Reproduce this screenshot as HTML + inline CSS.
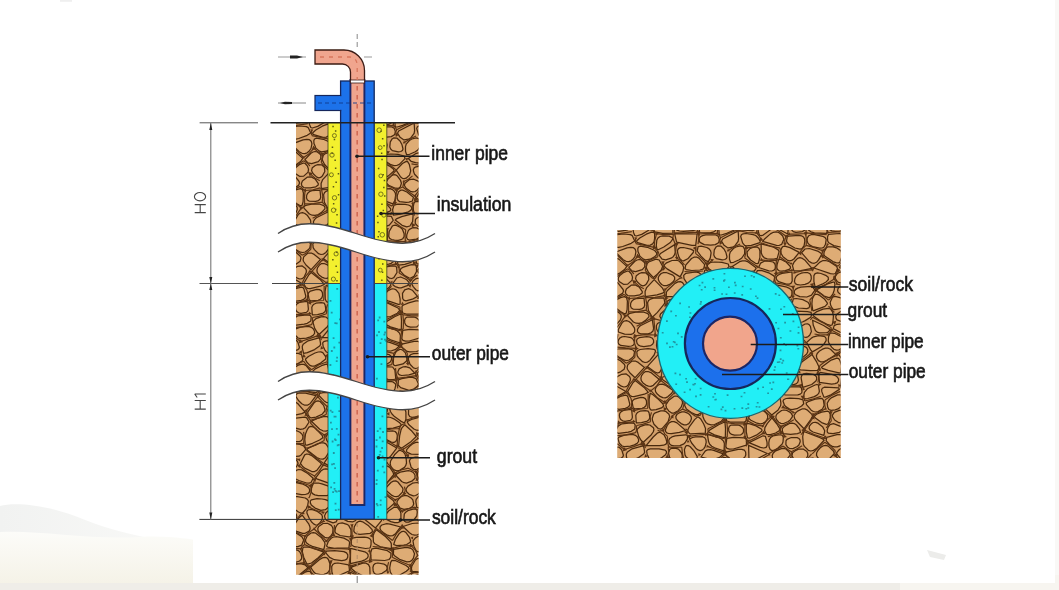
<!DOCTYPE html>
<html><head><meta charset="utf-8">
<style>
html,body{margin:0;padding:0;background:#ffffff;}
body{width:1059px;height:590px;overflow:hidden;position:relative;}
svg{position:absolute;left:0;top:0;display:block;}
text{font-family:"Liberation Sans",sans-serif;}
</style></head>
<body>
<svg width="1059" height="590" viewBox="0 0 1059 590">
<defs>
  <filter id="soft" x="-2%" y="-2%" width="104%" height="104%"><feGaussianBlur stdDeviation="0.45"/></filter>
  <g id="soilTex">
    <rect x="0" y="0" width="232" height="460" fill="#d4a06a"/>
    <path d="M102.9,-24.1 98.9,-23.9 95.9,-22.8 94.0,-21.0 93.0,-18.2 93.0,-14.6 93.7,-11.7 95.0,-9.3 97.1,-7.6 99.9,-6.5 104.1,-6.0 106.8,-7.5 107.7,-9.2 108.7,-18.6 107.8,-21.4 105.8,-23.2ZM166.6,-23.4 158.8,-23.9 155.4,-22.9 152.9,-21.0 151.4,-18.1 150.9,-14.3 151.1,-11.1 152.0,-8.6 153.6,-6.7 156.0,-5.4 158.5,-5.2 161.1,-6.0 163.9,-7.9 166.8,-10.9 170.1,-16.2 170.3,-20.7 169.0,-22.3ZM-4.8,8.4 -2.6,0.2 -3.8,-4.1 -7.6,-7.2 -10.0,-7.6 -12.6,-6.9 -15.4,-5.3 -18.4,-2.6 -19.6,0.0 -19.1,2.6 -16.8,5.1 -12.7,7.5 -7.1,9.7 -5.5,9.5ZM16.4,1.4 15.9,-2.5 13.4,-6.0 9.4,-8.2 7.2,-8.2 5.0,-7.5 1.0,-4.2 -0.4,-2.3 -1.7,2.3 -0.8,4.0 1.3,5.0 4.7,5.3 12.8,4.2 15.2,3.0ZM36.9,-2.6 32.8,-6.7 28.4,-7.1 22.9,-4.9 20.8,-3.3 18.8,0.5 19.5,6.4 20.8,9.5 22.3,10.0 27.7,8.4 34.6,4.3 36.5,2.4 37.4,0.6 37.4,-1.0ZM58.9,7.1 58.9,0.4 58.2,-1.8 56.8,-3.7 51.7,-6.9 46.4,-7.9 44.1,-7.3 40.2,-4.5 39.1,-2.9 38.5,-1.2 38.7,2.3 40.9,5.9 48.7,7.4ZM63.3,-3.7 61.6,2.5 62.8,4.1 65.5,5.0 69.5,5.4 79.1,4.6 81.8,3.6 83.2,2.3 83.3,0.6 80.6,-3.2 74.4,-7.3 71.3,-8.4 68.6,-8.5 66.4,-7.6ZM98.3,-4.7 92.6,-6.5 88.5,-5.8 85.9,-2.9 85.2,-1.2 85.0,2.6 85.7,6.5 95.9,6.8 99.0,6.2 101.1,5.0 102.3,3.1 102.5,0.8 101.9,-1.3ZM122.9,1.7 122.0,-0.6 118.2,-3.3 112.6,-5.8 108.6,-6.1 107.3,-5.3 105.5,-2.2 104.8,3.0 105.2,8.3 105.8,8.9 107.2,9.0 112.7,7.4 119.8,4.3ZM124.8,3.9 138.7,4.6 141.1,3.5 142.4,1.6 142.6,-1.0 142.1,-3.3 138.6,-7.1 132.9,-9.0 130.5,-8.7 128.4,-7.4 126.6,-5.2 124.6,-1.3ZM158.9,0.6 158.2,-1.5 152.9,-4.8 149.1,-5.7 146.4,-5.1 144.7,-2.4 144.3,-0.2 144.2,4.9 145.1,8.3 145.9,9.4 147.3,9.7 149.2,9.1 156.7,3.6ZM173.6,-10.0 172.9,-11.1 171.8,-11.2 170.2,-10.3 163.7,-3.4 161.7,0.3 165.7,3.8 173.3,7.8 173.9,6.8 174.5,-2.3ZM191.5,2.4 191.5,-0.1 190.7,-2.2 189.0,-3.9 186.5,-5.3 183.0,-6.2 180.3,-6.1 178.4,-4.8 177.3,-2.3 176.9,1.2 177.6,3.9 179.3,5.6 182.0,6.4 188.5,5.6 190.5,4.3ZM212.6,7.3 213.1,5.8 212.5,-1.0 211.2,-3.2 208.8,-4.5 205.5,-5.0 194.2,-4.3 193.6,2.2 194.7,4.3 197.0,5.8 200.4,6.8ZM234.3,2.5 237.2,-0.9 236.4,-1.8 223.2,-5.6 215.1,-6.9 214.5,1.6 215.7,3.6 217.9,4.9 221.3,5.3 225.8,5.0 232.3,3.6ZM9.8,8.0 1.4,8.7 -3.0,10.3 -4.6,14.0 -0.7,20.3 1.6,21.3 4.7,21.3 8.7,20.5 17.2,17.3 20.7,15.0 18.2,9.6 16.4,8.6ZM23.7,16.6 33.0,19.3 36.3,19.1 38.6,17.9 40.1,15.7 40.6,12.4 40.6,7.9 40.1,6.6 37.6,6.1 32.3,8.2 25.8,12.0 22.8,14.7 22.7,15.7ZM58.7,13.1 58.4,11.7 55.2,10.1 48.8,9.8 46.0,10.5 44.0,12.0 42.8,14.2 42.3,19.6 42.8,22.7 43.4,23.5 44.7,23.5 49.8,21.0 56.3,16.5ZM62.6,16.1 77.9,19.4 81.7,19.3 83.1,8.0 60.6,7.7ZM101.8,8.9 91.8,8.9 88.6,9.6 86.4,10.8 85.3,12.5 85.2,14.6 86.0,16.4 90.3,18.6 96.7,19.2 101.3,18.6 104.1,17.0 104.9,16.0 105.3,13.4 104.2,10.3ZM110.1,19.3 114.0,21.9 118.5,21.2 121.0,19.7 124.1,15.4 124.6,12.6 124.3,7.2 124.2,5.6 124.2,4.9 108.7,13.0 107.5,15.2ZM144.5,12.2 141.7,9.5 139.2,8.6 132.0,7.5 129.1,7.8 127.4,8.8 126.7,10.5 128.6,16.9 130.6,19.3 132.3,19.8 137.3,19.4 145.9,16.7 146.2,15.2ZM156.4,7.9 150.9,12.7 148.7,15.4 162.5,19.4 165.0,19.5 167.6,18.4 169.9,13.3 168.7,10.0 167.0,8.3 164.7,6.5 162.2,5.8 159.4,6.3ZM173.2,11.1 172.5,15.1 173.3,16.7 174.9,18.5 180.9,22.0 186.1,23.2 188.0,22.6 190.1,19.6 190.8,15.4 190.6,12.9 189.5,11.0 187.5,9.8 184.8,9.3 174.6,10.1ZM193.3,11.8 193.1,14.7 193.9,17.1 195.8,19.1 198.6,20.6 205.7,22.1 208.1,22.0 209.8,21.3 211.4,18.5 212.2,13.3 211.1,11.6 208.8,10.3 200.6,8.6 197.1,8.7 194.7,9.8ZM225.4,7.5 214.5,8.4 213.5,11.0 213.7,15.0 214.8,16.8 219.8,19.6 226.7,21.0 230.2,21.1 231.0,19.4 231.5,12.0 230.5,9.7 228.5,8.2ZM247.8,19.4 249.9,16.2 250.0,14.4 249.2,13.1 242.8,6.1 240.4,4.4 238.5,3.6 237.1,3.8 234.8,8.9 233.9,14.6 234.5,17.0 235.9,18.8 238.3,19.9 244.1,20.5ZM-0.5,25.7 -3.6,19.8 -5.8,18.8 -8.8,18.9 -12.6,20.2 -20.7,24.5 -23.9,27.4 -23.7,28.3 -20.4,30.3 -13.1,32.5 -6.9,32.5 -4.8,31.3ZM13.1,21.8 1.5,26.2 9.2,33.8 12.1,35.3 14.8,35.7 17.2,34.8 19.5,32.7 21.0,30.5 21.9,25.8 21.2,23.2 19.5,21.7 16.8,21.3ZM33.3,21.3 26.4,20.1 24.5,21.0 23.8,22.8 24.0,25.6 25.9,30.1 29.4,33.1 31.5,33.8 36.2,33.2 40.6,30.8 42.9,28.3 42.4,26.6 40.7,24.5ZM45.2,29.3 48.1,33.2 51.7,33.8 57.0,32.2 59.2,30.7 60.6,28.7 61.2,26.3 60.7,18.6 46.5,27.5ZM73.8,32.8 79.2,26.5 79.7,24.6 76.6,23.1 69.4,21.5 66.3,21.6 64.4,22.6 63.5,24.4 63.7,27.0 65.1,31.4 66.3,33.1 67.8,34.5 69.6,34.9ZM87.0,30.1 91.6,34.6 94.4,35.6 96.3,31.9 97.1,26.9 96.5,24.7 95.1,22.9 92.8,21.5 87.1,20.2 84.1,20.7 83.2,25.0ZM100.3,23.8 99.8,28.9 100.7,31.0 102.4,32.6 108.3,33.8 110.8,33.5 112.4,32.5 113.0,31.0 112.0,26.8 110.0,23.0 107.1,20.2 104.0,19.9 102.3,20.7ZM121.9,21.0 119.4,22.5 116.2,26.2 115.5,28.6 115.5,33.3 116.6,36.7 119.6,36.3 125.3,33.8 127.8,32.0 130.6,27.9 130.7,23.5 129.2,20.7 126.1,19.8ZM133.1,25.9 133.4,30.0 136.6,34.0 141.5,37.3 143.2,37.6 144.4,37.1 145.9,31.4 145.9,25.0 145.1,22.5 143.5,21.2 141.2,20.9 138.1,21.7 135.7,22.8ZM158.8,20.8 147.1,17.9 147.3,27.1 148.4,29.8 150.3,31.8 153.2,32.9 156.9,33.2 159.8,33.2 163.2,32.4 165.1,25.6 164.2,23.9ZM185.2,26.4 176.0,21.6 170.7,20.2 169.0,20.5 168.0,21.5 166.9,24.0 167.0,27.2 169.0,30.7 173.2,34.1 175.5,34.8 177.7,34.4 179.9,33.0ZM207.5,28.7 207.3,27.6 204.4,25.4 195.3,22.5 191.0,23.0 187.5,26.7 194.8,35.2 197.6,36.9 200.2,37.3 202.5,36.3 204.6,33.9ZM225.7,36.4 227.6,31.4 227.7,26.8 226.8,24.7 222.5,21.8 219.1,20.9 214.1,20.8 212.5,21.6 210.2,25.7 209.8,28.4 210.7,30.0 218.9,35.6 221.8,36.7 224.1,37.0ZM230.7,23.3 230.0,28.9 230.7,31.0 232.4,32.6 235.1,33.8 241.5,35.1 243.5,35.2 245.2,34.1 245.6,27.3 244.6,25.4 242.9,24.0 240.4,23.1 231.5,22.2ZM-7.9,39.5 -7.6,38.2 -10.3,35.7 -17.3,33.3 -20.3,33.3 -22.3,34.6 -23.3,37.1 -23.3,40.9 -22.4,43.4 -20.5,44.7 -17.7,44.7 -13.9,43.3 -11.0,42.0ZM5.2,47.4 10.8,43.2 12.8,40.4 4.8,33.1 -0.1,31.0 -1.8,31.6 -4.0,34.8 -5.3,37.9 -5.5,39.4 -4.6,43.0 -1.9,47.5 0.0,48.6 2.4,48.6ZM21.6,45.7 28.3,43.6 30.7,40.9 30.9,37.6 30.2,36.2 27.1,33.8 25.1,33.5 23.1,34.0 20.9,35.3 14.9,41.6 18.0,44.9ZM43.6,48.1 47.4,43.6 48.6,40.2 45.2,34.0 41.9,33.2 34.7,36.0 33.3,37.4 32.3,40.8 32.6,42.6 34.6,46.5 39.5,51.6ZM66.1,50.9 68.9,45.6 69.7,41.4 68.5,38.5 65.3,35.3 63.2,34.3 58.0,34.5 52.6,36.8 50.3,38.9 50.2,39.9 51.2,41.2 53.1,42.9ZM77.9,44.5 85.9,44.0 89.7,42.9 90.6,38.9 90.1,37.8 84.9,32.1 82.5,31.0 80.0,31.2 77.5,32.5 71.7,39.2 71.1,42.5 72.2,43.6ZM108.0,36.4 100.8,36.0 96.5,36.5 93.8,38.4 93.1,40.3 95.2,43.0 100.9,46.7 103.9,47.6 106.7,47.5 109.3,46.4 115.0,40.6 114.2,38.0ZM118.3,40.5 121.1,43.3 125.6,44.7 136.3,45.8 140.4,44.8 142.1,42.3 141.7,41.5 134.2,35.9 131.3,34.9 128.5,34.8 125.6,35.7ZM146.6,37.1 144.7,41.5 154.8,44.8 157.9,45.0 160.0,44.2 161.2,42.5 161.4,39.7 160.7,37.5 159.1,36.0 153.1,35.0 150.3,35.2ZM172.4,36.3 166.6,33.3 164.6,33.6 163.1,38.6 162.8,41.5 163.5,43.6 165.2,44.8 167.8,45.1 171.4,44.7 175.7,43.1 176.5,41.9 176.3,40.5ZM186.9,44.6 197.9,42.4 191.1,34.3 188.4,32.4 185.9,31.7 183.6,32.4 181.5,34.5 179.9,36.4 178.5,39.6 179.9,44.8ZM221.3,47.5 223.5,42.9 222.8,40.6 214.8,35.3 211.6,34.5 208.6,34.7 205.9,36.1 199.9,42.0 216.4,47.7 219.4,48.0ZM243.0,46.4 243.3,41.2 242.4,39.6 238.3,37.4 235.0,36.7 230.0,36.7 228.3,37.5 225.5,41.3 228.9,43.4 241.4,46.9ZM-13.5,46.6 -23.8,51.2 -15.4,57.4 -12.3,58.5 -9.6,58.6 -7.1,57.5 -3.7,53.1 -3.4,51.1 -4.0,49.1 -5.4,47.2 -7.5,46.1 -10.2,45.9ZM5.1,55.4 9.5,58.3 13.7,58.1 18.1,54.1 18.5,51.1 17.5,48.2 15.2,45.5 13.5,45.0 8.9,46.9 6.1,49.2 4.5,51.4 4.2,53.4ZM34.5,49.6 31.7,46.8 27.8,46.6 25.3,47.5 22.3,49.7 21.6,52.7 23.2,55.8 26.8,59.1 28.8,59.8 30.6,59.4 32.3,58.1 34.8,53.5ZM55.8,58.4 59.1,55.8 60.7,53.4 60.6,51.2 58.8,49.2 52.2,46.5 49.5,46.6 47.2,47.5 45.3,49.5 44.3,51.5 44.4,53.7 45.5,56.1 47.6,58.5 50.0,59.7 52.7,59.7ZM86.9,52.6 87.3,49.9 86.5,47.9 84.7,46.6 81.7,46.0 71.9,47.3 69.7,49.4 70.0,52.6 72.7,56.9 74.6,58.3 76.8,59.0 79.3,58.9 84.3,56.6ZM89.8,49.9 90.6,56.8 92.6,59.3 94.1,59.6 98.1,58.1 104.2,52.7 103.4,51.1 99.5,48.1 92.2,44.0 91.1,44.0 90.6,44.7ZM120.7,52.9 119.3,46.3 117.6,43.7 116.3,43.4 112.4,45.5 106.2,52.2 110.7,59.0 112.4,60.3 114.3,60.7 116.1,60.2 119.5,57.1ZM137.8,60.0 139.6,53.5 139.6,51.7 138.6,50.3 133.3,48.7 129.1,48.4 126.0,48.8 124.1,49.9 123.3,51.7 123.7,54.1 124.6,56.2 128.0,59.8 135.2,62.9ZM154.7,46.8 147.3,44.4 143.4,44.6 142.3,47.0 142.5,53.0 143.6,54.8 148.8,57.3 155.9,58.2 159.4,57.7 160.7,51.5 159.8,49.9ZM162.3,51.2 162.3,52.9 163.3,54.5 165.3,55.9 172.3,58.1 175.2,58.2 177.2,57.1 178.2,55.0 178.0,46.0 168.1,47.4 165.2,48.4 163.2,49.7ZM186.6,59.0 191.0,58.3 194.3,57.1 196.4,55.3 197.3,52.9 197.1,49.9 196.0,47.8 193.9,46.7 191.0,46.5 187.2,47.2 184.3,48.5 182.2,50.3 180.9,52.7 180.5,55.5 181.3,57.6 183.4,58.7ZM199.9,49.6 199.9,55.5 201.0,60.3 202.4,60.5 208.1,58.2 212.4,55.7 214.4,53.5 214.2,51.3 211.7,49.3 207.0,47.5 203.5,46.9 201.1,47.6ZM239.0,58.8 240.6,56.1 240.9,52.8 239.9,51.2 238.0,49.7 231.2,47.0 227.9,46.4 225.4,46.5 223.5,47.3 221.5,50.1 221.2,52.4 223.2,55.4 224.5,56.3 232.8,58.6ZM-3.6,56.9 -8.1,61.5 -9.8,64.5 -9.0,66.4 -4.7,70.8 -2.6,71.8 2.2,71.3 8.5,67.4 9.5,65.0 9.1,63.5 3.9,56.9 1.4,55.7 -1.1,55.7ZM25.4,61.3 21.3,58.9 17.2,59.2 12.4,63.0 11.4,65.8 11.9,68.0 13.8,69.5 15.4,69.9 20.2,69.8 25.8,68.8 28.2,66.9 28.3,65.6ZM49.8,66.3 50.1,65.2 48.5,62.1 40.2,53.6 32.7,61.6 31.1,65.4 31.2,69.5 31.7,70.4 33.0,70.4 43.0,68.9 48.6,67.2ZM58.6,70.7 66.2,69.7 68.7,69.0 71.1,67.1 72.6,63.4 71.4,60.7 68.5,56.6 66.4,55.6 63.9,55.9 61.0,57.4 53.3,64.7 52.4,66.3 52.2,70.6ZM90.7,71.7 93.6,67.9 94.4,65.4 90.2,61.3 88.5,60.7 83.7,60.7 78.3,61.8 75.9,62.9 76.6,64.7 83.5,71.0 86.2,72.4 88.6,72.6ZM110.3,68.9 111.4,65.3 110.4,62.0 107.4,58.0 105.6,56.9 103.6,56.7 101.6,57.6 97.8,61.2 96.4,64.0 96.5,65.1 98.6,67.3 105.4,70.2 108.6,70.3ZM128.7,63.4 123.8,61.2 119.5,61.6 115.0,65.2 114.4,67.5 116.1,70.2 120.4,73.3 122.8,73.9 125.1,73.5 127.3,72.0 129.4,69.4 130.3,67.2 130.1,65.2ZM158.0,65.5 158.1,63.4 157.2,61.8 152.3,59.5 148.5,59.0 142.8,59.4 141.1,60.3 139.7,63.3 141.4,66.9 143.3,68.9 148.0,70.9 150.6,70.7 155.8,68.7ZM160.1,69.3 173.2,71.3 176.8,71.3 177.9,68.6 177.9,65.2 176.9,63.6 174.8,62.1 171.8,60.8 161.0,58.6 160.0,61.2ZM197.5,69.2 200.9,64.1 198.6,60.9 196.9,60.4 186.8,61.2 183.7,62.1 181.5,63.4 180.4,65.0 180.3,66.9 181.1,68.5 185.8,70.6 192.8,71.0ZM213.5,57.9 202.8,63.6 203.6,65.0 210.2,70.1 214.8,71.7 216.5,71.2 218.8,68.2 220.2,64.2 220.9,58.3 220.4,56.2 219.1,56.1ZM228.6,70.0 235.1,72.5 237.9,72.6 237.9,65.1 237.0,63.3 232.8,60.9 227.0,60.4 225.1,61.2 224.0,62.6 223.6,64.7 224.3,66.6ZM-3.3,75.4 -7.2,71.1 -9.2,70.6 -14.3,72.2 -17.3,74.3 -18.9,76.6 -19.1,78.9 -18.0,81.5 -15.5,84.1 -13.0,85.6 -10.7,86.0 -8.3,85.2 -4.4,81.5 -2.8,78.2ZM12.5,71.6 10.4,70.6 6.5,71.6 1.9,74.2 -0.3,76.9 0.1,79.8 1.5,81.5 6.4,85.5 10.4,87.7 11.6,87.7 12.2,87.0 13.1,83.6 13.4,75.0ZM30.0,72.1 21.9,72.7 19.4,73.7 17.7,75.2 16.7,77.3 16.5,79.9 17.4,81.9 19.1,83.1 25.7,83.4 28.4,82.6 30.0,81.3 30.7,79.3ZM43.4,86.4 50.1,78.2 50.8,76.3 49.9,71.8 39.5,72.2 36.5,73.1 34.6,74.6 33.6,76.7 34.4,84.3 38.3,91.2ZM65.1,84.1 67.0,83.0 69.3,79.8 69.3,75.4 68.1,73.8 66.1,72.8 63.0,72.5 56.1,73.6 53.0,75.4 53.4,77.9 58.6,83.0 60.9,84.1ZM70.8,75.1 71.1,77.2 73.0,80.9 76.9,84.0 79.0,84.7 82.9,83.9 86.1,81.0 87.4,79.0 84.7,75.6 79.2,71.0 74.6,68.8 73.0,69.0 72.0,70.2ZM102.9,85.9 104.8,82.6 105.6,77.4 105.3,75.0 104.2,73.1 102.5,71.6 100.2,70.6 95.9,70.8 93.9,72.1 90.8,75.7 89.9,78.5 97.5,83.9ZM122.4,83.0 123.4,79.3 116.9,74.0 112.7,72.1 111.0,72.1 108.6,73.8 107.3,77.6 107.2,80.3 108.0,82.3 109.8,83.7 116.1,84.4 119.0,84.2ZM136.5,65.3 129.9,73.5 126.4,79.9 128.9,81.7 135.3,83.7 142.1,84.2 143.7,82.3 144.1,80.8 143.5,74.4 141.3,70.1 138.3,66.5ZM150.2,81.3 153.0,81.7 155.2,81.3 156.6,80.1 157.4,78.1 157.6,75.3 157.0,73.4 155.6,72.4 150.5,73.1 146.8,75.3 146.1,76.7 146.8,79.6ZM160.5,83.7 164.1,83.7 173.2,81.5 175.1,80.3 176.0,78.8 176.1,77.1 175.2,75.6 170.6,73.2 166.8,72.3 163.9,72.4 161.9,73.5 160.7,75.6ZM184.4,82.0 192.7,82.7 194.8,81.9 195.7,80.4 195.2,78.1 193.9,76.2 188.8,73.6 182.3,72.5 179.3,72.8 177.9,78.5 178.8,79.9ZM199.1,84.8 211.0,80.4 213.4,77.8 213.1,76.5 210.7,73.3 205.8,69.4 203.5,68.4 201.6,68.3 200.1,69.2 198.3,73.1 197.9,77.9 198.7,84.0ZM216.2,76.3 216.6,79.0 217.9,81.7 218.9,83.1 220.7,83.7 226.6,82.5 236.9,77.5 226.9,71.8 221.1,70.4 219.2,70.9 218.0,72.2ZM255.6,70.2 243.3,72.0 240.0,73.8 238.7,77.7 239.0,79.3 240.7,81.4 244.2,82.1 250.3,81.9 252.9,81.0 254.6,79.5 255.6,77.3ZM5.6,87.1 2.9,85.4 0.3,84.6 -2.3,84.7 -4.8,85.7 -10.7,91.0 -4.7,98.2 -0.4,101.9 6.3,94.0 7.3,91.4 7.1,89.1ZM14.0,90.1 19.4,96.0 22.2,97.2 25.1,97.4 28.3,96.5 31.6,94.4 34.9,90.8 34.9,89.1 33.8,87.6 29.3,86.0 21.6,86.2 15.9,87.3 13.8,88.8ZM60.5,92.9 60.3,88.4 57.8,84.9 55.6,83.6 53.4,83.2 51.2,83.8 46.5,88.0 45.8,90.3 46.8,92.1 49.4,93.7 53.7,94.8 57.0,95.1 59.3,94.4ZM70.5,96.4 76.6,92.3 79.2,89.8 77.4,87.4 73.6,84.5 69.6,83.6 67.7,84.1 64.7,87.0 63.2,91.3 63.2,96.1 64.3,99.1ZM81.3,88.8 81.2,91.0 82.4,93.5 83.4,94.8 85.2,95.7 87.7,96.0 95.0,95.1 99.9,93.2 100.8,92.0 100.5,90.7 98.0,87.6 92.8,84.1 90.2,83.1 87.9,82.9 85.8,83.5 82.8,86.3ZM110.6,96.2 118.4,93.8 120.6,92.4 121.7,90.9 121.6,89.3 120.5,88.0 118.4,87.0 115.2,86.4 107.8,86.2 104.0,87.1 102.6,91.7 103.4,97.1ZM135.3,85.5 128.8,83.7 125.2,83.7 123.9,85.4 123.3,88.5 123.4,92.2 124.1,94.5 124.7,95.1 128.5,95.9 141.9,95.9 141.2,90.3 140.1,88.5ZM144.0,85.5 143.9,91.4 145.0,92.7 149.5,93.5 152.9,93.0 155.5,92.2 158.4,89.8 158.7,85.5 150.3,84.0 145.9,84.1ZM176.2,88.4 176.1,86.7 175.2,85.5 173.5,84.9 170.9,85.0 164.7,86.5 161.5,89.1 160.8,92.4 161.4,95.1 162.2,96.3 163.6,96.7 168.2,95.4 173.8,91.9ZM178.5,87.1 180.2,92.3 182.5,95.7 184.1,96.6 188.4,96.0 191.2,94.6 196.7,91.3 197.5,89.3 197.1,86.3 193.4,85.7 181.6,85.1 179.4,85.8ZM205.8,94.5 214.0,98.7 216.5,99.3 218.0,99.0 218.9,96.3 219.4,90.2 218.6,86.2 216.5,83.0 214.6,82.3 209.0,83.1 202.3,85.9 199.3,88.3 199.2,89.3 200.2,90.6ZM236.9,81.8 227.4,84.9 222.6,88.4 221.8,90.3 222.0,92.2 223.0,93.8 227.1,95.4 230.3,95.6 235.0,94.9 237.5,93.0 239.3,88.3 239.5,84.7 238.9,82.5ZM-16.2,97.1 -24.3,102.9 -18.1,108.3 -15.5,109.2 -12.8,109.2 -10.1,108.0 -7.3,105.8 -5.7,103.6 -5.3,101.4 -6.2,99.3 -8.2,97.1 -10.6,96.0 -13.3,96.0ZM10.6,108.1 17.2,108.3 19.2,107.5 20.4,106.1 20.8,104.0 20.4,101.9 17.5,97.6 14.9,95.5 12.5,94.6 10.3,95.0 8.2,96.6 4.2,103.7 4.4,106.0ZM39.6,102.3 38.3,93.7 26.3,99.8 24.5,101.6 23.5,103.5 23.5,105.5 24.5,106.9 26.6,107.8 34.0,107.9 37.1,106.8 39.0,105.0ZM42.4,99.7 42.6,103.0 43.9,105.6 46.3,107.3 49.8,108.1 60.3,107.4 61.8,106.6 62.8,103.3 61.7,100.6 60.2,99.7 49.2,96.5 45.7,96.4 43.5,97.5ZM81.7,108.2 82.8,105.6 83.4,99.3 82.2,95.9 81.2,94.7 79.5,94.4 77.2,95.1 65.4,102.8 78.2,107.5ZM103.2,102.3 101.4,98.4 95.2,97.8 91.7,98.3 87.0,100.4 85.9,102.1 85.6,104.2 86.1,105.8 87.4,107.1 89.5,108.1 95.1,108.6 99.3,107.1ZM122.6,103.6 123.1,97.2 122.7,96.4 121.4,96.1 111.7,98.6 106.4,100.8 105.2,102.1 112.1,107.3 116.7,108.9 119.9,108.0ZM141.6,101.3 141.4,100.2 138.2,98.9 131.6,98.7 128.7,99.2 126.6,100.2 125.4,101.7 125.2,105.3 127.4,107.9 129.5,108.8 133.8,108.5 138.5,105.6 140.2,103.9ZM161.5,104.0 161.1,99.2 159.9,97.3 156.3,96.6 144.1,97.7 144.2,100.8 144.9,102.3 148.2,106.3 153.2,110.3 155.4,110.8 157.3,110.4 160.2,107.5ZM176.3,107.1 180.3,105.2 182.1,102.8 182.0,100.0 178.9,95.7 177.0,95.0 174.7,95.0 172.0,95.8 166.5,98.9 164.0,102.2 164.3,105.4 167.1,107.2 171.8,107.9ZM186.3,107.6 190.0,111.0 191.9,111.3 193.8,110.8 195.7,109.3 197.4,105.5 196.4,100.3 195.1,98.6 193.4,97.8 191.2,98.0 185.0,101.4 183.9,103.2ZM199.3,99.3 201.4,104.5 203.2,106.1 205.6,106.9 212.7,106.6 214.1,106.1 216.2,103.6 209.6,99.5 198.6,94.2ZM237.5,112.1 235.6,103.6 234.1,101.1 232.0,99.3 229.2,98.3 225.8,98.1 223.2,98.3 220.2,99.6 219.2,102.6ZM249.8,99.1 243.2,95.0 241.0,94.3 239.5,94.6 238.3,97.7 238.2,99.9 238.9,105.7 240.2,107.6 242.4,108.3 245.5,107.6 249.4,105.7 251.4,103.7 251.5,101.4ZM-0.7,104.6 -11.7,111.3 -13.9,114.5 -13.7,115.9 -11.3,118.8 -9.0,120.3 -3.5,122.8 -0.5,123.0 0.5,120.8 2.0,113.4 1.8,107.4ZM6.7,119.4 14.3,120.4 17.5,120.0 19.5,119.0 20.4,117.2 19.9,114.8 18.8,113.0 16.8,111.6 10.7,110.5 7.9,110.9 5.9,112.0 4.6,113.7 4.0,116.1 4.7,118.0ZM22.5,114.9 23.1,117.4 24.5,119.1 26.8,120.2 29.9,120.7 36.7,119.6 38.6,118.3 39.6,116.4 39.5,114.0 38.4,112.3 36.2,111.2 32.8,110.7 25.2,111.7 23.2,113.0ZM44.9,125.5 58.2,118.6 61.1,115.0 61.0,113.4 59.8,112.2 57.6,111.4 54.3,111.1 46.6,111.9 44.3,113.2 42.9,115.0 42.5,119.4 43.1,122.6ZM79.5,114.9 79.8,113.2 79.1,111.5 74.6,108.4 70.8,107.0 65.5,106.2 64.0,106.7 63.2,108.0 62.4,111.0 62.7,114.9 64.3,118.5 67.3,121.7 69.1,122.4 71.1,122.4 73.3,121.5 77.4,118.2ZM94.3,124.6 95.7,120.2 95.8,115.4 95.0,113.3 93.5,111.6 91.3,110.5 84.3,109.1 82.7,109.5 81.9,114.9 84.0,119.0 91.4,124.4ZM110.5,109.5 105.9,107.2 103.9,107.3 102.3,108.1 99.2,113.5 98.7,118.3 99.6,120.2 101.5,121.5 104.4,122.2 108.2,122.3 111.1,121.7 113.0,120.4 114.1,118.5 114.1,115.8 112.4,111.3ZM119.4,122.1 126.5,121.1 131.6,118.5 132.5,116.8 132.4,114.9 130.6,111.8 126.6,109.9 122.7,109.7 119.4,111.4 118.2,112.9 116.8,116.9 116.6,119.5 117.5,121.2ZM149.6,111.6 144.9,107.8 142.6,107.4 140.3,108.1 138.0,109.8 135.2,113.3 134.8,115.2 135.3,118.8 136.7,121.8 137.8,123.0 139.4,123.3 141.7,122.7 147.9,118.9 149.9,116.5 150.5,114.1ZM157.3,117.1 173.5,125.1 172.6,115.7 171.7,112.8 170.3,110.7 168.6,109.5 166.4,109.1 162.3,109.7 155.6,115.0ZM181.3,120.7 190.1,116.6 185.4,110.3 183.6,108.8 179.8,107.9 177.9,108.6 176.6,109.9 175.7,111.9 175.6,117.9 176.6,120.0 178.5,121.0ZM212.1,114.6 212.1,112.7 211.4,111.3 209.9,110.3 204.7,109.6 199.6,110.8 197.4,112.1 194.0,115.2 193.0,116.1 192.6,116.5 196.7,123.9 198.4,125.9 207.2,120.7 209.6,118.6ZM228.5,111.4 220.5,107.3 216.2,106.8 214.6,110.8 214.3,114.8 214.8,116.9 217.6,121.1 219.9,123.3 222.4,124.2 225.0,123.9 227.9,122.3 230.8,119.4 232.0,116.7 231.2,114.0ZM249.8,108.3 238.7,114.0 242.5,120.8 244.5,122.3 246.8,122.9 249.3,122.4 252.1,120.9 254.2,118.9 255.6,116.5 256.1,110.3 255.0,108.3 252.9,107.6ZM-24.2,127.1 -14.9,134.3 -11.7,135.7 -9.0,135.8 -6.8,134.7 -2.7,128.2 -5.0,125.8 -10.2,123.2 -13.1,122.4 -18.3,123.1ZM4.8,131.1 10.4,134.2 12.9,134.5 15.2,134.0 18.8,131.2 19.9,129.6 20.5,125.8 19.4,124.3 17.2,123.3 13.9,122.6 3.2,123.0 1.4,123.9 -0.4,127.4ZM22.8,125.9 23.2,129.7 24.4,131.6 28.6,135.7 31.0,136.5 33.5,136.1 35.9,134.4 40.1,129.0 41.5,125.3 41.2,124.1 39.8,123.3 34.0,122.7 26.2,123.5 24.0,124.5ZM67.6,134.8 68.1,132.1 67.3,127.2 64.2,122.3 62.2,121.6 56.2,122.9 52.2,124.8 48.0,128.2 47.8,129.6 48.8,130.7 53.3,132.8 64.2,134.9ZM87.8,124.8 82.2,122.0 79.5,121.8 76.7,122.4 72.1,125.4 70.7,127.0 70.0,130.5 71.1,131.8 73.3,132.8 76.6,133.3 81.0,133.4 87.3,132.6 89.1,131.6 91.8,127.8ZM109.1,133.4 113.0,129.1 114.6,126.3 108.5,124.9 101.3,124.4 97.2,125.1 94.5,127.6 101.5,133.6 104.2,134.7 106.7,134.6ZM138.8,128.5 137.2,125.0 136.1,123.7 134.1,122.9 127.9,123.1 120.3,124.9 117.0,126.5 117.4,128.2 119.6,130.9 121.4,132.6 123.7,133.5 129.6,133.0ZM141.3,128.0 142.7,132.3 143.8,133.2 148.1,133.9 151.3,133.8 153.6,132.8 155.2,131.0 156.1,128.4 155.5,117.8 149.9,120.6ZM159.4,135.0 160.1,136.0 161.3,136.1 163.2,135.4 173.0,127.7 164.0,123.1 161.4,122.7 159.6,123.5 158.7,125.5 158.6,128.8ZM175.1,128.2 179.4,133.7 181.6,134.6 184.1,134.3 187.1,132.9 192.7,128.0 193.8,125.8 193.7,123.6 192.6,121.6 190.7,120.5 188.1,120.5 184.8,121.5 175.8,126.0 174.9,126.7ZM221.8,128.6 216.5,123.3 214.2,122.2 211.5,122.2 208.5,123.2 205.2,125.3 203.2,127.5 202.4,129.7 202.8,132.1 204.4,134.6 206.6,135.8 209.3,135.9 212.5,134.7ZM232.2,120.6 224.6,128.3 227.8,133.1 229.6,134.0 235.3,133.4 241.9,130.5 244.5,128.0 242.7,123.9 239.5,119.6 237.3,118.6 234.9,118.9ZM-7.9,140.2 -1.0,146.6 3.8,146.8 6.6,145.8 10.1,143.3 11.0,140.0 10.3,138.3 6.5,134.8 3.4,133.1 0.7,132.4 -1.7,132.7 -3.8,134.0ZM21.1,151.7 30.5,141.4 24.2,136.4 21.8,135.2 17.7,135.2 13.7,138.9 13.1,141.9 13.6,143.5 16.0,147.0ZM47.0,144.2 47.9,140.5 48.1,134.6 47.5,132.4 44.4,128.3 35.3,138.4 34.0,139.9 33.3,140.6 41.1,146.2 43.6,147.0 45.6,146.4ZM66.3,139.9 66.2,138.9 63.1,137.3 56.4,136.0 53.4,136.4 51.2,137.8 49.9,140.2 49.4,143.5 50.1,145.5 52.1,146.3 55.3,145.8 63.2,142.5ZM75.2,145.2 83.0,148.7 86.9,149.5 87.6,147.8 87.3,140.6 86.1,138.2 83.9,136.5 80.8,135.4 73.6,134.8 70.0,135.6 68.7,140.5 69.8,141.8ZM89.4,139.4 89.6,142.7 90.6,145.0 92.5,146.3 95.2,146.7 98.7,146.1 101.3,145.3 104.1,143.0 103.6,139.8 102.2,137.9 97.2,133.6 92.9,131.6 91.5,131.8 90.5,132.8ZM114.8,146.4 121.0,144.4 122.6,143.0 123.3,141.4 121.7,135.9 119.0,132.3 117.3,131.6 115.4,131.9 113.3,133.2 111.0,135.5 108.0,139.7 107.4,141.6 107.8,145.9 108.7,147.1ZM127.0,146.0 136.3,145.0 140.6,142.5 141.4,140.9 141.3,139.0 140.2,133.1 138.9,132.6 133.9,133.6 130.1,135.2 125.7,138.4 125.0,140.1ZM144.2,143.4 146.9,148.4 148.6,149.2 153.4,148.4 156.4,146.7 160.0,143.7 160.5,142.2 159.6,139.7 158.5,138.1 156.6,137.1 149.2,137.0 146.9,137.5 144.3,139.9ZM181.4,141.0 176.1,133.3 174.0,132.2 171.7,132.2 169.2,133.3 163.1,139.2 162.6,140.9 163.4,143.6 166.8,147.0 168.7,147.5 171.0,147.2 176.9,144.7 179.3,143.3ZM203.5,144.3 204.9,142.5 204.9,140.7 202.3,135.3 198.1,128.6 188.5,135.5 183.0,140.6 184.1,142.9 186.4,143.8 196.3,144.7ZM207.5,141.3 208.4,142.3 214.2,144.4 225.0,146.9 226.5,146.7 226.9,145.8 227.6,139.8 225.9,134.4 224.7,132.7 222.9,132.1 217.2,134.1ZM230.1,140.8 230.2,142.3 231.3,143.7 233.2,144.9 242.9,147.5 246.5,147.3 247.7,145.3 248.5,141.7 248.4,135.4 246.7,132.8 242.6,132.8 232.8,137.5ZM-4.1,147.8 -6.1,145.5 -8.3,144.5 -10.8,144.8 -13.4,146.2 -16.3,149.0 -17.6,151.4 -17.4,153.6 -15.5,155.5 -12.1,157.1 -7.0,158.2 -5.4,157.7 -1.8,152.4ZM14.0,159.3 16.3,154.3 16.3,152.2 15.5,150.4 12.2,147.9 7.8,148.3 3.2,150.7 0.8,152.9 0.5,153.9 2.3,156.5 7.3,160.2 9.9,161.0 12.1,160.7ZM29.0,156.9 31.8,159.1 34.4,160.2 36.9,160.3 39.3,159.3 44.2,154.4 44.7,153.1 36.9,146.6 34.1,145.5 31.6,145.6 29.5,147.0 27.6,149.6 26.9,152.2 27.3,154.6ZM48.8,153.8 57.8,159.9 59.9,160.2 61.6,159.5 65.1,154.0 66.3,148.7 65.5,147.1 63.3,146.5 59.8,147.1 47.7,151.5ZM82.3,151.0 74.9,146.9 71.5,146.2 69.2,146.6 68.0,148.4 67.8,151.4 68.5,153.9 70.1,155.9 72.5,157.5 75.9,158.5 81.0,158.3 82.8,157.0 84.0,155.0 83.9,153.0ZM93.1,156.0 99.4,160.1 101.8,160.5 103.8,159.7 107.0,154.5 106.6,149.3 105.6,148.1 102.2,147.9 92.7,149.3 89.3,150.5 88.7,151.1 89.2,152.3ZM114.3,157.4 118.8,159.9 120.7,160.1 124.0,158.2 126.5,153.5 126.4,148.8 125.3,146.9 121.8,146.7 118.9,147.3 112.7,149.4 111.0,150.6 110.2,151.8 110.4,153.1ZM128.0,151.7 127.9,153.6 130.2,157.0 135.6,160.0 138.4,160.7 140.8,160.5 142.9,159.5 147.4,154.0 143.8,148.2 141.8,146.9 139.4,146.3 136.5,146.5 130.5,148.7ZM167.9,156.1 167.6,151.7 166.8,150.0 164.1,147.5 162.2,147.2 156.9,149.0 148.7,154.6 151.8,157.3 154.8,159.4 162.0,164.2 164.0,165.6 165.0,166.3 167.3,160.2ZM184.4,154.1 182.9,144.9 181.9,144.8 180.2,145.4 172.7,149.9 170.6,153.7 170.8,155.7 171.8,157.2 176.2,158.7 179.6,158.7 182.1,157.9 183.7,156.4ZM188.8,161.4 197.7,158.5 201.9,155.1 202.7,153.2 202.6,151.2 201.5,149.6 199.4,148.4 192.5,147.3 189.6,147.8 187.8,149.3 187.1,151.7ZM218.0,148.3 206.2,146.4 205.3,147.5 204.9,150.5 205.5,156.4 217.7,158.1 221.0,157.7 223.2,156.8 224.4,155.2 224.6,153.1 223.5,151.2 221.4,149.6ZM245.2,154.8 245.1,153.1 242.2,150.3 235.7,148.3 229.2,147.8 227.6,151.0 226.4,160.8 238.2,158.9 241.8,157.7 244.1,156.3ZM-6.2,164.6 -5.7,170.4 -4.0,172.6 -2.3,172.7 3.0,170.7 11.9,165.5 3.6,160.7 -1.2,158.9 -2.9,159.1 -4.1,159.9ZM13.6,165.6 16.0,169.5 17.6,170.4 20.1,170.6 30.3,168.2 34.3,166.4 30.1,161.4 21.2,154.5 18.9,156.7ZM53.7,170.8 57.7,167.2 59.2,164.6 51.2,159.1 48.4,158.2 45.9,158.3 43.7,159.4 41.9,161.5 41.2,163.7 41.7,165.9 43.3,168.1 46.1,170.4 48.8,171.6 51.3,171.8ZM64.7,159.7 61.3,163.2 61.4,164.9 67.4,170.3 69.7,171.3 74.5,171.0 77.0,169.7 78.9,168.4 80.9,165.6 80.9,164.1 80.1,162.7 75.8,160.3 69.3,158.8ZM82.7,164.2 82.8,167.6 83.8,169.4 87.6,173.2 89.9,174.1 92.2,174.1 94.6,173.1 99.0,169.5 100.9,166.9 100.1,164.6 92.6,157.4 89.8,155.8 87.5,155.4 85.9,156.3ZM102.9,165.3 103.0,166.9 105.2,168.6 109.0,169.8 111.1,169.8 117.2,167.7 119.0,165.8 119.1,164.7 117.3,162.3 115.4,161.0 110.6,159.0 106.8,160.0ZM134.5,162.4 129.3,160.5 127.2,160.4 125.5,160.9 123.0,163.0 121.7,165.8 123.0,168.4 126.1,172.0 128.1,172.8 130.2,172.5 135.0,168.3 136.2,166.0 136.0,164.1ZM144.0,168.3 145.9,171.1 148.2,172.6 150.8,172.9 153.8,172.0 157.2,169.9 158.8,167.7 158.6,165.6 156.7,163.5 153.0,161.3 147.2,159.8 145.1,160.4 143.5,161.9 142.8,163.8ZM168.6,163.5 167.3,168.0 171.6,169.0 183.8,168.9 186.3,168.1 187.7,166.9 188.0,165.3 187.4,161.9 185.3,160.8 175.7,160.8 172.5,161.4ZM190.0,172.3 191.7,172.8 193.8,172.5 200.3,170.6 203.0,169.1 204.7,167.4 205.4,165.3 204.3,158.9 202.8,158.5 201.1,159.0 193.3,162.8 190.4,166.4 189.7,170.1ZM224.7,161.8 210.4,161.2 208.4,162.2 207.6,163.7 207.9,165.9 209.9,171.1 211.3,171.2 216.3,169.2 225.3,163.4ZM227.6,163.4 229.5,168.7 233.3,170.2 240.5,169.9 243.5,169.2 245.6,168.0 246.8,166.4 247.0,160.0 239.5,160.3 228.7,162.6ZM-23.7,175.3 -23.9,177.1 -21.6,180.4 -16.0,183.1 -13.2,183.7 -8.9,183.0 -6.1,180.4 -4.7,176.9 -5.1,174.7 -6.6,172.7 -10.6,171.8 -20.6,172.8 -22.7,173.9ZM-2.6,177.0 -2.2,179.3 -0.5,181.4 0.9,182.5 5.1,183.3 11.3,182.4 13.7,181.4 15.2,180.0 15.8,178.2 13.9,170.9 13.0,169.6 11.5,169.1 6.3,170.5 2.8,172.4 -1.7,175.7ZM32.6,177.4 32.4,174.6 31.3,172.6 29.4,171.6 26.7,171.4 20.5,173.1 18.8,174.4 18.1,176.1 19.2,181.9 20.7,182.8 28.1,182.3 30.4,181.3 31.9,179.7ZM35.1,173.3 35.3,181.3 36.4,183.6 37.7,184.1 42.1,183.6 47.5,181.9 49.7,180.1 48.8,177.7 44.7,173.5 39.0,168.8 36.2,167.2ZM51.9,179.3 52.6,182.0 54.7,184.9 58.1,187.2 59.9,187.1 64.1,184.7 67.1,181.2 68.5,177.3 68.4,175.5 67.6,173.7 64.1,170.6 62.0,170.0 59.8,170.4 55.2,173.9 52.4,177.8ZM71.6,175.5 70.6,179.2 72.4,182.9 77.3,186.5 81.7,188.6 84.3,188.6 86.7,187.0 90.5,181.0 90.5,178.9 88.6,176.4 84.7,173.0 82.4,171.9 77.6,171.8 75.0,172.8ZM92.5,179.1 93.7,180.7 98.9,183.2 108.4,186.4 110.1,186.1 110.1,180.9 108.9,175.4 106.1,171.9 104.2,171.0 102.2,170.8 98.0,172.8 94.1,176.7ZM127.5,178.4 122.3,172.2 118.6,170.6 114.7,171.9 112.5,175.4 112.7,180.5 113.8,182.2 115.9,182.9 122.4,181.2ZM147.4,179.7 146.9,177.4 144.7,173.2 142.9,170.4 140.9,169.1 138.7,169.2 136.3,170.6 129.8,178.3 132.4,183.2 134.1,184.3 136.3,184.5 142.5,182.9 146.6,180.8ZM159.2,171.5 150.7,177.1 149.4,179.2 152.1,183.6 157.7,189.0 163.9,184.2 166.6,179.7 166.9,177.2 165.5,168.5ZM169.0,175.0 170.4,179.0 171.7,180.6 175.6,183.1 177.9,183.7 182.9,182.7 187.6,180.0 189.7,177.8 189.0,173.8 184.8,172.7 175.9,172.1 172.2,172.5 169.9,173.5ZM192.1,177.0 192.5,178.7 197.2,184.2 199.4,185.5 201.7,186.0 204.1,185.6 208.5,183.0 210.2,179.3 209.3,173.9 207.8,172.3 201.2,173.2 194.9,175.3ZM214.9,183.5 217.1,184.4 221.2,183.8 224.0,182.9 227.6,180.0 228.5,177.9 228.8,173.3 227.0,169.0 223.5,168.9 217.7,171.6 215.4,173.4 213.2,177.3 213.7,181.1ZM231.1,175.4 230.9,180.2 231.5,182.3 234.2,185.7 236.0,186.5 238.1,186.6 243.1,184.5 246.5,181.0 247.2,178.9 247.1,173.2 246.3,171.5 245.0,171.1 236.8,171.2 234.1,172.0 232.2,173.4ZM-0.6,184.8 -3.2,183.1 -6.1,183.7 -9.7,187.4 -10.2,189.9 -9.6,191.5 -6.2,195.5 -1.3,199.5 0.3,200.1 1.4,199.8 1.9,198.6 2.1,192.9 1.2,188.2ZM18.4,191.1 17.7,184.1 16.6,183.4 9.5,184.5 7.3,185.6 5.9,187.2 5.4,189.2 5.8,191.8 6.8,193.6 8.6,194.8 11.0,195.3 16.3,194.4 17.8,193.1ZM27.5,196.7 33.3,195.1 34.9,193.8 35.7,192.1 35.6,190.0 35.1,186.9 34.1,185.1 31.2,184.6 26.0,185.2 23.9,186.2 22.5,187.6 21.8,189.5 22.3,196.8ZM40.0,198.3 44.2,202.5 46.8,203.1 48.3,202.4 54.1,195.6 55.6,190.4 55.0,188.3 51.6,185.3 49.3,184.8 46.7,184.9 41.3,186.8 39.6,188.3 38.3,192.2 38.4,194.3ZM63.9,195.1 67.1,197.6 70.0,198.8 72.5,198.8 74.8,197.6 76.6,195.1 77.4,192.7 77.1,190.6 75.6,188.6 73.0,186.8 70.4,185.9 67.8,185.9 65.3,186.8 62.8,188.6 61.8,190.6 62.1,192.7ZM109.8,192.5 108.0,190.0 97.8,185.1 91.6,184.0 89.7,184.8 88.7,186.3 88.9,190.6 90.0,193.3 91.9,196.4 94.3,198.2 97.2,198.9 100.6,198.5 107.3,195.2ZM132.6,191.9 132.1,186.3 130.2,183.5 128.4,182.8 125.9,182.8 118.7,184.9 113.6,187.0 112.4,187.7 112.0,188.8 112.1,192.8 112.8,195.0 116.3,196.0 130.8,196.0 131.9,194.8ZM143.0,184.7 136.1,188.8 134.7,191.5 135.3,192.9 136.9,194.3 143.0,197.2 146.1,197.8 148.8,197.4 151.0,196.1 152.9,193.8 153.7,191.6 153.6,189.5 152.6,187.5 150.5,185.5 148.2,184.4 145.7,184.1ZM178.3,190.9 178.4,189.3 176.7,186.6 172.4,184.3 170.0,184.0 167.6,184.5 163.2,187.7 162.0,189.8 161.9,191.9 162.8,194.0 164.7,196.2 166.9,197.4 169.1,197.7 174.2,195.5 176.2,193.9ZM198.5,190.3 197.9,188.4 193.0,183.8 190.8,182.9 188.5,182.8 183.6,185.1 181.8,186.7 180.0,189.6 180.7,192.6 182.0,194.5 190.0,202.8 196.9,193.3ZM216.2,191.9 216.2,188.1 214.9,185.8 213.7,185.2 207.6,186.1 202.6,188.3 200.0,190.4 202.1,192.6 207.6,196.6 212.3,198.4 213.7,198.0 214.6,196.9ZM225.4,184.4 220.3,186.3 218.4,189.1 218.6,190.9 220.7,194.0 224.9,196.7 227.0,197.0 229.0,196.5 230.8,195.0 233.3,190.4 233.4,188.5 232.9,186.8 230.0,184.5ZM241.6,193.6 245.9,197.8 247.9,198.5 249.7,198.3 253.6,194.5 254.2,191.2 253.8,189.8 253.0,188.5 249.9,186.5 246.0,186.3 243.9,186.9 241.7,188.1 240.5,189.6 240.5,191.4ZM-15.1,197.2 -17.2,199.3 -18.5,201.2 -18.8,203.0 -18.2,204.6 -16.6,206.1 -11.9,207.7 -8.7,207.8 -2.2,206.8 0.4,205.3 -0.7,203.3 -7.4,197.5 -10.1,196.4 -12.7,196.3ZM1.9,204.5 2.8,206.7 4.7,207.4 14.2,206.2 17.3,205.3 20.8,202.9 21.2,199.1 20.3,197.5 17.0,196.9 8.0,197.8 4.3,199.9ZM24.7,210.4 27.3,214.6 29.3,216.3 37.3,208.7 39.2,206.0 39.9,203.7 39.4,201.7 35.8,199.0 33.6,198.6 31.0,198.9 25.9,200.7 23.4,203.1 23.1,204.6ZM71.7,204.5 63.0,196.9 60.1,195.6 57.5,195.6 55.1,197.0 53.1,199.7 51.4,204.1 51.7,205.7 52.8,206.9 54.6,207.5 57.4,207.7 65.4,206.4ZM89.7,198.0 86.7,192.9 84.4,191.0 83.4,191.1 80.6,193.6 75.1,201.2 73.7,204.2 74.1,205.5 75.5,207.5 76.8,207.9 91.3,207.2 91.5,202.6ZM104.6,198.7 95.9,203.9 94.4,205.7 100.4,208.9 108.0,211.1 111.3,211.6 111.5,202.4 111.0,196.9 110.7,196.4 109.5,196.5ZM114.6,202.2 114.8,204.9 115.8,207.0 117.7,208.4 120.5,209.2 126.8,208.8 128.6,207.6 129.5,205.8 129.5,203.3 128.5,201.4 126.6,199.9 123.8,199.0 117.2,199.0 115.4,200.2ZM133.4,211.3 134.0,212.0 135.3,212.2 143.4,208.6 147.3,205.6 148.0,204.4 147.7,203.3 142.0,199.9 135.9,197.8 132.9,197.4 132.3,199.1 132.3,205.9ZM162.9,198.0 157.9,191.9 153.2,197.6 150.9,201.6 150.6,204.6 152.1,207.8 153.0,208.6 156.4,208.7 161.6,207.0 165.2,204.8 165.9,202.9ZM176.6,208.3 183.4,207.6 186.5,206.5 185.6,203.2 182.4,199.0 180.3,197.6 178.0,197.1 175.5,197.5 170.6,200.1 168.3,202.7 168.5,206.2 169.7,207.7ZM209.9,209.4 210.7,204.8 208.8,201.1 204.0,197.2 201.6,196.3 199.3,196.5 197.3,197.8 195.4,200.2 195.1,202.4 196.3,204.3 199.0,206.0ZM228.4,204.2 227.9,201.5 226.5,200.3 219.5,197.7 216.0,198.6 214.0,201.4 213.2,204.4 213.3,206.0 214.3,207.1 219.0,207.6 225.5,206.3ZM239.4,209.0 245.0,203.1 243.5,200.2 239.4,195.5 237.3,194.0 235.5,193.8 233.9,194.7 232.5,196.9 230.5,202.4 231.6,206.9 234.2,209.5 235.8,210.1ZM-13.1,213.8 -12.9,217.8 -11.8,219.2 -10.0,220.3 -5.6,221.1 -3.7,220.8 -0.7,218.7 1.2,214.4 0.5,210.1 -0.8,209.6 -8.1,210.0 -10.5,210.8 -12.2,212.1ZM3.9,212.5 5.3,217.1 8.1,220.0 10.3,220.7 16.4,220.2 20.4,218.9 23.1,217.4 24.5,215.5 24.6,213.4 23.4,210.9 21.4,209.3 18.6,208.4 10.4,209.1 4.9,211.2ZM50.2,209.1 46.2,206.2 43.7,206.8 39.2,211.0 32.1,219.6 45.7,219.7 49.6,219.2 52.0,218.1 52.9,216.4 51.8,212.2ZM54.8,214.2 55.0,216.5 55.9,218.2 57.6,219.4 60.0,219.9 65.9,219.6 69.9,217.9 71.2,216.5 73.4,212.9 73.5,210.2 72.9,209.0 71.6,208.8 61.2,209.9 57.9,210.9 55.7,212.4ZM92.2,216.3 91.9,213.7 90.8,211.8 88.6,210.7 81.6,210.9 78.6,211.5 75.6,212.9 77.6,217.0 81.8,222.2 84.0,223.9 86.1,224.6 88.1,224.1 89.8,222.6 91.1,220.7ZM93.4,208.4 94.6,215.8 95.7,218.2 97.7,220.2 100.6,221.8 107.2,224.0 109.1,224.6 110.0,224.9 110.4,217.6 109.5,215.1 107.4,213.0 104.1,211.3ZM112.8,212.4 111.8,220.7 113.0,222.4 115.5,223.2 119.3,223.0 132.4,219.1 132.5,214.6 131.7,212.7 130.3,211.9 119.8,211.4ZM149.1,209.8 135.0,216.6 146.4,221.4 149.8,222.0 152.1,221.4 153.1,219.4 153.0,216.1 151.4,210.3ZM160.5,224.2 163.7,222.3 168.0,218.2 169.0,216.1 169.3,212.0 169.1,210.6 167.9,209.0 164.6,208.8 158.9,209.9 156.7,211.4 155.3,213.8 154.8,217.0 155.1,221.0 156.2,223.5 158.0,224.6ZM186.2,215.7 186.0,213.8 184.9,212.5 183.1,211.6 177.3,211.5 173.0,213.3 172.0,214.8 171.9,218.6 173.7,221.3 175.3,222.3 178.9,222.6 183.3,220.5 184.9,219.0ZM189.7,205.5 188.7,210.6 189.3,218.2 190.4,220.4 194.3,224.3 196.8,225.0 199.5,224.4 202.4,222.6 210.1,214.3 208.6,212.9 206.0,211.7ZM215.4,218.5 217.7,220.1 220.3,220.9 223.2,220.9 229.8,218.4 234.5,215.2 230.6,210.0 226.1,208.5 222.9,208.7 212.8,211.3 212.1,214.6ZM246.5,221.1 252.6,219.8 254.3,218.7 255.2,217.3 255.3,215.7 253.5,212.4 249.2,208.8 246.8,208.0 244.6,208.0 242.4,209.0 236.7,215.2 237.3,217.1 239.4,219.7 243.6,221.1ZM-19.0,231.7 -12.3,235.9 -8.5,236.8 -6.5,233.1 -5.8,228.5 -6.2,226.4 -7.3,224.8 -11.5,223.0 -13.9,222.9 -18.7,224.2 -21.0,225.7 -21.8,227.4 -21.2,229.4ZM0.9,221.5 -0.9,222.6 -3.1,225.6 -3.3,229.9 -2.3,231.6 -0.6,232.6 1.8,233.0 7.4,232.0 8.9,230.8 9.4,229.2 7.7,223.8 5.4,221.5 4.1,221.0ZM28.9,219.8 18.1,222.8 13.2,226.2 12.3,228.2 12.4,230.5 13.6,235.3 17.3,234.6 24.6,231.6 29.6,228.1 30.6,226.4 30.4,224.7 29.8,221.2ZM32.7,224.9 33.1,228.2 34.8,231.8 36.1,233.7 37.9,234.7 40.3,234.7 47.0,232.2 51.5,228.8 52.4,227.1 52.4,225.5 51.2,224.2 45.0,222.8 36.3,222.9 33.8,223.7ZM55.7,223.4 54.6,227.2 55.5,231.2 58.1,235.0 61.7,236.3 66.0,234.7 67.5,233.1 68.2,231.3 68.2,229.0 67.4,226.5 64.4,223.1 62.1,222.3 57.2,222.4ZM80.2,225.2 76.0,220.5 74.2,219.6 72.7,219.6 71.5,220.6 70.4,223.8 71.0,228.9 72.1,231.0 75.8,233.7 80.5,234.4 82.6,234.0 83.3,230.6ZM91.4,224.9 87.0,231.0 93.2,232.5 100.9,233.0 105.7,231.4 109.3,227.9 99.7,224.3 96.4,223.7 93.6,223.9ZM113.5,230.9 117.2,233.4 119.8,233.9 126.5,233.5 129.2,232.5 131.0,230.9 131.8,228.7 131.6,226.0 130.3,224.2 127.8,223.3 124.1,223.4 113.0,225.9 111.8,226.4 111.3,228.1ZM153.3,227.5 134.6,219.4 134.9,231.5 136.0,235.5 139.7,234.7ZM158.6,232.1 160.2,235.0 162.2,236.7 164.7,237.1 167.6,236.3 173.5,232.5 176.0,229.4 176.1,228.2 174.9,225.7 171.9,223.0 169.9,222.4 167.4,222.6 161.1,225.2 159.1,227.2 158.2,229.5ZM192.9,225.6 189.1,223.0 184.5,223.2 181.9,224.3 178.6,226.8 178.0,229.7 179.8,233.2 183.9,237.3 186.1,238.2 188.3,237.7 190.5,235.9 193.7,230.0 193.8,227.7ZM219.6,225.3 214.3,220.1 211.8,219.4 209.3,219.8 206.7,221.4 204.1,224.2 202.7,226.8 202.5,229.2 203.6,231.4 205.9,233.4 208.3,234.5 210.8,234.6 213.4,233.8 216.1,232.0 220.2,227.6ZM239.5,228.4 239.6,224.2 239.0,222.5 236.7,219.7 234.9,219.2 232.6,219.5 226.8,222.6 224.6,224.3 222.6,226.9 223.5,228.9 227.2,233.1 230.9,234.3 233.1,234.0 237.3,231.9ZM12.9,241.5 11.5,236.6 8.3,235.4 5.4,235.3 -4.0,236.4 -5.7,237.3 -8.1,241.1 -3.3,247.0 -1.2,248.0 1.4,248.2 8.0,245.7 12.3,242.8ZM35.8,238.9 32.8,234.7 30.8,233.9 28.2,234.0 25.0,235.0 18.4,238.5 15.6,241.0 15.6,241.9 16.9,244.3 19.9,247.4 22.0,248.2 24.5,248.1 30.6,245.1 35.7,240.9ZM58.9,240.6 55.1,235.7 52.9,234.8 47.3,235.3 39.3,239.4 38.3,240.7 38.3,243.0 39.1,244.5 41.7,245.3 55.9,245.7 58.2,244.9 59.3,243.8ZM69.6,247.5 78.8,244.8 81.3,243.4 82.5,241.8 82.3,240.2 79.7,237.7 74.3,236.2 68.9,236.3 64.5,238.2 62.9,239.5 61.3,242.6 61.6,248.5ZM85.2,235.1 84.7,241.7 85.4,245.1 86.6,247.4 89.9,248.1 95.9,246.8 100.2,244.0 101.3,242.1 101.7,239.8 100.9,238.0 99.0,236.6 91.9,235.1ZM103.6,239.3 103.2,245.9 104.4,247.5 105.7,247.7 113.0,245.9 116.5,243.0 117.1,241.0 115.4,234.9 112.7,232.1 111.2,231.5 109.7,231.4 106.5,233.3 105.3,234.9ZM120.0,246.2 123.5,249.9 125.6,250.5 127.7,250.0 130.0,248.4 135.3,241.7 136.0,240.2 135.4,238.7 133.6,236.6 129.8,235.4 123.5,235.7 121.0,236.5 119.3,237.9 118.4,239.7 118.5,242.0ZM137.5,240.4 138.1,241.8 141.4,244.8 144.1,246.8 147.0,247.8 150.1,247.8 153.3,246.8 161.7,241.6 157.5,234.7 155.3,233.2 152.3,233.0 148.6,233.9ZM186.1,241.4 180.4,236.6 177.6,235.6 174.6,235.6 171.4,236.6 163.1,241.8 168.4,248.3 170.8,249.7 173.7,249.8 177.1,248.9 186.8,242.8ZM194.3,234.0 188.9,242.6 191.9,246.3 193.9,247.3 199.8,248.1 206.6,247.4 208.4,246.3 209.0,244.7 207.5,240.4 201.3,233.1 198.8,232.0 196.5,232.3ZM217.5,246.7 224.3,244.6 226.2,243.2 227.2,241.7 226.0,236.6 223.7,233.3 222.0,232.6 217.4,233.9 214.6,235.9 211.3,240.2 211.1,244.7 212.3,246.2 214.5,246.9ZM235.7,248.6 245.5,246.6 247.3,245.4 248.1,244.0 247.1,240.8 242.8,235.4 240.9,234.3 238.7,234.2 236.4,234.8 231.9,237.9 230.5,239.3 229.5,242.1 229.9,244.8 231.5,247.5ZM-14.5,246.9 -20.7,250.5 -23.3,253.2 -23.3,254.2 -20.8,256.5 -14.7,259.0 -11.7,259.5 -9.1,259.1 -6.9,257.9 -3.0,253.0 -2.5,251.9 -2.9,251.1 -6.7,246.7 -8.9,245.9 -11.5,245.9ZM20.1,252.5 15.9,247.4 13.7,246.4 11.1,246.4 8.2,247.2 -0.3,252.5 5.4,259.1 7.9,260.5 10.4,261.0 13.1,260.4 15.9,258.7 20.3,254.8ZM31.5,247.7 25.3,250.9 22.7,253.4 23.2,255.7 25.3,259.3 27.0,261.6 28.9,262.9 31.1,263.1 33.4,262.3 36.0,260.4 39.0,256.4 39.3,254.2 37.5,246.4 36.3,246.2ZM42.2,251.9 42.2,254.2 44.0,258.4 48.4,262.2 50.9,263.1 53.2,263.1 55.6,262.0 57.8,260.1 60.4,256.3 60.8,254.6 59.8,250.5 59.2,249.1 58.0,248.8 48.5,248.5 45.4,249.1 43.3,250.2ZM63.7,256.2 70.4,260.7 73.3,261.3 76.1,260.8 78.7,259.3 85.2,251.7 84.5,248.5 83.9,247.7 82.2,247.5 79.4,247.7 70.7,249.5 64.4,252.0 63.1,253.3 63.0,254.7ZM87.4,251.4 89.8,256.4 93.1,259.8 98.0,261.4 103.4,261.5 105.8,261.0 104.9,252.2 102.6,249.0 96.0,248.8 89.9,250.0ZM107.8,253.9 108.2,255.7 109.5,256.9 111.7,257.5 118.9,256.8 124.9,255.2 119.8,249.9 115.6,248.6 113.3,248.8 109.1,250.9ZM136.4,260.9 143.3,258.1 146.3,255.2 146.4,253.7 144.7,250.3 140.5,246.2 138.0,245.3 135.6,245.7 133.2,247.4 127.1,255.4 129.3,260.7 130.9,261.4 133.3,261.5ZM169.7,255.4 164.8,247.6 162.6,246.3 160.0,246.1 157.2,247.2 149.7,253.1 148.5,255.8 149.2,258.5 151.2,261.6 153.2,262.3 155.9,262.2 163.5,259.2ZM172.5,254.3 173.4,255.4 179.0,257.6 183.6,259.0 187.1,259.4 189.6,258.7 191.0,256.8 191.2,249.4 189.8,246.8 185.7,247.0 178.6,250.4ZM198.5,261.1 209.9,258.6 210.0,253.2 208.9,251.7 203.7,250.1 199.7,249.8 196.6,250.5 194.4,251.9 193.0,254.3 192.5,257.4 193.3,259.6 195.3,260.9ZM211.5,252.6 211.7,254.5 212.6,256.1 214.5,257.6 220.6,260.2 225.8,261.1 227.4,260.8 229.2,258.9 230.7,253.7 229.6,248.6 228.5,247.2 226.7,246.5 221.0,247.0 217.1,248.1 214.2,249.5 212.3,251.0ZM248.1,260.6 251.6,255.7 252.0,253.8 251.5,252.2 250.1,251.0 245.7,249.8 239.0,250.2 234.4,252.1 233.4,253.6 233.4,255.5 235.5,259.1 240.5,262.3 243.2,262.8 245.7,262.2ZM-7.0,262.1 -8.4,267.6 -6.3,271.0 -1.0,274.1 3.3,275.1 4.7,274.7 5.4,273.6 7.6,267.2 6.3,263.2 2.0,258.9 -0.3,257.7 -2.3,257.5 -4.1,258.3ZM10.5,265.8 9.5,269.2 10.4,270.7 15.7,273.1 25.6,274.7 26.9,274.3 27.2,273.6 27.6,270.1 27.0,266.9 23.2,261.2 21.3,260.1 19.1,259.9 16.7,260.7 14.0,262.4ZM40.0,261.1 34.1,263.7 30.6,266.8 30.1,268.2 30.4,269.5 31.7,270.5 37.4,271.9 47.6,271.7 49.1,271.0 51.3,267.4 45.4,262.1 42.7,261.1ZM72.6,265.7 66.7,261.2 64.1,260.5 61.5,260.8 59.0,262.0 53.1,268.0 59.2,273.4 61.6,274.4 64.1,274.5 66.8,273.7 71.5,270.6 73.5,268.0ZM90.0,262.3 87.6,258.6 85.9,257.7 84.0,257.9 81.8,259.1 79.4,261.4 76.6,265.2 76.3,266.7 77.6,271.2 85.3,271.0 89.3,269.2 90.6,266.0ZM101.9,275.6 104.9,271.0 105.7,267.3 105.3,265.7 102.7,263.8 100.5,263.4 95.6,263.9 94.1,264.7 93.0,267.6 95.1,273.5 96.7,275.8 98.4,276.9 100.1,276.8ZM110.7,269.6 119.0,272.3 123.8,271.2 127.3,268.2 128.5,266.1 126.0,260.6 122.0,259.2 118.8,259.3 111.7,260.7 108.4,261.9 108.1,267.0ZM152.9,269.0 151.7,265.2 149.0,262.3 146.9,261.5 140.7,261.8 133.6,263.9 130.7,265.5 134.9,271.5 137.0,272.7 139.8,273.2 147.0,272.1 151.9,270.1ZM171.6,265.8 171.2,262.8 169.8,261.0 167.5,260.5 164.4,261.2 155.1,266.5 154.0,267.9 154.4,272.1 154.8,272.9 156.1,273.2 165.9,271.7 169.0,270.2 170.9,268.3ZM173.7,263.4 175.5,272.4 176.1,273.5 177.4,273.8 181.9,272.0 189.2,267.0 190.3,265.7 179.7,261.3 176.5,260.9 174.5,261.6ZM202.4,277.5 206.8,271.8 208.1,267.6 208.4,265.1 207.7,263.5 205.9,262.7 203.0,262.8 196.1,264.6 192.9,266.2 192.6,266.9 196.0,271.6ZM212.1,259.3 210.5,266.5 211.2,268.7 213.0,270.7 216.0,272.2 220.0,273.5 222.9,273.7 224.8,272.8 225.6,271.0 225.4,268.1 224.5,265.6 222.8,263.5 220.3,261.9ZM233.1,272.4 240.1,270.6 243.3,269.0 243.5,268.2 241.3,266.0 235.7,262.9 233.1,261.9 229.4,261.7 228.4,262.6 227.1,265.6 227.0,270.1 228.0,271.7 230.1,272.4ZM-2.3,275.9 -8.2,272.9 -11.1,272.7 -13.9,273.5 -16.6,275.2 -18.0,277.3 -18.0,279.9 -16.6,283.0 -9.4,291.9 -1.8,283.8 -0.6,280.8 -0.7,278.2ZM8.7,282.8 11.8,285.7 14.7,287.2 17.4,287.2 19.9,285.8 26.1,277.7 15.5,275.1 9.2,274.9 7.2,275.6 5.9,276.8 5.8,278.4ZM40.4,285.0 42.7,284.2 45.4,281.7 46.0,277.9 45.0,276.4 40.1,274.6 33.1,274.6 29.6,275.5 28.9,277.5 34.2,282.9 36.2,284.3ZM51.2,271.8 49.2,277.8 48.8,282.0 50.8,285.4 54.5,287.5 56.1,287.6 57.5,287.0 59.6,284.6 60.4,280.1 57.2,274.9 53.5,271.8ZM64.6,278.5 63.7,281.7 66.2,284.3 72.1,286.1 77.9,286.7 77.6,276.5 76.0,273.2 73.1,273.5 68.1,275.6ZM80.3,279.1 80.5,281.4 81.8,283.0 84.1,283.9 87.5,284.0 98.5,282.1 93.1,275.6 88.7,273.5 86.3,273.5 81.9,275.6ZM105.9,275.3 100.9,282.3 103.7,283.5 116.8,286.1 118.2,279.2 118.0,277.0 116.9,275.2 115.1,273.9 110.2,273.0ZM132.9,273.2 131.5,271.5 129.9,270.7 128.2,270.8 124.3,273.2 122.8,275.0 121.2,279.2 121.1,281.5 121.9,283.4 123.8,284.9 130.5,286.7 133.3,286.4 135.1,285.2 135.8,283.2 135.5,280.1ZM141.7,285.7 149.1,283.7 154.2,280.7 155.1,279.3 153.8,274.0 150.4,273.8 143.4,275.2 140.5,276.6 138.7,278.4 138.0,280.7 138.2,283.4 139.5,285.1ZM175.7,279.5 175.2,277.4 173.3,274.6 171.5,273.7 169.1,273.4 165.9,273.8 159.1,276.0 156.4,278.3 158.4,282.8 162.1,286.8 164.3,287.8 166.6,287.6 169.0,286.3ZM195.3,275.1 193.2,273.2 191.0,272.3 188.6,272.3 186.1,273.2 179.0,278.4 184.8,283.7 187.2,284.6 189.6,284.5 192.1,283.4 195.9,279.0 196.2,277.0ZM205.7,281.0 206.7,282.5 210.8,284.2 220.4,283.9 224.3,282.6 225.0,278.7 224.0,277.5 219.1,275.3 215.2,274.4 209.3,274.2 207.4,275.1 206.1,276.5 205.4,278.0ZM227.1,276.6 227.6,279.3 230.2,281.8 236.0,284.4 238.9,285.0 241.4,284.8 243.4,283.7 245.1,281.9 246.3,278.5 244.9,275.7 240.5,274.5ZM4.4,297.2 11.7,295.6 15.1,294.2 7.7,285.5 4.9,283.8 2.3,283.8 -0.0,285.3 -2.2,288.5 -3.6,291.2 -4.1,295.2 -3.2,296.5 -1.5,297.2ZM26.0,299.1 32.0,296.3 34.8,293.0 34.9,291.2 33.6,287.4 30.1,283.5 28.1,282.9 25.9,283.4 23.7,285.3 17.7,294.2 18.1,296.9 19.6,299.2 21.1,299.8ZM55.3,293.2 50.2,288.1 46.0,286.8 41.4,288.0 39.6,289.1 37.9,291.5 38.0,292.9 39.4,296.0 42.6,299.6 44.6,300.5 46.8,300.3 49.2,299.2ZM76.8,293.8 77.0,292.1 76.2,290.6 74.5,289.3 68.2,287.3 65.1,287.0 60.7,288.3 57.6,292.7 65.8,299.6 68.6,301.0 70.9,301.3 72.8,300.6 74.3,298.9ZM97.1,293.4 97.8,289.3 96.9,287.8 94.8,287.0 91.7,286.8 79.9,288.0 79.0,293.2 81.2,296.5 83.4,297.7 86.4,298.6 91.4,298.8 95.0,296.7ZM100.1,288.6 99.8,291.0 100.4,293.5 102.0,296.0 104.5,298.6 110.7,303.1 113.9,304.7 114.9,304.1 115.9,301.2 115.9,294.0 115.0,291.5 113.0,289.4 110.2,287.8 103.3,286.4 101.3,287.0ZM118.7,287.7 118.5,296.4 119.7,298.5 122.0,299.3 125.6,298.9 130.3,297.4 136.2,294.4 137.4,292.9 137.3,289.5ZM161.0,288.7 159.1,286.8 156.6,285.6 153.5,285.4 149.9,285.9 140.5,289.9 139.5,291.2 139.5,292.4 142.5,294.8 145.4,296.0 152.8,297.5 155.8,297.2 158.4,296.1 161.7,292.5 161.9,290.6ZM168.9,295.2 170.9,297.1 173.2,298.2 175.9,298.4 178.9,297.7 186.2,293.3 186.9,291.9 186.7,290.7 184.8,287.9 180.9,284.7 178.5,284.1 176.0,284.5 170.3,288.5 168.6,290.8 168.1,293.1ZM199.2,297.6 204.4,294.2 206.9,290.8 207.2,289.0 206.5,285.5 201.8,279.9 191.8,287.7 189.5,291.0 189.6,293.7 192.7,298.0 194.5,298.7ZM223.0,295.9 223.4,290.6 222.4,288.4 220.4,287.0 217.7,286.4 214.0,286.7 209.3,288.3 208.3,289.7 208.9,294.6 211.2,297.2 212.8,298.0 219.8,298.4 221.7,297.5ZM233.5,298.3 240.3,293.2 241.2,290.6 240.4,289.3 235.9,286.4 229.4,283.7 226.3,283.0 226.0,293.2 227.3,299.5 229.3,300.1ZM-5.9,297.1 -9.4,293.5 -21.2,300.7 -23.6,303.5 -23.4,304.5 -20.5,306.8 -14.3,309.8 -9.2,311.2 -7.5,311.1 -5.6,309.1 -4.7,305.5 -4.8,300.8ZM15.3,309.8 19.1,304.0 16.7,299.9 14.9,299.2 4.3,300.2 -1.4,302.4 -2.5,303.8 -2.6,305.3 -1.7,306.8 3.2,309.6 10.5,311.3 13.2,310.9ZM44.3,305.3 39.3,299.7 37.1,298.6 34.3,298.4 27.4,300.4 21.4,303.3 29.7,311.2 32.9,312.8 35.9,313.2 38.6,312.4 44.2,307.1ZM55.5,310.5 69.3,306.7 61.4,299.4 58.4,298.1 55.6,297.9 52.9,299.0 48.4,303.1 46.7,305.6 48.2,308.0 50.6,310.0ZM86.0,301.1 80.1,299.8 75.8,301.0 72.2,305.2 72.1,309.6 84.0,311.6 87.5,311.4 89.8,310.5 90.9,308.8 90.8,306.3 90.0,304.2ZM110.2,308.2 111.1,307.4 111.0,306.3 109.7,304.8 103.8,300.8 100.7,299.5 98.2,299.0 96.2,299.4 94.6,300.6 93.0,303.8 93.4,308.2 94.6,309.8 96.7,310.6 103.2,310.2ZM136.6,305.9 137.1,301.0 135.9,299.5 133.5,298.8 129.9,299.1 121.6,301.5 117.6,303.4 117.3,304.2 119.0,306.8 123.9,311.0 126.6,312.2 129.1,312.5 131.5,311.7 133.8,310.0ZM139.5,301.1 139.3,303.6 139.9,305.9 141.3,307.9 146.4,310.8 148.7,311.6 151.6,311.5 153.2,307.9 153.7,304.0 153.0,302.2 151.3,300.6 145.1,298.5 142.4,298.5 140.5,299.4ZM172.3,306.3 170.9,301.4 167.9,296.9 166.1,295.6 164.1,295.4 162.0,296.3 159.8,298.3 157.1,302.4 156.6,304.4 156.8,306.4 157.8,308.0 159.5,309.3 165.4,310.7 171.1,310.3ZM190.1,311.5 192.3,308.6 193.1,305.7 192.0,301.3 190.1,298.4 188.4,297.7 183.3,298.5 177.3,301.5 175.8,302.9 175.1,304.3 175.4,305.7 176.3,307.1 180.4,310.0 186.2,312.1ZM203.4,298.3 198.5,301.1 196.3,304.0 196.1,305.6 198.3,308.6 200.5,310.1 208.6,313.6 211.2,304.7 211.2,299.9 209.4,297.5 207.8,297.2ZM217.5,311.7 229.0,309.8 227.9,304.9 226.0,300.6 223.4,300.1 218.4,300.3 216.1,301.2 214.3,302.9 212.2,308.2 212.6,310.3 214.4,311.5ZM247.3,309.6 250.5,304.9 247.6,300.8 245.4,298.6 243.1,297.4 240.5,297.2 237.8,298.0 232.8,301.4 231.5,303.1 231.1,306.5 234.0,309.1 243.2,310.8ZM6.7,312.8 -3.7,311.1 -5.4,311.6 -6.4,312.7 -7.5,314.6 -7.4,316.4 -4.8,321.2 -3.1,322.3 2.5,323.7 9.5,323.6 11.5,322.5 12.7,320.7 12.9,318.2 11.9,316.1 9.9,314.3ZM32.8,319.7 32.3,317.6 25.6,310.5 23.0,308.8 20.8,308.4 18.9,309.2 17.4,311.3 15.5,315.9 14.8,321.5 15.3,326.6 15.8,327.1 17.1,327.1 22.5,325.3 29.6,322.0ZM51.5,319.4 50.0,313.0 47.4,310.4 45.7,310.1 41.7,312.0 37.5,316.1 35.8,319.1 36.9,322.7 39.4,325.8 43.1,326.9 48.0,325.0 49.8,323.4ZM69.8,316.3 70.3,311.0 67.0,311.0 59.5,312.4 56.3,313.6 54.3,315.2 53.4,317.2 53.6,319.5 54.3,321.5 56.8,324.4 60.5,325.4 62.4,324.9 66.5,321.6ZM73.1,315.2 73.9,318.2 75.2,320.1 79.6,324.7 81.9,326.1 84.1,326.4 86.1,325.7 89.3,322.3 90.8,319.2 90.8,317.7 89.7,316.5 84.1,314.6 76.3,313.9 74.1,314.3ZM93.4,313.5 93.1,317.9 95.4,321.0 101.3,324.1 103.9,324.4 105.8,323.5 106.9,321.2 107.3,317.7 106.7,315.2 105.1,313.5 102.5,312.8ZM108.6,328.3 111.1,330.1 112.6,329.6 121.2,323.4 126.3,318.5 122.0,313.3 114.8,306.8 111.9,309.9 111.1,311.7 109.7,317.5ZM145.6,313.5 139.3,311.4 136.5,311.6 134.0,312.6 131.7,314.4 128.5,318.0 134.1,324.9 136.5,326.1 139.2,326.3 142.2,325.7 148.1,322.4 150.6,319.3 149.7,316.4ZM168.1,319.9 168.3,317.5 167.6,315.5 166.0,314.1 163.6,313.2 155.6,312.9 153.4,314.0 152.5,316.0 152.3,318.9 153.4,321.7 155.9,324.2 157.5,325.0 159.5,325.3 164.1,324.5 166.0,323.4ZM179.1,325.3 184.5,323.3 186.1,321.9 187.1,318.6 184.8,315.4 182.3,313.9 176.3,311.6 173.3,311.4 171.6,317.1 171.5,323.7 173.1,325.6ZM196.3,326.9 202.6,325.1 206.9,322.3 207.9,320.7 208.1,318.9 207.4,317.2 203.5,313.8 200.3,312.1 195.0,311.2 193.0,312.0 190.1,315.2 188.8,318.6 189.0,322.0 192.1,326.2ZM210.7,314.6 210.1,319.9 211.1,321.4 216.2,323.4 220.3,324.0 223.5,323.6 225.8,322.4 227.2,320.3 227.6,317.3 226.9,315.1 225.0,313.8 221.8,313.3ZM235.1,325.4 244.1,324.9 246.0,324.0 246.2,320.2 245.9,318.1 244.7,316.4 242.7,314.9 236.3,312.7 233.5,312.9 231.5,314.2 230.3,316.6 229.9,320.2 230.6,322.8 232.3,324.6ZM-12.9,323.5 -16.2,325.9 -18.1,328.3 -18.5,330.6 -17.4,332.9 -15.0,335.1 -10.7,337.4 -9.0,337.4 -7.5,336.6 -5.4,333.7 -4.7,328.8 -5.1,324.6 -6.6,321.7 -8.1,321.4ZM15.6,330.9 13.6,327.8 9.9,326.3 3.5,325.4 0.8,325.8 -1.1,327.1 -2.1,329.2 -1.6,334.6 -0.3,336.4 1.7,337.8 4.4,338.6 9.1,338.2 11.1,336.9 15.2,332.2ZM27.4,325.9 17.9,330.4 16.8,331.7 26.8,339.5 30.3,341.0 33.1,341.1 35.4,339.8 38.5,334.9 39.7,331.5 35.9,325.9 33.7,324.9 30.9,324.9ZM48.0,335.7 54.4,339.1 56.6,339.3 58.2,338.5 59.2,336.7 60.4,333.5 60.5,330.9 57.6,327.7 53.7,326.4 48.8,327.1 42.7,330.1 42.4,331.5ZM78.0,335.7 82.1,332.5 82.6,331.3 81.9,330.3 75.4,324.5 72.7,323.2 70.4,323.0 68.3,323.9 64.2,329.3 63.6,331.7 64.3,332.8 70.9,336.0 73.6,336.5ZM90.2,325.1 84.9,331.8 86.8,334.7 91.8,339.6 94.6,340.8 97.4,340.5 100.1,338.8 106.7,330.0 98.1,325.0 95.0,324.1 92.4,324.1ZM121.3,336.1 132.4,336.5 134.5,335.7 135.6,334.4 135.0,330.9 134.0,329.0 130.5,325.2 128.3,324.3 125.8,324.4 123.0,325.6 120.0,327.9 116.7,331.7 116.5,333.2 117.2,334.4ZM154.0,326.7 152.8,325.6 151.0,325.1 148.9,325.3 143.2,327.9 139.2,331.3 138.3,333.1 138.0,337.8 149.9,338.8 153.4,338.3 155.6,337.2 156.6,335.2 156.3,332.5ZM173.9,333.6 173.4,330.0 171.7,327.6 170.5,326.8 167.1,326.3 162.4,327.3 160.5,328.5 159.3,330.4 158.7,332.8 159.0,341.3 168.4,338.5 171.2,337.0 173.0,335.4ZM177.3,338.2 180.5,341.7 182.4,342.2 184.4,341.5 186.4,339.5 191.7,330.8 189.1,327.2 185.7,326.6 183.3,327.1 178.4,329.5 176.9,331.0 176.0,334.5ZM206.3,340.0 208.3,337.5 208.7,335.7 208.3,330.5 207.2,328.7 205.3,327.8 202.7,327.9 194.6,330.9 200.9,337.9 203.0,339.5 204.8,340.2ZM211.4,329.1 212.7,334.7 214.2,336.5 216.3,337.7 222.9,338.5 224.2,338.0 225.9,336.1 226.8,333.0 227.1,328.0 216.8,325.9 213.9,326.0 212.1,327.0ZM234.8,337.5 238.8,338.8 241.9,339.0 243.9,338.2 244.9,336.1 245.0,333.0 244.1,330.7 242.2,329.2 239.4,328.6 235.5,328.8 230.6,330.2 229.4,331.5 229.2,333.0 230.0,334.6ZM-10.1,342.5 -10.5,345.8 -8.4,349.3 -3.4,352.5 -0.8,353.2 1.6,353.0 3.7,351.9 6.8,348.1 8.1,345.2 7.2,342.9 5.7,341.8 -2.2,339.2 -4.4,339.1 -8.0,340.2ZM31.5,346.2 30.5,344.7 22.3,338.0 19.2,336.4 16.7,336.0 14.7,336.9 10.5,345.3 12.7,348.5 15.2,350.4 21.8,353.5 24.5,353.5 26.8,352.4ZM34.1,345.1 43.7,350.4 49.4,351.9 51.5,351.4 53.0,350.1 55.1,347.7 56.0,345.5 55.2,344.2 50.6,340.7 46.7,338.5 43.4,337.4 40.6,337.6 38.3,338.8ZM58.1,344.5 58.5,346.3 61.2,348.6 63.4,349.9 67.6,350.8 69.6,350.4 73.0,348.2 73.9,346.6 74.4,342.5 73.7,340.7 72.3,339.2 70.2,338.2 64.9,337.6 61.3,339.2ZM87.1,349.5 89.7,347.4 91.1,345.2 91.1,343.0 89.9,340.7 87.3,338.4 85.0,337.0 82.9,336.4 81.0,336.6 79.4,337.7 77.4,340.9 77.2,345.4 78.5,349.2 81.0,351.4 82.8,351.5ZM115.0,336.1 113.1,333.6 109.9,332.2 108.5,332.9 104.5,336.8 100.6,343.0 100.2,345.8 100.9,348.4 102.7,350.8 104.7,352.2 107.0,352.8 109.6,352.4 114.5,349.4 115.8,347.4 116.5,345.0 116.1,339.9ZM134.9,345.1 135.5,340.5 135.5,339.6 135.5,339.2 125.3,339.2 122.2,339.8 120.3,341.0 119.4,342.9 121.1,349.2 123.5,351.5 125.1,351.7 127.1,351.3 131.8,348.6ZM149.8,340.9 141.3,340.2 138.7,340.7 137.4,341.8 137.5,345.1 139.8,348.5 144.2,351.3 150.1,351.4 153.5,350.5 157.8,348.2 158.6,346.9 157.5,342.3ZM160.1,345.8 163.3,353.2 165.1,354.0 167.6,353.7 170.9,352.4 177.4,347.8 178.5,345.6 178.2,343.6 176.5,341.7 174.4,340.5 171.8,340.2 168.7,340.7 162.5,343.3ZM186.7,349.5 190.6,352.7 195.8,352.7 201.0,350.4 202.5,349.0 203.1,345.8 201.2,342.0 196.9,337.5 194.4,336.6 192.1,337.0 189.7,338.8 186.1,344.8 185.9,347.3ZM218.9,340.1 216.1,339.6 211.4,340.0 208.1,342.3 206.2,345.0 205.5,347.6 205.9,349.0 210.9,354.1 213.2,355.0 215.4,354.9 217.6,353.8 221.4,349.7 222.5,347.7 223.1,343.8 222.5,342.2ZM243.5,348.3 244.4,345.5 243.5,344.1 241.6,342.6 231.2,339.0 227.3,339.2 225.6,342.5 225.2,345.4 226.9,348.3 231.1,351.1 233.4,351.8 235.8,352.0 240.5,350.6ZM-4.5,355.3 -7.6,353.8 -13.0,352.9 -17.6,354.8 -18.5,356.6 -18.0,358.8 -16.2,361.5 -8.4,368.7 -5.9,369.8 -4.0,368.3 -3.0,366.6 -0.2,358.8ZM17.8,355.5 11.7,351.9 9.0,351.5 6.7,352.2 4.6,353.8 1.9,357.7 3.4,359.8 8.9,362.5 16.6,365.0 19.2,365.1 21.0,364.5 23.2,360.2ZM45.5,364.6 47.4,360.1 47.6,357.2 45.0,354.3 38.9,351.4 35.8,350.9 33.1,351.4 30.8,353.0 25.7,359.8 26.8,360.9 37.3,364.6 43.7,365.3ZM66.8,361.9 65.2,356.3 62.3,352.6 60.3,351.4 56.6,351.0 54.7,351.7 50.8,355.6 50.6,358.2 51.8,359.6 57.2,362.6 64.5,364.6 66.3,363.8ZM69.1,358.8 69.7,362.1 70.8,364.1 72.6,364.9 75.0,364.3 80.4,360.7 82.7,357.8 82.7,356.5 81.4,354.3 78.3,352.4 72.8,352.1 71.0,352.8 69.8,354.1ZM92.2,348.9 86.5,353.1 84.1,356.5 84.2,357.9 86.0,361.1 90.1,365.0 92.5,366.0 94.9,365.7 97.3,364.4 103.8,356.5 102.8,353.8 99.8,349.4 97.6,348.1 95.1,347.9ZM125.0,360.3 125.0,357.0 123.3,354.5 120.3,353.0 118.3,352.7 110.2,354.1 105.9,356.4 106.7,358.2 111.7,363.5 114.0,364.7 116.5,365.1 121.8,363.2ZM130.2,363.2 131.9,365.0 133.7,365.9 135.5,366.1 139.6,363.8 142.3,360.5 143.2,357.1 142.8,355.4 140.4,352.0 138.4,350.3 134.3,349.4 132.2,350.1 128.6,353.3 127.6,354.8 127.4,358.0ZM153.7,352.2 148.1,353.8 145.3,356.6 145.0,358.6 146.6,361.8 151.2,364.1 153.7,364.4 158.1,363.0 160.1,361.3 161.7,357.7 160.2,354.1 158.5,352.9ZM168.9,362.0 170.5,364.0 172.7,365.0 175.5,365.1 179.0,364.2 186.1,360.9 189.1,358.5 189.1,357.6 185.0,351.3 182.8,350.5 180.0,350.8 176.6,352.3 170.0,357.5 168.7,359.8ZM191.8,357.9 194.1,364.5 195.8,365.4 201.7,365.4 212.8,362.0 213.1,358.6 211.3,356.2 207.3,353.0 204.8,352.1 202.1,352.0 196.1,354.3 192.4,356.9ZM232.3,369.1 233.3,360.6 232.9,357.8 231.8,355.5 230.0,353.7 225.2,351.9 222.9,352.3 220.8,353.5 215.7,359.4ZM250.6,356.0 246.0,352.9 241.6,352.8 237.7,355.6 235.7,360.2 235.4,363.2 236.3,364.9 238.6,365.4 242.1,364.7 254.2,359.4ZM-0.7,365.6 -2.6,371.3 -1.5,373.7 0.3,374.6 11.6,376.7 15.3,376.5 17.9,375.7 19.3,374.2 19.7,371.9 18.8,369.8 16.5,367.9 13.0,366.2 4.3,364.1 1.4,364.4ZM28.3,377.7 36.7,377.6 39.3,376.9 41.0,375.8 43.1,370.5 39.9,368.7 31.9,365.9 28.2,365.0 23.6,365.2 21.6,369.3 21.3,373.8 22.5,375.6 24.8,376.9ZM51.8,375.1 59.1,377.8 62.0,377.7 64.2,376.5 68.5,370.0 56.3,364.7 49.5,363.7 47.6,364.5 46.0,367.8 45.6,371.0ZM70.8,370.5 71.8,371.9 75.9,374.8 82.1,377.8 84.8,377.8 87.3,376.9 93.2,371.4 87.2,365.0 84.6,363.7 81.7,363.6 78.7,364.6ZM101.2,364.3 96.9,368.7 95.3,371.7 102.0,377.4 104.4,378.5 106.6,378.7 108.5,378.2 112.4,374.1 113.0,371.4 112.6,369.8 107.9,364.0 105.8,362.9 103.5,363.1ZM119.2,376.3 123.4,377.9 125.6,377.5 127.9,376.3 132.0,372.6 133.6,369.8 129.1,365.3 127.1,364.5 122.5,365.2 118.0,368.1 116.0,371.0 116.6,373.8ZM141.2,366.2 136.3,370.5 140.8,376.1 142.6,377.2 146.8,377.3 149.2,376.2 152.4,373.6 153.3,370.1 151.8,367.2 147.7,365.3 145.5,365.0ZM155.0,370.8 154.7,372.9 155.9,376.6 159.6,379.8 161.7,380.5 163.9,380.3 166.1,379.2 168.3,377.2 171.2,373.8 171.9,371.0 170.5,367.6 167.1,363.2 165.1,362.0 163.0,361.8 160.9,362.7 158.7,364.7 157.0,366.7ZM174.3,371.3 175.8,375.4 178.4,377.6 180.3,377.9 185.2,376.7 190.5,373.6 192.0,372.1 192.7,369.4 191.2,363.9 189.7,363.3 187.4,363.5 177.1,368.0ZM209.5,373.7 210.7,368.6 210.0,366.7 208.2,365.8 201.4,366.8 196.4,368.8 195.4,369.9 195.9,372.4 198.1,375.7 201.6,378.7 203.3,379.1 206.9,377.4ZM224.1,368.3 214.9,363.4 213.7,367.9 213.8,372.6 216.3,375.8 220.6,377.2 222.6,376.8 226.4,374.1 227.0,372.3 226.2,370.3ZM237.9,372.9 239.1,374.6 243.1,376.2 248.9,375.4 251.3,374.2 252.9,372.4 253.7,370.2 253.8,367.5 252.7,365.8 250.5,365.3 247.1,365.9 239.6,369.4 238.0,371.2ZM-7.7,389.8 -4.6,387.7 -2.7,383.4 -2.3,380.5 -2.8,374.5 -5.5,372.4 -7.7,372.5 -11.8,375.0 -23.8,385.7 -15.4,389.2 -9.8,390.1ZM15.2,380.0 7.4,378.6 3.9,378.7 1.5,379.6 0.1,381.2 -0.3,383.6 1.3,388.1 3.3,390.3 8.5,394.0 11.5,395.3 13.1,394.5 16.2,390.8 17.7,387.2 18.4,383.1 17.4,381.4ZM25.1,390.1 30.8,392.3 35.4,391.7 38.7,389.1 39.5,387.5 39.5,384.1 38.0,382.7 35.5,381.7 31.9,381.0 27.1,380.7 21.3,381.8 20.3,383.2 20.4,385.1 21.3,386.9ZM45.6,389.7 48.5,390.8 53.1,389.1 58.3,385.6 59.9,384.3 60.8,382.4 57.9,380.0 51.1,376.8 47.9,375.8 45.5,375.6 43.9,376.2 42.6,379.2 42.6,382.9 43.7,387.0ZM63.4,385.2 68.3,390.8 70.7,392.0 73.2,392.2 75.9,391.5 78.7,389.7 82.4,386.3 83.3,382.9 82.6,381.1 78.5,377.5 75.1,375.7 72.1,374.9 69.5,375.0 67.3,376.2 64.1,380.2 62.8,383.0ZM90.4,377.2 86.9,380.0 85.3,382.8 85.2,384.2 86.7,387.4 90.6,391.1 92.9,392.0 95.4,392.0 98.0,390.9 103.8,385.8 104.3,384.5 103.2,382.5 97.2,377.8 94.8,376.8 92.5,376.6ZM107.0,383.7 107.1,385.7 110.1,390.1 114.0,391.4 119.6,390.3 121.8,389.1 123.1,387.6 123.7,385.8 122.8,381.9 121.5,380.3 117.4,377.8 115.2,377.4 111.4,378.5 108.4,381.4ZM133.0,389.7 138.8,388.4 140.5,387.2 141.4,385.6 141.0,381.8 140.2,380.0 137.2,376.4 135.4,375.5 133.4,375.4 129.0,377.8 126.2,381.4 125.8,383.4 126.8,389.4 128.5,390.0ZM150.1,378.4 147.8,379.4 144.8,382.3 143.7,386.2 144.1,390.2 145.9,390.9 151.1,390.7 155.0,390.3 159.8,388.7 160.9,387.5 161.0,386.1 158.2,381.3 154.3,378.5ZM163.0,386.1 162.9,389.6 164.0,392.6 164.9,393.9 166.5,394.4 168.7,394.2 175.1,391.3 177.7,389.4 179.3,387.5 180.1,385.4 179.9,383.4 179.4,381.5 177.2,378.5 173.7,377.1 171.7,377.5 166.9,380.6 163.7,384.3ZM200.5,383.8 196.8,377.6 194.9,376.4 192.5,376.1 186.4,378.2 182.6,381.7 182.1,383.8 183.6,389.3 185.6,391.1 187.3,391.3 192.1,389.8 197.8,386.8 199.5,385.6ZM213.3,391.3 218.9,388.4 220.5,386.8 221.1,385.1 221.0,383.3 220.2,381.8 217.2,379.2 212.6,377.7 210.3,377.9 208.1,378.7 204.1,381.3 203.1,382.6 202.9,384.9 206.4,390.8 208.2,391.8ZM225.3,390.0 227.8,390.8 232.2,389.8 237.2,387.2 239.6,383.9 239.6,380.1 238.9,378.3 236.2,374.8 233.1,372.2 230.4,374.0 226.5,377.9 224.0,382.2 223.6,386.1ZM3.9,403.4 5.9,400.9 6.8,398.7 6.4,396.5 5.0,394.6 -0.0,391.5 -2.2,390.9 -5.8,391.5 -7.6,394.1 -7.7,396.2 -7.2,398.6 -5.3,402.6 -1.9,405.3 0.0,405.5ZM17.8,392.0 17.0,393.2 16.9,395.0 19.2,400.3 21.4,403.7 23.6,405.9 25.7,407.0 27.6,406.8 29.5,405.3 31.8,402.1 32.3,400.3 32.4,398.4 31.6,396.6 27.4,393.5 24.0,392.1 21.3,391.4ZM34.5,397.9 35.3,401.0 36.6,402.3 43.0,404.8 46.1,403.9 48.2,399.8 47.8,396.9 46.3,394.2 44.0,391.9 42.5,391.4 40.9,391.5 37.2,393.6 35.8,395.0ZM53.0,401.0 57.8,403.4 62.6,403.8 64.7,403.0 67.9,400.3 68.8,399.1 69.2,397.0 64.8,390.4 62.8,389.3 60.5,389.1 57.8,389.8 52.7,393.1 51.3,394.8 50.8,398.1ZM85.5,409.9 91.3,402.9 92.4,399.8 91.3,397.1 86.8,391.5 84.7,390.3 82.3,390.2 79.7,391.1 74.8,394.6 72.4,397.3 72.2,398.2 74.5,401.3ZM110.9,401.4 110.9,395.3 110.2,393.0 107.6,389.6 105.8,389.1 103.7,389.4 98.9,392.7 95.8,396.5 95.1,398.1 95.1,399.7 96.0,401.1 100.9,403.6 104.7,404.7 107.7,404.7 109.8,403.6ZM126.8,398.0 127.3,393.8 126.7,391.5 124.8,390.8 123.0,391.1 117.8,392.7 115.7,394.2 114.3,396.1 113.8,401.4 114.6,403.3 116.2,404.2 118.6,404.1 124.0,401.7ZM143.5,397.7 142.5,392.0 141.6,391.5 134.3,392.2 130.4,394.6 129.6,396.4 130.8,402.4 133.4,405.5 135.0,406.1 138.7,404.7 140.8,402.8 142.2,401.0ZM155.9,392.0 148.9,393.7 146.9,394.9 146.0,396.3 146.1,397.8 147.7,400.6 151.3,402.8 156.0,402.8 158.6,401.8 163.2,398.4 164.2,396.7 164.2,395.0 163.3,393.3 161.7,392.3ZM169.6,401.2 171.0,403.2 172.8,404.4 175.3,404.9 181.6,403.7 185.9,401.1 186.7,399.5 186.2,396.0 183.4,392.2 179.2,392.3 172.8,395.4 170.5,397.3 169.4,399.3ZM189.5,396.8 189.5,398.8 190.5,400.7 192.5,402.2 195.7,403.6 206.5,406.3 206.5,396.0 204.9,391.8 203.6,390.2 201.8,389.3 199.6,389.3 197.1,390.0 191.8,393.1ZM212.0,403.7 220.5,402.4 226.3,399.6 227.2,398.0 226.9,396.1 225.8,393.1 224.0,391.1 220.2,391.0 213.8,393.2 209.4,396.7 208.5,398.9 208.5,401.4 209.6,403.0ZM245.6,393.7 241.0,390.5 238.5,390.1 233.0,392.0 230.9,393.5 229.1,397.1 229.7,401.0 231.3,404.2 232.5,405.6 234.2,406.0 236.6,405.5 247.7,398.6 248.8,397.3ZM-24.1,411.4 -11.6,415.2 -4.4,415.9 -2.3,415.2 0.3,410.5 -0.3,409.3 -2.8,407.4 -4.7,406.3 -7.2,405.8 -13.7,407.1ZM6.6,413.3 12.6,415.3 15.1,415.3 19.2,413.1 20.1,411.1 19.9,408.7 18.7,405.8 12.2,397.2 9.3,399.5 2.2,409.9 2.8,411.2ZM29.5,415.0 34.7,419.3 36.9,419.9 38.9,419.6 40.6,418.3 42.7,415.0 43.0,410.8 42.4,409.0 41.3,407.4 37.5,405.3 33.1,405.5 28.7,408.4 27.8,410.4 28.0,412.6ZM50.1,417.5 58.8,418.9 60.6,418.6 61.1,416.2 60.9,411.6 58.8,407.6 56.9,406.3 52.2,404.9 48.7,405.5 47.4,406.5 45.6,409.4 44.9,413.3 45.7,415.0ZM78.6,407.8 72.6,403.8 70.1,403.2 68.1,403.7 66.4,405.1 64.3,408.7 63.8,413.1 64.9,414.8 67.0,415.9 70.1,416.4 80.1,415.4 81.7,414.4 82.4,413.3 82.1,411.7ZM110.6,409.0 100.1,406.1 96.7,405.7 91.8,407.0 90.2,408.6 90.0,410.4 90.9,412.4 93.2,414.5 96.6,416.8 99.8,417.8 102.7,417.6 105.2,416.1ZM113.0,408.5 119.5,414.8 122.0,416.5 124.7,417.2 127.4,416.9 130.2,415.6 133.8,413.2 134.6,412.1 134.7,411.0 133.5,408.5 130.5,405.8 128.3,405.0 122.2,405.5ZM152.8,411.2 152.4,407.8 151.5,406.4 148.0,403.8 146.0,403.4 142.2,404.9 139.0,408.5 137.6,411.7 138.6,414.8 141.7,415.3 150.1,413.7ZM171.1,410.8 171.0,408.6 168.1,402.3 166.4,401.0 164.2,400.8 161.6,401.8 158.7,404.0 155.0,408.1 154.4,410.0 155.3,414.7 157.0,416.6 158.4,416.9 166.1,414.3ZM182.4,405.7 175.7,407.4 172.7,409.4 173.1,412.0 175.4,415.8 179.3,419.5 181.1,420.0 182.9,419.7 184.6,418.3 186.0,416.6 187.5,411.9 187.8,408.9 187.0,406.9 185.2,405.8ZM192.4,416.6 198.0,418.5 202.5,418.0 203.9,416.8 206.2,410.3 203.2,408.8 195.8,407.2 192.7,407.3 190.7,408.2 189.7,410.0 189.9,412.7 190.7,414.9ZM209.8,412.4 219.7,416.6 223.4,417.3 226.4,417.1 228.7,416.0 231.4,412.6 232.3,410.4 229.7,405.3 227.9,404.6 221.0,405.1 208.7,408.1 208.7,411.1ZM244.0,403.7 234.2,410.5 243.0,415.4 246.1,416.3 248.7,416.3 250.9,415.3 255.2,409.4 254.3,406.2 251.8,402.8 249.8,402.0 247.2,402.3ZM11.7,427.2 13.7,422.0 11.8,418.6 6.4,415.3 1.8,414.4 0.2,415.3 -1.6,418.7 -2.8,425.7 -2.2,427.6 -0.5,428.3 7.9,428.7ZM15.6,421.4 15.6,423.3 16.7,425.1 19.0,426.8 22.3,428.4 33.8,431.7 35.0,426.2 34.6,424.1 31.3,419.4 25.8,415.2 23.3,414.6 21.0,415.0 17.2,417.9ZM53.9,420.1 46.5,418.7 43.7,419.0 41.4,420.0 38.4,423.3 36.6,428.0 37.8,429.1 44.6,430.3 58.9,429.8 59.6,424.4 58.7,422.8ZM62.3,420.1 61.2,422.7 61.2,426.0 62.3,427.5 64.5,428.7 75.6,430.5 79.7,430.0 80.3,429.3 81.0,426.7 81.1,422.5 79.9,420.8 77.7,419.6 74.3,419.1 66.3,419.3ZM90.4,428.8 101.4,430.7 101.3,425.6 100.3,423.6 95.7,418.7 86.4,411.8 84.4,414.3 83.2,417.4 83.4,423.8 84.8,425.8ZM120.2,424.3 120.5,422.8 119.3,419.1 115.8,414.4 113.7,413.3 111.5,413.7 109.3,415.4 105.4,421.3 103.7,426.5 106.6,427.7 113.7,427.2 116.7,426.5ZM129.9,433.6 134.6,429.8 137.6,425.1 138.0,423.0 136.3,416.4 133.5,416.5 127.9,418.5 125.5,419.9 123.0,422.9 123.9,428.3 126.2,432.7 127.9,433.8ZM157.4,422.2 156.8,418.7 154.9,417.3 153.3,416.9 145.2,417.7 142.9,418.6 141.3,419.7 140.7,421.2 140.8,422.9 142.9,426.1 147.4,428.8 149.7,429.4 153.5,428.3 156.1,425.1ZM174.3,429.3 178.2,424.2 174.0,417.9 171.9,416.5 169.6,416.0 167.1,416.4 162.2,419.1 159.9,421.8 159.7,423.1 160.3,424.6 164.3,427.7 170.3,430.2 172.6,430.2ZM180.3,424.4 189.0,430.0 192.1,430.8 194.7,430.5 197.0,429.1 202.1,422.4 194.0,420.6 188.1,420.6 185.7,421.2ZM205.1,422.0 213.5,430.4 216.5,432.0 219.2,432.1 221.6,430.7 225.3,425.3 226.7,422.1 226.6,421.3 223.2,419.2 215.7,416.6 212.2,416.0 209.5,416.2 207.6,417.2ZM231.9,415.7 228.7,421.0 229.3,423.0 237.3,429.1 242.6,431.3 244.3,431.1 246.8,427.2 246.9,423.4 246.0,421.4 244.3,419.5 238.6,415.9 235.9,415.0 233.7,414.9ZM-4.5,438.5 -3.3,431.0 -3.6,429.5 -16.2,430.6 -19.9,431.6 -22.4,433.0 -23.7,434.8 -23.8,436.9 -22.8,438.7 -17.1,441.3 -12.4,442.1 -8.7,441.9 -6.1,440.7ZM-1.9,436.0 -3.2,444.8 6.7,444.0 9.6,443.0 11.3,441.3 11.7,439.0 11.0,436.1 9.7,433.8 7.9,432.3 2.8,431.2 0.6,431.9 -0.9,433.5ZM16.5,445.2 17.5,446.2 21.5,445.0 28.2,439.7 33.9,434.2 22.2,429.9 18.4,429.1 13.7,429.1 12.8,430.1 12.3,433.6 13.7,439.2ZM36.2,433.1 35.8,434.8 39.6,439.4 44.3,441.7 51.7,442.6 54.7,442.2 56.7,441.1 57.7,439.3 57.8,436.8 56.5,434.9 53.9,433.6 44.6,432.7ZM60.6,430.5 60.4,445.6 71.6,443.2 74.9,441.8 77.1,440.3 78.1,438.6 78.1,436.8 77.0,435.2 74.8,433.8 61.7,430.6ZM81.9,430.8 80.7,434.9 81.1,441.8 94.7,442.5 99.0,441.5 100.7,439.4 101.0,435.3 97.4,432.7 86.0,430.1ZM109.5,441.3 116.8,443.9 119.6,443.7 121.8,442.4 123.4,440.2 124.5,435.8 122.8,431.7 120.8,430.3 118.0,429.6 114.5,429.6 103.6,431.4 103.4,436.1 104.5,437.8ZM138.5,429.4 133.5,433.3 132.3,435.5 132.6,437.4 134.3,439.2 137.4,440.7 142.7,441.6 144.9,440.9 149.3,436.9 149.8,434.4 149.2,433.1 143.6,429.2 141.1,428.8ZM155.7,440.2 159.7,442.3 164.6,441.9 170.6,438.3 171.1,435.7 168.5,432.9 166.2,431.3 163.1,429.7 158.1,428.8 156.1,429.5 154.6,431.1 152.5,435.1 153.2,437.6ZM174.4,438.4 178.3,444.7 180.4,445.9 182.9,445.8 185.7,444.6 188.8,442.1 192.7,438.6 193.5,436.9 190.9,434.5 184.7,430.8 179.2,429.3 177.3,429.9 174.8,432.7 173.8,435.5ZM206.8,440.1 216.8,437.6 208.8,429.8 205.8,428.2 203.2,428.0 201.1,429.1 196.1,436.6 199.2,439.7 201.2,440.3ZM224.8,439.8 231.1,442.0 235.9,441.9 240.0,438.8 240.7,436.3 238.5,432.9 233.2,428.7 230.3,427.8 227.7,428.2 225.3,430.0 223.1,433.1 222.3,435.8 222.9,438.0ZM-17.4,457.3 -6.9,452.2 -5.5,450.7 -5.0,446.6 -16.8,444.3 -20.3,444.7 -22.7,446.5 -23.9,449.4 -24.0,453.6 -23.0,456.3 -20.8,457.6ZM-3.0,449.3 -2.4,452.8 -0.7,456.9 0.6,459.1 2.5,459.9 5.1,459.5 8.3,457.7 18.0,449.8 15.0,446.8 10.5,445.7 -0.0,446.9 -2.0,447.9ZM38.4,441.5 37.0,439.8 35.0,439.3 32.4,439.9 29.3,441.7 20.5,449.2 23.8,454.0 25.5,455.5 30.6,456.6 34.0,456.4 36.7,455.4 38.6,453.8 39.7,451.5 39.9,445.9ZM41.7,448.6 41.9,454.0 43.2,458.3 46.6,458.3 49.4,457.4 59.5,452.8 59.0,447.9 58.5,447.0 57.3,446.6 47.9,445.0 44.8,445.3 42.8,446.5ZM72.8,445.1 62.7,448.6 61.5,449.6 61.4,450.6 64.8,453.5 68.3,455.5 76.6,459.5 80.2,460.5 79.8,449.2 78.5,446.6 76.1,445.2ZM97.1,450.8 97.0,448.9 96.1,447.4 94.2,446.2 87.9,445.0 85.3,445.5 83.6,447.0 82.9,449.5 83.2,452.9 84.3,455.2 86.1,456.4 88.7,456.4 92.1,455.3 96.3,452.5ZM119.1,450.8 118.0,448.9 116.0,447.5 105.7,442.7 101.9,442.3 100.7,444.4 99.7,450.0 100.3,454.0 102.4,457.5 104.2,458.2 109.8,457.0 116.3,453.3ZM125.4,442.0 121.8,448.2 121.4,451.0 122.1,453.3 133.9,454.4 137.1,453.9 139.2,452.8 140.3,451.0 140.4,448.6 138.0,444.4 132.5,440.9 129.7,440.3 127.4,440.6ZM143.0,448.8 142.8,456.5 143.0,457.0 144.0,457.0 152.4,454.3 155.2,452.8 157.0,451.2 158.0,449.6 158.0,447.8 156.7,444.6 155.4,443.2 151.8,441.2 149.9,441.1 146.1,442.9 144.7,444.4ZM162.4,456.9 164.4,459.2 166.6,460.2 169.2,459.8 172.2,458.1 175.5,455.0 177.4,452.1 178.0,449.5 177.2,447.1 172.8,443.7 170.4,443.2 167.8,443.5 163.1,445.9 161.5,447.4 160.2,450.8 160.3,452.7ZM184.3,452.5 185.7,453.9 189.9,455.2 195.7,454.8 198.0,453.8 199.5,452.3 200.2,450.2 199.6,445.4 198.0,442.1 196.7,441.0 195.0,440.8 190.1,443.5 184.9,448.8 184.0,450.8ZM202.7,448.2 203.6,454.7 204.0,455.6 205.5,455.9 211.6,453.8 213.5,452.4 214.9,450.5 215.8,445.5 215.1,443.6 213.4,442.5 207.5,443.0 204.9,444.2 203.3,445.9ZM218.3,439.3 217.7,448.4 218.8,453.5 221.8,456.5 223.4,457.1 226.2,456.7 228.5,454.3 230.3,450.9 231.1,448.7 230.8,446.7 229.4,444.8 227.0,443.1ZM238.9,443.0 235.5,444.7 234.2,446.3 232.5,450.7 232.7,452.8 233.9,454.7 236.1,456.2 239.2,457.4 244.1,457.8 245.9,457.0 247.2,455.6 249.7,451.1 248.3,448.6 244.7,444.9 240.7,443.0ZM-12.1,458.0 -19.5,461.7 -20.9,463.5 -20.6,465.2 -18.7,467.0 -16.3,468.0 -13.3,468.4 -5.5,467.1 0.9,464.8 -0.1,462.1 -3.0,458.4 -5.3,457.3 -8.4,457.2ZM22.2,466.5 22.8,461.1 22.2,457.2 20.3,453.6 18.5,453.1 15.9,453.8 12.6,455.8 5.6,461.7 2.8,465.0 3.7,467.4 5.0,467.5ZM25.6,462.0 25.4,463.7 26.3,465.3 31.3,468.7 35.5,470.4 38.6,470.9 40.7,470.2 41.8,468.3 41.4,460.7 40.2,458.6 36.8,458.0 30.9,458.8 26.6,460.7ZM44.6,466.1 44.1,471.9 43.9,473.5 43.8,474.3 53.3,469.6 56.1,467.6 58.0,465.4 58.7,462.9 58.4,460.3 57.4,458.7 55.6,457.9 49.8,459.4 47.3,461.1 45.6,463.3ZM60.5,454.2 60.1,459.3 61.0,465.2 63.7,469.5 65.8,471.1 68.0,471.7 70.3,471.3 72.8,469.8 79.5,463.4ZM81.4,463.5 87.6,469.3 90.2,470.5 92.8,470.6 95.6,469.6 98.5,467.7 102.1,464.7 102.9,462.9 101.0,459.9 97.8,457.9 92.2,458.0 88.6,458.8 83.7,460.5 82.4,461.4ZM104.5,464.2 108.1,469.5 110.0,470.4 112.2,470.6 117.9,468.6 120.1,466.9 121.5,464.8 122.1,462.4 121.5,455.3 105.7,462.6ZM127.3,467.4 129.9,469.3 131.9,469.4 137.1,467.8 139.2,466.6 141.5,463.4 141.7,458.1 130.4,456.5 127.1,456.7 125.1,457.7 124.4,459.4 124.9,461.9ZM145.5,465.5 147.8,469.5 152.0,469.7 158.9,467.0 161.3,465.2 162.5,463.1 162.3,460.9 160.9,458.5 158.9,457.0 156.5,456.4 150.2,457.8 147.6,459.1 145.1,462.2ZM175.8,467.9 187.0,473.1 186.2,459.5 185.6,457.2 183.7,454.9 180.0,455.9 174.1,460.4 172.8,462.9 173.4,465.5ZM202.6,457.9 193.8,457.8 191.7,458.7 190.4,460.3 189.9,462.6 190.2,465.7 191.2,467.7 192.9,468.6 195.3,468.4 198.3,467.2 200.7,465.8 203.1,462.7 203.2,459.6ZM212.1,456.4 207.8,458.9 205.9,461.6 205.8,462.9 208.0,468.0 209.6,470.0 211.4,471.0 213.6,470.9 216.0,469.8 218.8,467.6 222.3,464.0 223.2,461.4 221.9,459.0 218.6,456.4 216.5,455.8ZM228.4,458.2 224.8,461.1 224.6,463.1 227.3,467.2 228.9,468.9 230.9,469.8 235.6,469.3 240.6,466.4 242.6,463.8 241.6,461.5 238.0,459.3 232.7,457.8ZM160.5,469.4 156.1,471.0 153.0,472.9 151.0,475.1 150.1,477.6 150.4,480.4 151.5,482.4 153.4,483.7 159.7,484.1 162.4,482.9 164.5,480.8 165.7,477.5 166.2,473.3 165.5,470.6 163.6,469.3Z" fill="#deac75" stroke="#4a2a10" stroke-width="1.25" stroke-linejoin="round"/>
    <path d="M17.8,5.7L6.5,7.4L-3.0,7.7M21.5,17.1L21.4,14.1L21.8,12.2M-6.0,35.8L-2.9,31.0L0.5,27.1M37.8,-4.0L37.6,-0.8L37.8,3.1M158.6,453.7L162.9,459.7L167.5,464.9M46.9,283.8L47.4,279.0L48.2,273.3M46.9,283.8L41.9,285.8L37.1,288.5M29.2,273.2L28.1,275.0L27.5,276.6M27.5,276.6L28.2,277.3L27.7,278.6M37.1,288.5L32.7,284.3L27.7,278.6M13.6,243.2L5.9,246.4L-1.4,251.3M3.2,277.9L5.7,274.9L8.2,272.8M-9.4,262.0L-4.5,257.6L-1.5,253.7M8.2,272.8L8.6,268.6L9.4,263.8M9.4,263.8L3.1,259.3L-1.5,253.7M-1.5,253.7L-1.2,253.3L-1.4,251.3M8.2,272.8L18.2,274.0L27.5,276.6M13.6,243.2L16.9,247.5L21.5,251.7M21.5,251.7L28.5,247.0L37.1,243.8M37.2,237.7L37.6,240.4L37.1,243.8M29.1,266.2L35.4,263.0L41.3,258.2M37.1,243.8L38.2,246.5L40.2,247.5M46.9,283.8L52.6,287.9L56.5,291.2M52.2,268.7L56.6,273.2L62.3,277.1M41.3,258.2L47.1,261.8L52.4,266.4M95.1,62.3L100.3,58.8L105.0,53.5M105.0,53.5L106.0,52.7L105.3,51.3M105.3,51.3L99.5,46.6L92.1,42.0M-6.8,42.5L-3.8,48.3L0.2,52.2M-10.6,63.2L-5.9,58.1L0.2,52.2M238.2,0.6L235.6,3.5L233.3,6.2M233.3,6.2L223.4,5.8L213.9,6.5M213.4,-5.8L212.7,0.3L213.9,6.5M84.2,-2.9L83.1,0.7L83.8,6.1M60.1,6.7L71.3,6.8L83.8,6.1M60.1,6.7L60.6,2.5L60.2,-3.1M-4.3,454.2L-1.6,458.2L1.9,463.3M-2.0,430.0L4.8,430.3L10.8,430.9M-2.0,430.0L-3.4,437.2L-4.6,445.0M-3.7,446.4L6.1,445.8L14.1,444.6M14.1,444.6L12.9,437.3L10.8,430.9M-4.0,427.5L-3.2,429.4L-2.0,430.0M-3.9,418.7L-1.5,415.9L1.3,411.5M1.3,411.5L8.7,415.6L14.9,418.3M14.7,426.6L14.1,421.7L14.9,418.3M14.7,426.6L12.0,428.6L10.8,430.9M19.4,448.9L19.0,450.3L19.5,450.0M19.4,448.9L15.9,446.6L14.1,444.6M19.5,450.0L11.4,456.5L1.9,463.3M19.4,448.9L27.2,441.7L34.4,435.8M34.4,435.8L35.2,434.4L34.6,433.1M14.7,426.6L23.9,430.7L34.6,433.1M167.5,464.9L167.5,464.6L167.5,464.9M143.4,458.3L143.0,457.6L141.8,456.3M141.8,456.3L132.2,454.6L122.1,454.6M144.8,400.1L139.7,404.7L135.6,409.2M142.3,389.9L143.8,392.0L144.7,392.9M127.8,402.3L131.0,405.8L135.6,409.2M120.9,453.2L120.7,449.6L120.4,447.5M120.4,447.5L123.6,442.6L127.7,437.3M143.1,380.0L139.6,376.7L134.7,372.3M128.3,392.0L126.0,391.2L125.4,389.2M3.2,277.9L4.0,278.0L3.2,278.5M27.7,278.6L22.5,285.6L16.3,292.7M37.1,288.5L36.0,292.4L36.4,296.2M36.4,296.2L28.8,299.9L20.4,302.4M20.4,302.4L19.0,300.4L16.4,296.8M16.3,292.7L15.6,295.7L16.4,296.8M78.3,288.3L77.2,292.9L77.9,296.5M78.3,288.3L70.9,286.6L62.6,284.4M56.7,294.1L64.0,299.0L70.7,304.6M77.9,296.5L74.7,300.2L70.7,304.6M136.7,241.9L142.9,246.9L148.3,251.3M136.7,241.9L130.7,248.7L126.1,253.7M129.8,264.5L127.7,260.4L126.1,257.7M126.1,253.7L125.5,255.0L126.1,257.7M62.3,277.1L69.3,273.8L75.3,270.9M74.4,264.1L74.5,267.2L75.3,270.9M78.1,274.0L76.0,273.0L75.3,270.9M107.7,270.4L107.3,267.0L106.1,262.5M106.1,262.5L99.9,261.9L92.7,262.3M92.7,262.3L91.3,267.5L91.1,271.1M79.7,286.1L89.2,285.8L99.0,284.2M99.4,283.6L98.9,282.9L99.5,281.2M117.2,288.2L108.1,285.3L99.4,283.6M117.2,288.2L117.7,287.5L118.8,286.6M107.3,260.3L116.5,259.2L126.1,257.7M107.3,260.3L107.7,260.6L106.1,262.5M120.4,274.3L124.5,270.6L129.5,267.4M86.2,254.2L90.5,257.5L92.7,262.3M217.4,101.7L217.1,102.1L217.2,104.0M217.4,101.7L208.7,96.6L198.5,91.2M213.7,108.7L215.9,106.6L217.2,104.0M213.7,108.7L206.3,109.2L200.5,108.0M196.4,94.0L198.2,91.7L198.5,91.2M220.3,86.5L217.5,83.2L214.5,80.2M195.7,74.0L199.6,69.9L202.1,64.8M195.7,74.0L197.1,80.4L197.9,85.2M202.1,64.8L207.7,68.6L214.6,74.1M202.1,64.8L201.5,63.2L201.8,62.9M198.2,58.7L199.5,60.4L201.8,62.9M179.4,61.6L179.0,65.1L179.0,70.7M-4.5,223.8L0.4,221.5L3.4,217.7M3.4,217.7L7.5,221.2L10.6,223.5M138.8,295.4L127.0,298.6L117.0,302.0M137.9,307.9L131.9,312.3L127.6,316.2M136.5,337.8L137.3,332.9L137.1,329.3M128.0,320.2L133.2,324.2L137.1,329.3M128.0,320.2L120.8,326.3L112.9,331.6M117.8,337.7L116.2,335.3L112.9,331.6M191.3,117.1L192.3,116.7L191.3,115.6M197.4,126.9L198.6,127.9L198.7,127.4M98.0,34.1L95.9,36.4L92.5,37.7M92.5,37.7L87.8,32.5L81.5,27.4M81.5,27.4L81.9,25.5L81.2,22.1M70.5,45.5L78.8,46.0L89.1,45.0M140.5,47.2L130.3,47.3L121.5,45.9M143.3,40.6L136.3,36.0L130.6,31.7M212.7,8.7L201.8,7.9L192.2,6.8M192.6,-4.3L191.7,0.3L192.2,6.8M201.6,455.6L194.5,456.2L187.3,456.3M204.3,465.7L205.0,462.6L204.7,458.3M216.3,453.6L219.8,456.5L223.9,459.8M216.3,453.6L209.8,455.7L204.7,458.3M223.9,464.9L223.1,462.5L223.9,459.8M201.6,455.6L200.8,448.4L200.6,442.6M216.3,453.6L215.8,446.8L216.9,440.1M24.3,457.8L21.1,453.8L19.5,450.0M40.9,443.6L39.6,450.9L40.0,456.8M24.3,457.8L24.0,463.4L23.5,467.3M14.9,418.3L19.2,414.3L24.1,411.0M36.5,423.2L30.3,416.8L24.1,411.0M181.5,451.1L181.9,451.6L181.4,450.2M181.4,450.2L187.5,443.9L195.3,438.5M203.7,422.6L199.5,429.3L194.9,435.0M218.5,438.0L219.2,436.5L218.5,437.1M194.9,435.0L194.8,436.3L195.3,438.5M223.9,340.8L218.3,340.1L211.6,337.6M211.6,337.6L207.9,339.6L204.5,343.3M204.5,343.3L204.7,346.5L203.7,350.1M203.7,350.1L208.9,353.2L214.4,357.5M214.4,357.5L219.9,353.3L224.3,348.6M162.1,390.3L164.2,394.1L166.3,397.2M20.3,304.9L21.1,304.0L20.4,302.4M20.3,304.9L26.9,312.0L34.7,317.3M45.2,304.2L45.6,305.4L45.4,307.7M34.7,317.3L40.6,312.4L45.4,307.7M70.7,304.6L71.1,307.0L70.4,308.7M70.4,308.7L61.2,310.8L52.1,312.9M172.1,407.6L171.0,410.8L171.5,412.1M171.5,412.1L164.7,415.9L158.5,418.6M135.9,414.2L135.8,412.2L135.6,409.2M135.9,414.2L138.3,415.1L139.0,417.4M154.0,414.3L146.2,415.8L139.0,417.4M121.1,427.6L125.3,432.1L127.7,437.3M112.3,393.4L108.2,389.3L105.3,386.4M93.4,395.8L94.1,400.0L93.5,402.6M125.4,389.2L118.8,390.5L112.3,393.4M60.7,447.8L59.0,447.0L59.2,445.3M60.7,447.8L69.4,445.3L79.6,442.5M59.2,445.3L60.3,437.6L59.4,431.1M79.6,442.5L80.6,437.3L79.5,432.8M60.6,452.6L60.6,449.7L60.7,447.8M35.8,431.0L47.6,430.4L59.4,431.1M60.6,421.1L61.5,424.3L60.7,429.0M43.5,416.8L39.3,420.0L36.5,423.2M112.2,409.5L106.8,415.2L102.5,422.5M86.6,410.7L95.0,416.7L102.5,422.5M102.3,439.3L102.5,435.0L101.7,432.1M82.7,428.5L92.1,429.4L101.7,432.1M121.1,427.6L111.4,428.0L102.7,430.3M120.4,447.5L111.8,444.0L102.3,439.3M102.7,430.3L102.4,430.4L101.7,432.1M62.0,407.3L61.9,411.9L62.2,418.5M85.4,411.1L82.7,415.4L81.7,417.9M60.6,421.1L61.9,418.9L62.2,418.5M71.0,395.6L77.9,391.4L83.9,387.5M83.9,387.5L89.2,391.1L93.4,395.8M86.6,410.7L86.3,410.3L85.4,411.1M103.6,465.2L102.9,463.9L103.9,461.7M80.3,464.2L81.2,463.9L80.3,462.7M98.6,444.1L97.5,448.7L97.9,454.4M60.6,452.6L70.8,458.3L80.3,462.7M0.6,356.4L-5.6,353.4L-12.4,349.4M0.6,356.4L0.6,358.6L0.6,361.4M-4.1,370.9L-2.0,366.7L0.6,361.4M10.5,396.6L5.0,403.3L1.0,408.3M1.0,408.3L-3.4,406.1L-7.3,403.0M-0.2,376.0L-0.5,381.9L-2.0,388.2M14.4,395.6L11.5,395.4L10.5,396.6M-3.2,299.6L-5.2,296.4L-7.6,292.8M-3.2,299.6L-4.0,304.3L-3.9,309.0M3.2,278.5L-1.5,286.5L-7.6,292.8M225.9,281.7L224.6,283.9L224.1,284.4M224.1,284.4L215.4,285.2L208.0,286.5M203.1,278.9L202.8,277.9L200.8,278.6M210.1,260.0L201.1,262.2L191.3,263.6M191.3,263.6L191.0,266.4L191.1,268.2M155.9,282.6L147.9,286.4L138.5,289.3M155.9,282.6L155.0,278.4L155.5,274.8M153.2,271.2L153.9,273.1L155.5,274.8M138.5,289.3L139.1,289.5L138.0,288.6M153.4,265.5L153.3,269.3L153.2,271.2M172.8,271.5L172.4,264.4L170.9,257.3M172.8,271.5L164.3,272.6L155.5,274.8M147.4,258.4L151.3,261.2L153.4,265.5M129.5,267.4L133.1,271.6L136.4,275.6M118.8,286.6L128.2,287.2L138.0,288.6M138.9,295.1L137.8,291.5L138.5,289.3M115.4,305.5L113.9,306.0L113.4,306.1M77.9,296.5L84.4,299.1L91.6,301.5M107.3,260.3L105.9,254.2L105.5,250.1M86.8,249.7L94.2,248.4L101.7,246.7M86.8,249.7L86.1,252.2L86.2,254.2M28.0,217.6L19.6,220.6L10.6,223.5M28.0,217.6L29.1,217.1L29.9,218.6M37.2,237.7L44.7,235.2L53.4,231.3M53.4,231.3L54.6,225.4L54.2,221.3M233.3,6.2L232.2,12.8L231.8,20.6M208.6,24.7L211.9,22.0L213.5,18.4M208.6,24.7L208.0,28.4L208.6,30.4M229.1,33.9L226.7,37.0L224.2,40.2M224.2,40.2L217.1,36.1L208.6,30.4M140.5,47.2L141.9,52.5L141.5,56.7M158.9,59.3L159.6,59.0L161.5,56.8M161.6,48.0L160.5,52.9L161.5,56.8M125.3,81.7L132.7,83.7L141.7,86.4M122.8,85.2L122.2,89.1L122.6,93.7M141.7,86.4L142.2,90.4L143.3,95.8M122.6,93.7L123.6,95.3L124.6,97.6M142.5,97.9L142.4,100.3L143.1,103.6M127.4,157.0L123.5,159.8L120.4,162.5M140.1,164.2L140.1,164.1L140.1,164.8M140.1,164.8L134.3,170.6L128.4,177.2M140.1,164.2L143.0,160.8L147.8,155.8M148.9,176.7L155.6,171.1L164.1,167.1M147.8,155.8L155.1,160.7L164.1,167.1M148.1,152.9L147.2,153.4L147.8,155.8M161.2,138.3L162.3,142.0L162.3,145.1M156.9,134.8L149.3,135.5L143.2,136.0M142.0,144.3L143.4,139.5L143.2,136.0M122.5,57.9L118.5,61.2L113.7,63.5M113.7,63.5L113.6,65.5L112.8,69.0M112.8,69.0L119.3,74.3L124.9,77.9M133.8,64.8L129.5,71.8L124.9,77.9M137.6,63.7L138.9,59.3L141.5,56.7M137.6,63.7L135.5,65.1L133.8,64.8M227.2,336.2L228.5,332.0L228.1,327.6M246.0,326.2L238.0,326.1L228.1,327.6M209.0,323.8L209.9,323.0L209.4,323.2M97.0,344.8L101.8,350.0L105.0,355.0M108.3,330.7L111.6,331.2L112.9,331.6M105.0,355.0L111.1,352.0L118.3,350.2M136.2,345.9L137.5,341.6L137.0,339.0M136.2,345.9L131.2,349.0L126.1,353.9M118.3,350.2L122.5,352.5L126.1,353.9M134.6,368.8L130.1,366.1L127.0,361.5M143.5,362.0L143.5,356.8L144.1,353.4M144.1,353.4L140.9,349.4L136.2,345.9M127.0,361.5L127.1,358.3L126.1,353.9M136.7,241.9L136.8,239.9L136.6,238.7M117.8,245.6L117.0,240.3L117.4,235.5M128.4,177.2L128.5,179.0L128.4,180.0M148.3,181.3L142.0,183.6L134.1,187.0M128.4,180.0L130.2,182.8L134.1,187.0M148.7,200.2L152.7,194.5L157.2,190.6M153.8,210.7L159.7,209.1L167.1,206.4M158.8,190.6L162.9,196.6L167.0,200.6M167.0,200.6L166.2,202.8L167.1,206.4M148.3,181.3L152.0,186.2L157.2,190.6M133.5,194.8L134.3,191.9L134.1,187.0M133.5,194.8L140.2,198.4L148.7,200.2M133.9,215.5L141.7,211.7L149.5,207.0M179.8,193.7L174.4,197.0L167.0,200.6M179.4,186.5L174.1,183.1L169.1,181.2M189.4,204.4L188.4,207.1L186.9,208.7M170.5,210.4L169.5,208.2L167.1,206.4M177.1,280.0L181.9,284.7L188.0,288.4M177.1,280.0L171.8,286.2L164.8,291.5M173.7,301.9L168.7,297.4L164.8,292.0M188.0,288.4L187.9,292.2L188.8,295.2M164.8,291.5L164.1,291.8L164.8,292.0M200.8,278.6L195.1,283.3L188.0,288.4M172.8,271.5L175.7,274.5L177.2,277.5M155.9,282.6L160.1,286.7L164.8,291.5M194.8,300.8L201.4,296.9L207.2,294.2M207.2,294.2L207.6,289.5L208.0,286.5M138.9,295.1L148.0,297.1L155.5,300.4M155.5,300.4L160.5,296.7L164.8,292.0M209.0,323.8L201.2,327.0L193.4,330.1M204.5,343.3L198.8,337.6L193.3,332.2M193.4,330.1L192.9,331.4L193.3,332.2M162.4,241.2L170.0,237.4L176.9,232.0M155.3,228.6L154.6,227.6L155.3,227.6M155.3,227.6L161.7,223.6L169.1,220.1M169.1,220.1L173.7,223.4L177.3,225.7M176.9,232.0L177.3,228.0L177.3,225.7M136.6,238.7L145.7,234.0L155.3,228.6M162.4,242.7L162.5,242.5L162.4,241.2M132.3,220.4L132.7,219.1L133.9,217.4M188.2,219.8L182.2,223.2L177.3,225.7M217.3,195.0L216.8,190.9L217.0,186.2M217.3,195.0L215.0,197.9L212.3,202.0M199.5,188.5L204.7,186.4L211.6,182.8M199.5,188.5L199.0,189.4L199.2,191.5M189.4,204.4L188.9,203.7L190.4,204.0M199.2,191.5L194.6,198.1L190.4,204.0M228.6,301.8L228.3,305.1L229.7,310.0M225.2,298.7L219.3,298.4L213.0,299.7M229.1,310.9L229.9,311.1L229.7,310.0M229.1,310.9L219.0,311.5L210.3,313.4M242.0,293.7L234.4,298.6L228.6,301.8M207.2,294.2L210.6,297.6L213.0,299.7M227.4,326.5L227.7,318.5L229.1,310.9M194.8,300.8L194.1,305.0L195.1,308.6M229.3,199.6L233.8,194.9L236.5,189.5M124.6,4.6L133.2,6.5L142.7,6.9M132.1,21.8L140.1,20.9L146.3,18.3M142.7,6.9L144.8,9.5L147.3,13.6M146.3,18.3L147.0,18.4L147.3,16.8M114.2,24.5L120.3,20.7L126.1,18.0M130.6,31.7L131.9,26.5L132.1,21.8M143.8,-5.1L143.2,0.6L142.7,6.9M160.6,2.5L160.1,-0.4L160.2,-2.5M123.9,3.8L114.3,7.7L106.7,11.7M103.8,-4.1L103.5,1.2L103.4,7.5M103.4,7.5L105.2,9.2L106.7,11.7M124.6,4.6L124.2,5.0L123.9,3.8M106.6,17.0L105.8,14.1L106.7,11.7M83.8,6.1L83.4,6.6L84.7,8.0M84.7,8.0L94.3,7.3L103.4,7.5M84.0,18.1L84.9,12.4L84.7,8.0M37.8,3.1L39.9,5.8L42.6,7.7M60.1,6.7L60.3,7.8L59.4,8.1M59.4,8.1L50.3,8.7L42.6,7.7M21.5,17.1L21.9,16.5L21.9,17.6M21.9,17.6L31.6,19.7L40.2,21.3M42.6,7.7L40.7,14.8L40.2,21.3M159.2,83.4L152.3,83.4L145.1,82.1M159.2,83.4L159.7,76.6L159.5,70.1M159.5,70.1L158.4,70.1L158.6,69.2M160.7,85.0L160.3,88.7L159.1,94.1M160.7,85.0L159.2,84.3L159.2,83.4M141.7,86.4L143.8,83.9L145.1,82.1M158.9,59.3L158.6,63.8L158.6,69.2M161.5,56.8L170.6,58.5L179.1,61.0M137.6,63.7L141.0,68.6L145.3,73.0M125.3,81.7L126.0,79.9L124.9,77.9M191.7,7.5L182.4,8.2L175.0,8.0M191.7,7.5L192.3,13.4L192.2,19.4M192.2,19.4L188.6,22.5L186.3,25.8M171.0,17.8L170.7,14.3L172.1,10.3M172.1,10.3L173.1,9.9L175.0,8.0M192.2,6.8L191.6,6.3L191.7,7.5M208.6,24.7L200.6,21.7L192.2,19.4M166.1,22.2L156.8,20.2L147.3,16.8M160.6,2.5L165.8,5.7L172.1,10.3M32.3,36.0L28.1,33.9L23.8,30.3M32.3,36.0L32.4,39.3L31.2,44.4M23.8,30.3L18.8,35.9L13.6,39.6M19.9,48.0L17.4,45.2L13.7,42.7M0.5,27.1L7.5,33.2L13.6,39.6M0.8,52.2L7.1,47.1L13.7,42.7M233.3,408.8L232.4,410.3L233.1,411.9M228.4,402.0L229.9,405.6L233.3,408.8M227.6,424.1L227.8,422.5L227.3,419.6M227.3,419.6L217.2,415.6L208.0,413.0M179.2,426.4L186.3,430.0L194.9,435.0M179.2,426.4L179.0,425.5L179.5,423.4M179.5,423.4L183.0,419.5L188.0,417.5M203.6,421.0L194.9,419.4L188.0,417.5M230.9,455.4L237.0,457.9L243.7,460.7M230.9,455.4L232.5,448.9L233.4,444.2M223.9,459.8L227.3,457.5L230.9,455.4M218.5,438.0L225.0,441.4L233.4,444.2M43.5,416.8L44.2,411.3L44.5,407.0M24.1,410.9L27.9,406.8L33.6,403.3M172.4,439.7L173.5,436.8L173.1,433.0M172.4,439.7L165.8,443.3L159.5,445.3M158.4,425.4L154.8,429.7L151.0,432.2M151.2,438.5L150.5,435.8L151.0,432.2M179.2,426.4L176.2,429.7L173.1,433.0M181.4,450.2L176.0,445.7L172.4,439.7M158.6,453.7L159.9,449.0L159.5,445.3M158.5,418.6L158.0,421.1L158.4,425.4M141.8,444.6L146.4,441.8L151.2,438.5M140.2,425.9L146.3,429.0L151.0,432.2M214.4,357.5L213.7,358.4L214.5,360.8M153.6,375.9L154.1,371.8L154.7,366.9M162.1,390.3L162.5,387.3L162.5,382.8M166.3,397.2L173.9,393.2L182.2,389.5M182.2,389.5L181.2,384.2L180.1,379.9M180.1,379.9L177.1,378.4L173.4,375.1M9.3,341.7L3.0,340.1L-3.7,337.0M-3.7,337.0L-2.5,330.5L-3.2,323.9M13.6,313.9L14.2,318.8L13.6,325.6M-3.2,323.9L5.7,325.6L13.6,325.6M34.7,317.3L34.2,319.3L34.2,322.4M13.6,325.6L14.7,328.4L16.5,330.3M34.2,322.4L25.6,327.2L16.5,330.3M71.0,395.6L67.4,390.7L62.4,385.5M84.2,380.3L83.5,384.3L83.9,387.5M84.2,380.3L77.9,377.1L69.7,372.0M62.4,385.5L61.8,383.7L62.5,380.9M50.0,401.8L50.0,397.1L49.1,393.8M18.9,389.1L26.3,392.5L33.2,394.5M49.1,393.8L44.6,390.5L41.9,388.7M9.1,347.7L16.5,353.5L24.5,358.1M33.0,344.9L23.9,338.2L16.4,332.4M33.3,346.9L29.0,353.4L24.5,358.1M191.3,263.6L190.3,262.8L191.2,263.4M162.4,242.7L166.9,248.5L171.1,252.9M171.1,252.9L172.0,255.1L171.2,256.6M56.5,348.0L52.8,351.0L49.5,354.8M49.5,354.8L49.3,357.1L49.0,361.3M67.1,353.3L67.8,361.5L69.7,369.2M69.7,369.2L69.9,368.9L69.6,369.4M84.0,333.2L79.5,336.9L75.7,338.8M84.0,333.2L89.6,338.4L96.4,344.7M96.4,344.7L89.6,349.3L83.8,354.0M56.9,342.8L50.0,338.0L41.2,333.0M53.3,323.3L47.3,326.9L40.9,329.7M33.3,346.9L41.3,350.1L49.5,354.8M52.1,312.9L52.3,317.8L53.3,323.3M71.4,319.2L71.1,316.4L71.7,311.5M71.7,311.5L70.7,309.4L70.4,308.7M71.4,319.2L78.3,324.1L84.1,330.1M84.1,330.1L84.7,330.8L84.0,333.2M107.1,328.6L107.7,319.1L109.4,310.5M107.1,328.6L100.1,324.3L92.3,321.4M109.4,310.5L101.6,311.0L92.4,312.8M92.3,321.4L93.0,317.4L91.8,313.8M113.4,306.1L110.7,307.6L109.4,310.5M84.1,330.1L88.8,325.7L92.3,321.4M91.6,301.5L91.0,306.9L92.4,312.8M81.7,190.4L76.0,186.3L68.6,183.1M68.6,183.1L63.0,186.5L58.2,190.1M58.2,190.1L58.9,191.1L58.2,191.0M67.7,221.0L60.6,221.6L54.6,220.8M53.5,210.4L53.4,214.8L54.6,220.8M54.2,221.3L55.0,220.2L54.6,220.8M43.6,204.1L45.5,205.2L49.2,204.4M49.2,204.4L50.7,207.9L53.5,210.4M49.2,204.4L53.4,197.0L58.2,191.0M82.7,236.3L75.9,234.3L69.9,233.7M69.9,233.7L66.1,237.0L60.7,239.0M61.7,250.4L61.9,249.4L60.1,247.5M53.4,231.3L58.0,234.7L60.7,239.0M67.7,221.0L68.6,228.3L69.9,233.7M224.2,44.2L232.6,47.8L242.1,49.4M205.9,143.6L205.0,142.4L205.9,139.5M205.9,139.5L214.2,133.3L223.3,129.1M226.5,149.1L228.1,147.2L229.2,145.7M217.2,104.0L227.4,109.3L236.9,114.3M236.9,114.3L230.8,121.1L223.2,127.6M236.9,114.3L237.6,115.2L237.5,114.2M176.4,82.7L176.6,87.5L177.4,91.8M159.1,94.1L161.4,96.0L162.9,99.4M177.4,91.8L169.7,96.0L162.9,99.4M191.3,115.6L186.1,110.2L182.4,105.0M180.3,46.7L190.1,44.5L198.6,43.8M224.2,44.2L222.2,47.9L220.2,51.4M199.3,41.8L199.8,42.1L199.1,43.1M201.8,62.9L211.9,58.2L220.2,53.0M162.1,47.3L169.9,46.1L178.2,44.2M162.1,47.3L161.9,41.6L162.4,34.1M162.4,34.1L165.0,33.3L165.8,30.8M165.8,30.8L171.8,35.2L177.4,37.7M161.6,48.0L162.2,48.5L162.1,47.3M147.4,33.8L154.4,34.8L162.4,34.1M166.1,22.2L166.6,26.5L165.8,30.8M174.6,124.8L173.9,126.1L173.6,126.4M174.6,124.8L174.6,117.4L173.3,109.4M173.3,109.4L168.5,107.7L162.9,107.2M157.5,119.3L155.7,116.4L154.9,115.5M155.0,114.3L155.3,114.9L154.9,115.5M182.3,138.5L190.7,132.0L197.4,126.9M182.4,105.0L177.0,106.3L173.3,109.4M161.2,138.3L167.9,132.7L173.8,128.7M156.9,134.8L156.9,127.2L157.5,119.3M162.9,99.4L163.7,102.5L162.9,107.2M139.5,129.7L142.3,133.6L143.2,136.0M133.1,111.9L133.6,116.6L134.3,121.1M139.6,126.3L137.6,122.8L134.3,121.1M182.3,138.5L182.1,141.4L182.2,142.8M169.2,149.8L174.7,145.6L182.2,142.8M203.7,146.9L204.4,145.3L205.9,143.6M182.2,142.8L183.1,145.3L185.5,146.0M95.1,62.3L94.8,63.9L96.0,67.4M112.8,69.0L110.4,70.0L106.7,72.2M96.0,67.4L102.0,69.4L106.7,72.2M106.7,72.2L105.9,78.5L105.0,85.2M51.0,176.4L55.9,171.3L60.8,166.4M68.6,183.1L69.9,178.7L70.0,173.9M104.7,358.3L98.6,363.2L94.0,369.8M93.9,372.9L98.7,377.4L105.4,382.1M105.4,382.1L109.9,379.6L114.4,375.5M114.4,375.5L115.2,372.1L114.5,368.7M105.0,355.0L105.7,356.9L104.7,358.3M84.2,380.3L88.6,377.2L93.9,372.9M69.7,372.0L70.0,370.6L69.6,369.4M93.5,220.4L102.3,223.7L110.4,226.6M84.8,232.9L93.9,233.2L103.8,235.3M103.8,235.3L107.4,231.4L110.4,228.5M92.4,208.4L84.3,209.0L75.0,210.4M101.7,246.7L103.2,240.0L103.8,235.3M117.4,235.5L114.9,231.5L110.4,228.5M111.0,225.5L109.7,225.5L110.4,226.6M111.0,225.5L110.8,219.0L111.7,213.0M111.7,213.0L102.5,211.1L93.1,207.5M86.4,189.3L88.4,184.5L91.5,181.2M91.5,181.2L100.2,185.3L110.3,189.3M110.3,189.3L109.7,191.0L110.9,194.4M110.9,194.4L102.7,198.5L93.9,202.8M86.4,189.3L83.9,189.5L81.7,190.4M93.9,202.8L94.2,205.9L93.1,207.5M137.9,307.9L144.5,312.3L151.1,315.1M151.1,315.1L151.8,318.1L151.2,322.4M155.5,300.4L155.4,306.3L155.0,310.2M151.1,315.1L153.8,312.2L155.0,310.2M173.7,301.9L173.5,305.6L173.9,309.0M187.9,315.6L181.5,313.2L173.9,309.0M155.0,310.2L162.6,312.0L170.6,312.4M173.9,309.0L173.2,310.0L170.6,312.4M197.6,228.0L192.5,234.0L188.2,241.5M188.2,241.5L189.1,242.7L188.1,243.5M221.3,224.7L216.6,220.1L210.8,216.2M229.4,206.6L233.2,210.1L235.7,213.4M212.1,209.8L210.5,211.7L210.7,212.0M229.3,199.6L228.4,202.1L229.4,206.6M190.4,204.0L200.2,208.5L210.7,212.0M198.2,227.9L204.9,221.1L210.8,216.2M226.3,165.4L218.2,169.1L210.9,173.9M203.7,146.9L204.8,151.3L203.9,156.5M246.8,158.4L236.1,159.5L226.3,162.0M211.6,182.8L210.8,179.0L210.9,173.9M190.7,175.0L198.4,173.2L206.9,170.4M62.4,18.3L61.6,26.0L62.8,31.9M62.4,18.3L61.5,18.0L60.4,16.1M43.9,30.6L43.8,29.3L44.2,26.6M70.5,38.8L66.5,34.4L62.8,31.9M59.4,8.1L58.9,12.0L60.4,16.1M40.2,21.3L42.8,24.3L44.2,26.6M32.3,36.0L37.4,33.4L43.9,30.6M228.4,402.0L218.6,403.5L207.9,406.7M208.0,413.0L207.6,409.5L207.4,407.9M188.0,417.5L187.5,409.7L188.5,403.6M172.1,407.6L179.6,405.3L188.1,403.2M182.2,389.5L185.3,392.0L187.8,393.4M188.1,403.2L187.7,404.3L188.5,403.6M19.4,379.1L21.1,374.3L20.8,367.8M19.4,379.1L18.9,379.7L19.5,379.2M20.8,367.8L23.6,364.5L24.7,361.5M62.5,380.9L52.6,377.0L44.6,372.6M49.0,361.3L46.9,365.2L44.3,368.9M24.5,358.1L25.4,359.7L24.7,361.5M0.6,361.4L10.6,364.5L20.8,367.8M238.7,60.8L230.0,59.8L222.9,58.0M220.2,53.0L222.0,55.7L222.9,58.0M214.6,74.1L216.9,71.8L221.1,68.0M229.2,137.1L236.9,134.0L245.3,130.1M169.5,160.1L177.6,159.9L186.5,159.6M169.5,160.1L166.9,164.1L165.8,167.2M167.8,170.2L167.5,167.7L165.8,167.2M169.2,149.8L170.2,154.7L169.5,160.1M164.1,167.1L165.1,166.6L165.8,167.2M190.7,175.0L190.3,172.4L188.8,171.0M36.5,195.7L36.2,190.6L37.5,186.3M105.0,85.2L103.3,86.0L101.9,88.1M101.9,88.1L94.5,84.3L88.7,79.9M80.3,91.5L79.5,89.5L80.3,87.1M80.3,91.5L82.1,95.3L85.2,97.6M101.4,95.6L93.7,97.2L85.2,97.6M80.3,87.1L83.6,84.0L88.7,79.9M88.8,76.4L88.1,79.1L88.7,79.9M49.7,42.7L49.3,39.9L48.9,36.5M80.3,87.1L75.5,83.4L70.8,81.4M88.8,76.4L82.3,71.8L74.0,65.2M69.9,71.4L72.4,67.3L74.0,65.2M91.3,177.3L97.3,173.2L101.5,168.2M70.0,173.9L75.6,171.9L81.6,169.1M-10.2,67.2L-5.2,69.5L-1.5,73.8M-1.5,73.8L-0.5,76.8L-1.3,81.2M-1.5,73.8L3.4,71.9L10.0,68.4M113.2,210.9L113.5,203.5L112.9,196.6M112.9,196.6L121.1,197.9L130.9,197.9M130.9,210.8L130.9,204.0L130.9,197.9M111.7,213.0L112.7,211.1L113.2,210.9M110.9,194.4L111.1,196.2L112.9,196.6M133.9,215.5L132.4,212.3L130.9,210.8M133.5,194.8L132.9,197.0L130.9,197.9M173.0,368.2L169.0,362.5L164.8,358.5M183.1,346.6L173.6,351.5L164.8,358.3M183.1,346.6L187.1,351.2L191.1,355.4M164.8,358.5L165.3,358.7L164.8,358.3M190.6,360.4L191.1,358.6L191.1,355.4M154.7,366.9L159.0,363.1L164.8,358.5M173.4,375.1L173.3,372.4L173.0,368.2M193.3,332.2L188.0,338.6L183.1,346.3M183.1,346.3L183.3,345.6L183.1,346.6M214.5,360.8L213.8,362.9L213.0,363.1M174.5,337.9L175.4,333.1L174.5,328.4M174.5,328.4L171.7,325.3L168.6,324.1M157.5,327.3L158.3,334.1L157.8,340.6M157.8,340.6L158.5,340.7L159.1,342.6M183.1,346.3L178.5,341.7L174.5,337.9M187.9,323.7L181.7,325.2L174.5,328.4M170.6,312.4L169.6,317.3L168.6,324.1M151.2,322.4L154.4,325.6L157.5,327.3M137.0,339.0L147.0,340.1L157.8,340.6M226.6,275.1L226.7,269.4L226.2,263.0M232.3,250.1L231.9,254.5L231.1,258.7M222.5,389.1L216.2,390.8L208.2,394.3M208.2,394.3L205.7,391.3L201.5,386.6M201.8,381.6L200.7,383.6L201.5,386.6M213.0,363.1L213.0,369.4L211.4,375.7M231.3,371.0L227.4,374.8L222.1,380.4M104.1,103.9L110.5,108.7L115.7,111.8M97.4,111.0L97.7,116.0L97.3,122.6M97.3,122.6L106.7,123.5L115.4,123.7M115.7,111.8L115.1,118.3L115.4,123.7M85.2,97.6L84.6,102.2L83.7,108.0M134.3,121.1L125.0,122.2L115.9,124.5M80.3,91.5L72.0,96.9L64.2,101.9M83.7,108.0L83.5,109.6L81.6,109.8M139.5,129.7L132.1,134.1L123.7,136.7M116.2,128.6L120.3,131.8L123.7,136.7M127.3,148.0L125.4,146.9L124.2,144.9M97.3,122.6L94.8,125.2L93.0,127.1M64.3,104.0L63.2,106.1L61.5,109.2M66.2,51.9L59.1,56.9L51.2,63.4M51.2,63.4L50.8,66.0L50.6,69.7M49.7,42.7L44.6,46.7L41.0,52.6M31.2,44.4L35.1,49.0L38.8,52.7M41.0,52.6L39.1,52.4L38.8,52.7M20.3,55.9L24.8,59.9L29.8,62.8M120.4,162.5L115.0,158.5L109.1,155.1M109.1,155.1L109.4,152.6L108.8,149.0M67.7,136.8L67.5,139.2L67.9,142.6M50.3,134.1L48.1,142.7L47.3,151.0M62.5,118.5L52.8,122.3L45.0,127.0M69.5,133.6L69.8,130.1L69.2,125.5M67.9,142.6L66.6,149.2L66.5,156.8M81.6,161.0L85.0,156.3L87.0,152.1M87.0,151.7L87.2,151.5L87.0,152.1M60.8,166.4L61.1,164.2L60.3,163.0M81.6,169.1L81.8,165.2L81.6,161.0M15.1,72.5L14.5,78.6L14.6,85.9M15.1,72.5L22.9,71.9L30.0,69.8M14.6,85.9L23.7,85.7L32.2,84.2M32.2,84.2L32.8,78.1L31.6,71.7M30.0,69.8L30.4,70.6L31.6,71.7M-1.3,81.2L5.4,85.4L11.2,89.9M10.0,68.4L13.0,70.9L15.1,72.5M11.2,89.9L13.8,88.8L14.6,85.9M50.6,69.7L41.1,71.3L31.6,71.7M33.6,182.5L26.5,182.8L19.9,184.7M33.6,182.5L34.1,176.2L34.2,168.0M17.0,172.4L17.9,176.4L17.1,181.8M17.1,181.8L18.9,182.7L19.9,184.7M210.1,249.5L210.4,243.7L209.2,238.5M210.1,249.5L211.1,249.8L210.2,249.6M221.6,229.5L225.6,234.3L228.6,237.6M228.6,237.6L228.6,240.3L227.9,244.6M192.8,248.5L202.4,248.6L210.1,249.5M232.3,250.1L230.2,246.6L227.9,244.6M221.3,224.7L220.7,227.8L221.6,229.5M3.0,209.7L11.8,208.9L21.6,206.7M36.5,195.7L28.6,198.4L22.5,199.5M21.6,206.7L22.6,204.0L22.5,199.5M1.1,203.2L3.6,199.8L4.8,196.7M17.1,181.8L9.9,183.9L3.0,185.1M19.8,195.6L12.6,196.7L4.8,196.7M-3.4,175.0L-4.2,172.9L-6.9,170.1M17.0,172.4L15.3,169.7L12.4,166.5M-3.4,175.0L4.9,170.8L12.4,166.5M62.7,86.5L58.1,82.2L52.1,79.1M61.6,97.8L50.5,95.5L40.0,92.7M52.1,72.1L52.0,76.4L52.1,79.1M61.5,109.2L51.9,110.1L41.6,109.4M45.0,127.0L44.0,126.0L43.7,126.5M46.6,154.2L46.3,152.8L46.6,151.9M46.6,154.2L42.6,160.1L36.9,164.7M46.6,151.9L40.1,146.5L32.7,141.5M36.3,164.8L28.6,159.2L22.1,153.2M22.1,153.2L27.3,147.3L32.7,141.5M60.3,163.0L53.0,159.3L46.6,154.2M47.3,151.0L46.9,152.4L46.6,151.9M51.0,176.4L43.0,171.4L36.9,164.7M106.1,139.1L105.2,142.7L105.9,145.9M106.1,139.1L100.4,134.4L92.8,128.6M105.9,145.9L97.3,148.1L89.2,148.6M88.3,134.7L90.7,132.6L92.8,128.6M108.8,149.0L107.4,147.2L105.9,145.9M87.0,151.7L88.3,149.3L89.2,148.6M22.2,122.3L21.1,126.4L20.8,131.4M19.9,153.3L15.5,158.4L12.4,164.6M-0.1,150.4L-1.4,153.2L-1.0,155.9M22.1,153.2L21.8,153.3L19.9,153.3M12.4,137.3L16.8,134.7L20.8,131.4M12.4,166.5L12.1,165.4L12.4,164.6M-7.2,161.3L-4.5,158.3L-1.0,155.9M41.4,109.0L30.8,108.6L21.2,109.8M41.4,109.0L40.6,100.7L39.8,92.8M37.8,91.9L31.1,95.8L22.6,100.2M41.6,109.4L42.4,109.4L41.4,109.0M20.8,110.4L21.3,109.4L21.2,109.8M20.8,110.4L20.5,117.2L22.2,122.3M40.0,92.7L40.6,92.8L39.8,92.8M32.2,84.2L36.0,87.8L37.8,91.9M12.4,137.3L6.3,132.8L-1.2,129.0M2.1,121.0L-0.5,122.8L-1.5,126.1M2.1,121.0L2.8,115.0L4.0,108.2M22.2,122.3L11.6,121.9L2.1,121.0M-1.2,129.0L-0.9,128.2L-1.5,126.1M11.2,90.2L6.7,96.6L1.2,103.5" fill="none" stroke="#5b3414" stroke-width="1.2" stroke-linejoin="round"/>
    <path d="M33.6,230.4 30.4,231.4 31.2,228.1ZM11.7,239.4 13.7,235.7 15.9,239.3ZM11.9,232.3 12.0,236.0 8.7,234.2ZM-6.4,224.6 -4.3,221.8 -2.9,225.0ZM226.1,342.1 221.6,342.2 223.8,338.2ZM19.2,-4.1 16.6,-1.6 15.7,-5.0ZM136.3,368.7 133.8,370.3 133.6,367.4ZM145.6,361.2 143.2,364.3 141.7,360.6ZM46.3,274.8 47.9,270.9 50.4,274.2ZM6.9,271.2 10.3,272.5 7.5,274.8ZM30.9,275.2 26.7,273.7 30.0,270.8ZM26.1,277.2 27.7,275.1 28.6,277.6ZM214.4,337.2 210.6,340.1 209.9,335.4ZM88.2,59.9 86.1,56.8 89.8,56.5ZM-1.5,24.6 1.5,22.5 1.8,26.1ZM-4.3,14.7 -5.4,17.8 -7.5,15.3ZM-0.6,8.0 -4.5,9.6 -4.0,5.5ZM23.3,11.4 21.8,14.0 20.3,11.3ZM-6.9,37.5 -7.0,34.1 -4.0,35.7ZM-1.3,27.5 1.1,25.4 1.7,28.5ZM36.5,5.3 36.6,0.9 40.3,3.2ZM85.8,-4.2 84.5,-0.9 82.3,-3.7ZM18.6,446.6 21.8,449.4 17.8,450.7ZM-3.0,429.7 -6.4,427.3 -2.7,425.6ZM-1.3,417.8 -4.5,421.4 -5.9,416.8ZM2.1,413.2 -0.5,411.4 2.3,410.0ZM142.4,457.1 144.9,458.1 142.8,459.8ZM143.8,382.0 141.0,379.5 144.6,378.4ZM29.3,278.3 27.1,280.1 26.6,277.4ZM11.2,264.4 7.9,265.0 9.0,261.8ZM-0.6,251.5 -0.1,255.5 -3.8,254.0ZM29.4,264.0 30.9,267.6 27.0,267.1ZM135.4,242.6 136.8,240.4 138.0,242.6ZM149.2,256.5 148.1,261.0 144.8,257.7ZM76.2,286.9 80.6,287.2 78.1,290.8ZM56.6,293.4 54.6,290.1 58.4,290.0ZM63.9,282.8 63.3,286.4 60.5,284.1ZM116.6,303.5 115.9,300.9 118.5,301.6ZM116.2,290.6 115.6,286.2 119.7,287.9ZM128.2,266.6 128.8,262.2 132.3,264.9ZM100.7,284.8 97.7,284.2 99.8,281.9ZM34.8,237.8 38.2,235.5 38.5,239.7ZM54.5,268.2 51.5,270.9 50.6,267.0ZM53.1,267.9 50.7,266.3 53.3,265.0ZM64.6,276.0 62.1,279.6 60.2,275.7ZM63.3,258.1 60.4,257.6 62.3,255.3ZM200.2,65.1 202.8,63.0 203.3,66.3ZM218.0,95.7 222.3,94.7 221.0,98.9ZM214.2,107.1 214.9,109.9 212.1,109.2ZM215.1,102.7 219.4,102.9 217.1,106.5ZM84.3,358.3 85.3,362.3 81.4,361.2ZM138.8,237.4 136.7,241.2 134.4,237.5ZM136.6,340.6 135.8,337.8 138.6,338.6ZM207.4,324.0 209.7,322.3 210.0,325.1ZM82.1,4.4 86.2,5.5 83.2,8.5ZM82.6,7.9 85.9,6.2 85.7,9.9ZM97.9,36.3 96.2,32.9 100.0,33.2ZM89.5,40.9 94.2,40.3 92.4,44.7ZM90.3,36.5 94.6,36.3 92.6,40.2ZM2.1,53.0 -1.5,53.4 -0.0,50.1ZM238.7,-0.9 234.6,-3.0 238.6,-5.5ZM231.8,6.8 233.5,4.6 234.5,7.1ZM149.1,34.9 145.6,34.7 147.5,31.8ZM212.3,-4.7 212.9,-7.3 214.9,-5.5ZM212.9,8.0 213.2,4.8 215.7,6.7ZM2.3,53.5 -1.1,52.9 1.1,50.3ZM47.8,41.6 51.6,41.6 49.7,44.8ZM59.9,-4.8 61.8,-2.4 58.8,-2.0ZM32.9,435.4 35.6,434.7 34.8,437.4ZM16.6,418.1 14.3,419.8 13.9,417.0ZM32.8,433.1 35.5,431.4 35.6,434.7ZM-5.0,452.4 -2.3,454.5 -5.5,455.8ZM23.8,455.7 26.4,458.5 22.6,459.3ZM19.4,452.0 17.8,449.0 21.2,449.1ZM2.1,461.5 3.3,464.3 0.3,464.0ZM-4.5,430.8 -1.5,427.5 -0.1,431.7ZM12.4,445.9 13.9,442.6 16.0,445.5ZM9.4,430.0 12.3,430.1 10.8,432.6ZM202.8,453.1 203.2,457.8 198.9,455.8ZM165.4,466.7 168.6,463.2 170.1,467.7ZM183.4,453.1 178.8,451.8 182.2,448.4ZM82.4,387.6 84.5,386.1 84.8,388.7ZM121.0,452.3 124.7,454.8 120.7,456.8ZM119.3,453.0 121.9,451.8 121.6,454.7ZM119.0,449.2 119.7,445.5 122.6,447.9ZM120.0,425.4 123.7,427.8 119.7,429.7ZM129.3,437.3 126.8,438.8 126.8,435.9ZM144.4,401.9 143.4,398.9 146.6,399.5ZM141.2,391.4 141.6,388.2 144.1,390.2ZM146.6,392.3 144.2,395.0 143.2,391.6ZM120.4,419.7 123.2,418.4 122.9,421.4ZM110.4,410.7 112.0,407.2 114.2,410.4ZM133.8,413.2 137.8,412.8 136.2,416.5ZM133.6,408.5 137.3,407.9 136.0,411.4ZM61.0,423.1 58.6,420.4 62.1,419.7ZM79.5,440.8 82.8,443.7 78.6,445.2ZM1.8,358.9 -2.1,356.2 2.2,354.2ZM16.9,294.8 14.1,292.2 17.8,291.0ZM14.3,297.8 16.6,294.6 18.2,298.1ZM154.3,264.3 153.9,266.9 151.9,265.3ZM139.8,297.1 136.8,294.9 140.2,293.4ZM69.3,318.7 72.9,317.6 72.0,321.3ZM84.2,331.7 82.6,329.4 85.4,329.1ZM79.5,297.2 76.5,297.6 77.6,294.7ZM72.2,305.6 69.1,305.4 70.8,302.8ZM68.9,310.9 69.2,306.2 73.1,308.9ZM105.5,261.8 106.9,258.0 109.6,261.1ZM127.8,254.4 124.7,254.8 125.9,252.0ZM127.8,258.4 124.6,258.8 125.9,255.8ZM131.4,267.9 128.1,268.8 129.0,265.5ZM120.3,285.6 118.9,288.5 117.1,285.8ZM85.1,256.0 85.2,252.3 88.4,254.2ZM72.4,265.5 74.2,261.6 76.6,265.1ZM79.5,272.3 78.8,276.1 75.9,273.7ZM97.3,281.1 100.7,279.3 100.6,283.2ZM106.5,264.9 103.8,261.6 108.0,261.0ZM89.2,272.7 90.7,268.6 93.4,271.9ZM55.8,231.2 52.3,233.4 52.1,229.3ZM195.9,57.9 200.1,57.1 198.7,61.1ZM180.9,69.8 178.8,72.8 177.2,69.4ZM177.2,72.1 178.5,74.4 175.9,74.4ZM142.0,164.6 138.9,165.6 139.5,162.4ZM30.5,218.2 26.2,219.4 27.3,215.1ZM8.8,225.5 9.7,220.9 13.2,224.0ZM207.8,316.7 207.7,313.1 210.9,314.8ZM125.9,314.1 130.3,315.9 126.6,318.8ZM126.9,321.7 127.3,318.5 129.9,320.4ZM138.0,331.5 134.8,328.9 138.6,327.4ZM115.5,337.3 119.3,336.0 118.5,339.9ZM113.8,333.2 111.1,331.5 114.0,330.0ZM196.7,301.4 193.3,302.2 194.3,298.8ZM195.6,307.0 196.2,309.8 193.4,308.9ZM202.9,343.6 205.0,341.8 205.5,344.5ZM161.3,245.1 161.0,240.5 165.1,242.6ZM187.2,204.1 190.7,202.6 190.2,206.5ZM225.3,273.7 228.3,276.7 224.3,277.8ZM209.0,294.4 206.1,295.7 206.4,292.6ZM209.1,285.0 208.9,288.2 206.2,286.4ZM219.0,185.6 216.6,188.2 215.5,184.7ZM227.9,197.4 231.9,199.5 228.0,202.0ZM237.1,191.9 234.1,188.8 238.2,187.7ZM180.7,139.0 182.6,136.9 183.4,139.6ZM198.8,129.0 194.9,127.2 198.4,124.7ZM202.2,148.3 203.2,144.9 205.6,147.5ZM181.2,186.5 178.5,188.0 178.6,185.0ZM169.2,179.0 171.0,182.4 167.1,182.3ZM198.6,190.4 198.3,186.7 201.7,188.3ZM213.1,183.6 210.1,183.7 211.5,181.1ZM115.9,25.2 112.8,25.6 114.0,22.7ZM105.2,15.2 108.9,16.7 105.8,19.1ZM82.6,20.0 82.5,24.4 78.7,22.1ZM206.4,23.7 210.6,23.3 208.9,27.1ZM215.1,18.2 212.8,19.8 212.6,17.1ZM139.3,44.7 143.3,47.4 138.9,49.5ZM144.8,39.7 143.4,42.4 141.7,39.8ZM118.2,39.8 117.2,42.9 115.0,40.6ZM139.4,62.9 137.3,65.6 136.1,62.5ZM157.0,57.6 161.4,58.5 158.4,61.8ZM191.2,8.0 191.6,5.4 193.6,7.1ZM158.4,-0.6 159.5,-5.0 162.7,-1.8ZM19.7,58.6 18.2,54.1 22.9,55.1ZM227.0,422.3 229.5,424.4 226.4,425.5ZM225.9,417.5 229.8,419.5 226.1,421.9ZM225.3,393.2 229.2,391.1 229.0,395.6ZM227.0,400.7 230.2,401.3 228.1,403.8ZM216.0,452.0 217.9,454.2 215.1,454.7ZM203.4,463.2 206.9,466.1 202.7,467.7ZM226.4,459.7 222.7,462.0 222.5,457.6ZM205.4,423.1 202.4,423.9 203.2,420.9ZM199.3,444.1 200.0,440.8 202.6,443.0ZM41.2,445.8 38.7,442.7 42.7,442.1ZM41.1,461.5 43.4,457.7 45.5,461.7ZM40.1,459.2 37.9,455.6 42.1,455.5ZM61.4,455.9 57.2,456.1 59.1,452.4ZM43.5,414.5 45.5,417.9 41.6,417.9ZM37.8,424.4 34.8,423.7 36.9,421.5ZM22.8,411.9 23.9,409.3 25.6,411.5ZM179.2,449.4 183.2,448.6 181.9,452.5ZM195.4,440.1 193.8,437.8 196.6,437.5ZM170.4,406.8 173.7,406.6 172.2,409.5ZM171.1,409.4 174.1,413.1 169.4,413.9ZM156.5,406.5 152.1,408.2 152.8,403.6ZM215.3,356.1 215.1,358.9 212.8,357.4ZM234.5,352.2 237.3,355.1 233.3,356.1ZM9.5,350.0 6.9,346.9 10.9,346.1ZM36.1,315.6 35.3,319.3 32.6,316.8ZM47.9,308.3 43.6,309.5 44.7,305.2ZM153.2,412.4 155.9,414.6 152.7,415.8ZM157.5,416.9 160.4,418.6 157.5,420.2ZM140.3,418.5 137.4,418.0 139.3,415.8ZM140.3,424.2 141.6,426.8 138.8,426.6ZM113.5,392.0 112.8,395.1 110.5,393.0ZM103.5,388.4 104.5,383.7 108.0,387.0ZM111.2,406.5 113.7,407.2 111.9,409.0ZM112.7,406.0 113.5,409.5 110.1,408.4ZM59.0,445.9 63.2,447.2 60.0,450.2ZM77.7,433.4 79.8,430.9 80.9,434.0ZM57.9,432.1 59.4,429.3 61.1,432.0ZM104.3,429.5 102.6,432.0 101.3,429.3ZM99.1,432.0 103.1,430.0 102.9,434.5ZM62.3,409.2 60.1,406.6 63.5,406.0ZM62.1,420.8 60.3,417.2 64.2,417.4ZM72.2,401.6 68.6,400.1 71.7,397.7ZM83.1,419.7 79.5,418.1 82.6,415.8ZM99.4,453.5 97.9,456.1 96.3,453.5ZM106.3,460.3 103.9,464.5 101.5,460.3ZM83.5,461.6 79.6,459.2 83.6,457.1ZM80.3,466.2 78.5,463.2 82.0,463.2ZM-2.3,369.9 -4.1,373.0 -5.9,369.9ZM2.6,361.7 -0.6,363.0 -0.1,359.6ZM-3.8,389.5 -2.1,386.0 0.1,389.2ZM-0.6,409.6 0.7,406.3 3.0,409.1ZM-4.9,298.2 -1.1,298.8 -3.5,301.8ZM200.6,280.0 203.4,276.2 205.3,280.5ZM200.1,277.3 202.4,278.7 200.0,280.0ZM189.8,264.2 191.6,262.1 192.5,264.7ZM193.2,269.6 188.8,269.4 191.2,265.7ZM178.7,276.5 177.3,279.3 175.6,276.6ZM169.2,257.9 171.2,255.5 172.3,258.5ZM156.8,273.4 156.0,276.7 153.6,274.4ZM136.3,273.4 138.3,276.6 134.6,276.8ZM139.6,288.9 136.9,289.9 137.4,287.1ZM99.4,297.7 96.3,295.8 99.5,294.1ZM90.9,304.0 89.7,299.6 94.2,300.8ZM119.4,244.2 118.2,247.7 115.8,244.9ZM117.7,167.1 121.3,166.0 120.4,169.7ZM122.5,161.7 120.1,164.7 118.7,161.2ZM32.5,220.3 31.2,222.6 29.8,220.3ZM32.3,220.0 27.5,220.0 29.9,215.8ZM226.7,21.8 231.4,20.9 229.8,25.4ZM206.3,29.6 210.4,28.9 209.0,32.7ZM206.7,145.0 204.2,143.6 206.7,142.1ZM177.2,80.7 177.7,84.4 174.3,83.0ZM176.8,59.9 181.2,59.5 179.3,63.5ZM124.2,79.5 127.7,81.8 124.0,83.7ZM120.9,85.3 123.6,83.5 123.8,86.8ZM143.4,86.5 140.8,87.8 141.0,84.9ZM125.9,107.0 121.8,109.5 121.6,104.8ZM141.4,105.4 142.5,101.2 145.6,104.2ZM139.3,124.2 141.5,127.1 137.9,127.5ZM158.5,138.8 162.0,135.7 163.0,140.3ZM157.8,132.9 158.1,136.5 154.8,134.9ZM172.9,126.2 176.5,129.2 172.1,130.8ZM164.0,145.2 161.3,146.5 161.5,143.6ZM147.9,154.4 146.8,152.1 149.4,152.3ZM161.9,168.7 163.9,164.4 166.6,168.3ZM127.8,150.2 125.2,147.3 129.0,146.5ZM143.8,142.6 142.7,146.7 139.6,143.7ZM141.3,131.5 137.2,130.4 140.2,127.3ZM145.2,137.9 140.6,136.8 143.8,133.4ZM53.5,177.5 48.8,177.9 50.8,173.7ZM48.0,203.0 50.9,204.0 48.6,206.1ZM53.3,182.8 49.9,185.3 49.5,181.0ZM112.4,64.3 113.7,62.0 115.0,64.3ZM135.9,64.4 133.2,66.8 132.5,63.3ZM125.9,76.3 125.8,79.5 123.1,77.8ZM107.0,354.7 104.3,356.9 103.7,353.4ZM126.6,359.5 129.0,362.1 125.5,362.9ZM124.8,355.6 125.3,352.0 128.2,354.2ZM131.8,194.3 134.8,193.5 134.0,196.5ZM128.5,178.2 129.8,181.0 126.8,180.7ZM135.7,187.2 133.1,188.3 133.4,185.5ZM94.5,208.5 91.2,210.2 91.4,206.5ZM109.1,227.5 110.2,222.9 113.6,226.1ZM131.4,214.9 135.6,213.6 134.6,217.9ZM134.5,219.0 132.3,217.1 135.0,216.1ZM168.9,212.1 169.8,208.1 172.9,210.9ZM150.4,200.0 148.0,201.8 147.6,198.8ZM147.3,208.3 149.5,204.4 151.8,208.3ZM161.0,190.0 158.2,192.9 157.1,189.0ZM158.3,188.6 158.3,192.6 154.9,190.6ZM169.0,199.4 167.1,203.0 164.9,199.5ZM165.1,204.5 169.7,205.7 166.4,209.1ZM175.5,300.1 174.3,304.3 171.3,301.2ZM188.6,285.8 190.0,290.2 185.5,289.2ZM186.4,295.8 189.4,292.8 190.6,296.9ZM166.6,290.0 165.7,294.6 162.2,291.5ZM191.1,329.2 195.3,328.6 193.7,332.5ZM192.6,334.0 192.1,330.7 195.3,331.9ZM162.6,238.6 164.5,242.6 160.1,242.3ZM155.6,227.1 156.4,229.6 153.8,229.0ZM153.7,227.7 156.1,226.2 156.2,229.0ZM176.0,230.7 178.5,231.9 176.2,233.5ZM196.8,191.8 200.2,189.3 200.6,193.5ZM192.0,203.1 190.4,205.9 188.7,203.1ZM228.0,276.4 224.6,275.6 227.0,273.1ZM231.7,311.9 226.9,312.6 228.7,308.2ZM227.7,311.5 229.5,307.5 232.0,311.0ZM212.4,314.7 208.1,314.7 210.3,310.9ZM228.9,184.0 228.9,180.8 231.6,182.4ZM235.4,190.2 235.7,187.0 238.3,188.8ZM227.4,147.8 227.0,150.5 224.9,148.9ZM226.8,145.4 230.7,143.7 230.2,147.9ZM123.7,2.1 127.2,5.1 122.8,6.5ZM129.8,23.2 131.9,19.2 134.4,23.0ZM140.7,7.6 143.0,4.8 144.3,8.1ZM145.5,15.1 146.9,11.2 149.5,14.4ZM124.6,-0.4 121.0,-1.9 124.1,-4.2ZM123.6,1.7 125.8,4.6 122.3,5.1ZM102.8,8.9 102.5,6.3 104.9,7.4ZM41.2,8.9 42.3,5.9 44.4,8.3ZM38.8,23.6 38.9,19.0 42.9,21.4ZM159.1,72.2 157.9,68.8 161.4,69.4ZM157.2,69.8 158.8,67.6 159.9,70.1ZM146.9,80.4 145.7,84.5 142.8,81.4ZM147.9,72.1 144.8,75.6 143.3,71.2ZM193.8,6.2 191.7,9.9 189.5,6.3ZM172.9,16.8 170.9,20.0 169.1,16.6ZM172.7,8.7 173.2,11.5 170.5,10.6ZM173.3,8.5 175.5,6.2 176.4,9.2ZM30.8,34.2 34.6,35.6 31.5,38.2ZM23.3,27.6 26.3,31.2 21.7,31.9ZM14.0,38.1 14.6,40.7 12.1,40.0ZM232.3,410.5 234.7,411.9 232.3,413.3ZM180.6,390.1 182.5,387.8 183.5,390.6ZM181.2,377.6 181.6,381.9 177.6,380.1ZM201.5,421.2 204.5,419.0 204.9,422.7ZM209.5,413.3 207.0,414.2 207.5,411.6ZM187.1,418.8 187.2,416.0 189.6,417.5ZM230.5,453.5 232.7,456.1 229.4,456.7ZM231.7,444.8 233.7,442.5 234.7,445.4ZM35.4,403.8 32.2,404.6 33.1,401.4ZM174.6,434.2 171.4,433.6 173.5,431.1ZM157.9,423.5 160.2,426.0 156.9,426.8ZM153.6,438.9 149.6,440.3 150.4,436.1ZM163.5,381.7 163.0,384.2 161.0,382.5ZM172.6,376.5 172.6,373.7 175.1,375.1ZM7.4,341.6 10.3,340.2 10.1,343.4ZM60.3,384.7 64.1,384.1 62.7,387.6ZM64.4,381.2 61.3,382.4 61.8,379.2ZM17.7,387.0 21.3,389.1 17.7,391.1ZM35.0,393.8 32.9,396.5 31.6,393.3ZM35.5,347.7 31.5,348.4 32.9,344.6ZM191.0,261.6 192.8,264.2 189.7,264.5ZM170.6,254.3 170.0,251.8 172.5,252.6ZM172.9,256.0 170.9,258.4 169.7,255.5ZM57.3,349.8 54.6,347.7 57.7,346.5ZM64.9,353.8 67.8,351.2 68.6,355.0ZM69.8,372.0 67.2,368.2 71.8,367.9ZM81.7,331.6 86.5,332.0 83.8,335.9ZM74.6,340.3 74.9,337.2 77.4,338.9ZM95.3,343.2 98.2,344.5 95.6,346.4ZM83.9,356.3 81.7,352.9 85.8,352.7ZM55.9,345.2 55.3,340.9 59.4,342.4ZM51.2,323.1 54.4,321.5 54.2,325.2ZM105.2,329.9 107.0,326.2 109.3,329.6ZM110.0,308.9 110.5,311.8 107.7,310.8ZM110.9,186.9 112.3,183.8 114.2,186.6ZM71.4,204.9 71.7,202.3 73.8,203.8ZM58.0,188.5 59.7,190.8 56.8,191.2ZM58.8,189.1 59.4,192.5 56.2,191.3ZM73.9,213.8 75.7,216.2 72.8,216.6ZM77.2,208.7 75.4,213.1 72.5,209.3ZM73.2,208.9 70.1,205.8 74.4,204.6ZM85.6,243.4 84.0,247.2 81.5,244.0ZM83.1,238.6 80.5,235.4 84.6,234.7ZM70.1,235.7 68.1,233.0 71.4,232.5ZM61.6,252.3 60.1,249.4 63.4,249.5ZM221.8,43.8 225.7,42.4 225.0,46.5ZM220.7,51.5 221.2,54.2 218.6,53.3ZM219.6,49.5 222.0,51.8 218.9,52.8ZM230.4,136.1 229.5,138.6 227.8,136.6ZM236.6,112.9 239.1,114.1 236.8,115.7ZM223.8,129.8 220.8,127.0 224.8,125.8ZM222.7,131.3 221.7,127.6 225.4,128.6ZM175.7,93.8 176.6,89.4 180.0,92.3ZM184.5,106.4 180.1,106.1 182.6,102.4ZM182.1,101.4 182.2,97.7 185.3,99.6ZM178.8,47.5 180.3,45.1 181.7,47.6ZM187.2,29.4 184.0,27.1 187.6,25.5ZM200.6,40.7 199.6,43.4 197.7,41.2ZM196.7,43.1 200.1,42.5 198.9,45.8ZM200.3,42.1 199.4,44.6 197.7,42.5ZM163.0,45.2 163.5,49.2 159.7,47.6ZM160.8,34.0 163.4,32.8 163.0,35.6ZM176.3,38.8 177.0,36.2 178.9,38.1ZM179.9,44.2 177.3,45.6 177.4,42.7ZM173.2,122.4 177.4,124.8 173.2,127.2ZM174.7,128.9 170.9,126.1 175.2,124.2ZM175.9,109.8 171.6,111.5 172.3,106.9ZM164.4,105.7 163.4,109.2 160.9,106.6ZM155.3,116.1 153.3,113.6 156.5,113.2ZM155.3,117.9 152.7,114.6 156.9,114.0ZM168.6,148.1 171.0,150.1 168.0,151.2ZM183.7,140.8 183.2,145.1 179.7,142.5ZM186.0,144.4 186.6,147.3 183.8,146.3ZM107.4,70.4 108.0,73.7 104.8,72.6ZM107.0,83.9 105.1,87.5 102.9,84.1ZM70.3,172.3 71.2,174.9 68.4,174.4ZM60.9,168.8 58.7,165.4 62.8,165.1ZM102.7,358.6 105.5,356.4 106.0,359.9ZM93.0,374.3 93.1,371.4 95.5,373.0ZM91.5,369.1 95.8,367.9 94.7,372.3ZM103.5,382.1 106.4,380.6 106.2,383.8ZM113.4,377.5 113.2,373.7 116.5,375.4ZM95.3,220.6 92.4,221.7 92.8,218.7ZM84.5,230.2 84.3,226.9 87.3,228.4ZM109.4,226.7 112.5,228.5 109.3,230.3ZM110.0,224.3 112.5,227.4 108.6,228.1ZM111.3,191.8 112.9,196.0 108.5,195.3ZM152.1,316.9 149.0,315.0 152.2,313.3ZM155.7,308.1 156.6,311.9 152.8,310.7ZM148.8,323.7 151.2,319.6 153.6,323.7ZM190.1,316.8 185.8,316.8 187.9,313.1ZM175.5,310.2 172.1,309.8 174.2,307.0ZM183.3,344.4 184.6,347.5 181.3,347.1ZM189.3,239.2 189.6,243.6 185.6,241.6ZM188.4,240.7 190.3,245.1 185.6,244.6ZM227.7,208.0 229.0,204.4 231.5,207.3ZM237.5,214.9 233.6,214.2 236.1,211.2ZM236.3,215.0 236.4,217.7 234.1,216.5ZM212.6,213.1 208.8,213.1 210.7,209.8ZM204.4,156.8 207.5,158.2 204.7,160.2ZM224.2,158.1 227.1,159.4 224.5,161.3ZM60.2,16.9 64.8,17.0 62.4,20.9ZM62.9,34.0 60.9,31.1 64.5,30.8ZM49.0,38.7 47.0,35.4 50.8,35.3ZM42.7,27.3 44.3,25.0 45.5,27.6ZM192.6,373.4 195.3,371.3 195.8,374.7ZM205.8,405.1 210.4,405.7 207.6,409.4ZM205.0,407.2 209.2,406.2 208.0,410.3ZM187.1,391.2 190.0,393.9 186.2,395.1ZM187.6,404.7 187.1,402.0 189.6,402.9ZM188.3,402.0 190.0,404.2 187.2,404.6ZM44.9,371.1 45.8,373.6 43.2,373.1ZM21.7,365.2 22.6,369.8 18.2,368.3ZM26.5,359.8 25.4,363.9 22.3,360.9ZM240.1,75.5 237.5,78.3 236.3,74.6ZM224.0,59.0 221.4,58.5 223.1,56.6ZM164.2,168.3 165.8,165.3 167.6,168.2ZM190.9,169.8 188.8,173.5 186.6,169.8ZM188.5,161.3 191.3,163.2 188.3,164.7ZM183.9,158.9 188.4,157.8 187.2,162.2ZM101.1,93.5 103.4,96.3 99.8,96.9ZM84.1,105.9 85.4,109.4 81.7,108.7ZM80.0,110.4 81.8,108.2 82.8,110.9ZM115.6,126.1 114.6,123.5 117.4,123.9ZM86.5,75.2 90.9,75.0 88.9,79.0ZM72.7,80.5 70.7,83.5 69.0,80.3ZM54.6,72.0 51.0,74.3 50.8,70.0ZM68.9,52.2 66.0,53.0 66.7,50.1ZM71.4,71.0 69.5,72.9 68.8,70.3ZM75.0,59.4 75.5,63.3 71.9,61.9ZM90.7,178.7 90.3,176.1 92.8,177.1ZM61.4,161.9 60.7,164.6 58.7,162.6ZM-2.2,71.3 1.0,74.4 -3.2,75.7ZM10.2,92.4 9.5,87.8 13.9,89.5ZM131.1,212.7 129.2,210.0 132.4,209.7ZM130.3,195.2 133.5,198.7 128.8,199.8ZM174.9,369.4 171.0,369.3 173.0,366.0ZM165.9,359.7 163.2,358.8 165.4,356.9ZM165.5,355.8 166.7,360.1 162.3,359.0ZM191.5,361.9 188.8,360.4 191.5,358.8ZM192.0,353.4 192.3,357.2 188.9,355.6ZM175.7,339.1 172.8,338.4 174.9,336.2ZM175.2,330.5 172.4,328.0 175.9,326.8ZM169.0,321.5 170.6,325.7 166.2,325.0ZM157.1,330.0 155.4,325.6 160.1,326.3ZM159.0,343.2 155.1,340.3 159.5,338.4ZM161.5,343.8 156.8,344.0 158.9,339.9ZM227.6,261.1 227.1,265.1 223.8,262.7ZM213.0,375.1 211.1,377.4 210.0,374.6ZM222.4,390.9 221.0,388.2 224.0,388.3ZM220.6,380.9 222.4,378.8 223.4,381.5ZM97.7,112.9 95.7,110.3 98.9,109.9ZM113.5,122.9 117.0,122.5 115.6,125.7ZM62.3,100.3 66.6,101.1 63.7,104.5ZM61.1,107.5 63.2,109.7 60.2,110.4ZM126.8,145.1 122.8,147.1 123.0,142.6ZM93.3,125.6 94.1,128.2 91.5,127.6ZM78.9,118.8 81.3,116.9 81.7,119.9ZM67.8,131.4 72.2,133.3 68.4,136.1ZM52.8,63.5 50.2,64.7 50.5,61.9ZM52.1,68.3 51.1,71.8 48.6,69.1ZM43.0,128.6 44.6,124.4 47.5,127.9ZM100.0,164.0 102.5,162.7 102.4,165.6ZM109.7,150.6 106.9,149.0 109.7,147.4ZM68.1,134.3 69.7,138.4 65.3,137.8ZM68.4,144.9 65.6,141.9 69.7,140.9ZM48.4,152.2 45.6,151.3 47.7,149.4ZM68.1,140.9 69.3,143.6 66.4,143.3ZM68.5,158.4 64.2,157.7 66.9,154.3ZM86.4,153.7 85.8,150.7 88.7,151.7ZM13.0,72.6 16.0,70.7 16.1,74.3ZM15.0,182.3 17.7,179.9 18.4,183.4ZM20.9,182.6 21.2,186.7 17.5,184.9ZM223.2,231.8 218.9,229.7 222.8,227.1ZM18.6,197.2 19.0,193.7 21.9,195.8ZM3.1,186.7 1.5,184.4 4.3,184.2ZM2.0,201.9 1.9,204.6 -0.4,203.1ZM3.0,198.6 4.0,194.2 7.3,197.3ZM62.3,84.7 64.5,87.1 61.3,87.8ZM62.8,99.5 59.5,97.9 62.5,95.9ZM51.9,76.5 54.4,80.4 49.9,80.6ZM38.3,93.2 40.5,90.9 41.3,94.0ZM44.3,127.9 42.1,126.3 44.6,125.2ZM40.4,107.0 44.3,109.5 40.1,111.6ZM20.0,108.1 23.1,110.9 19.1,112.2ZM21.4,119.8 24.8,122.8 20.5,124.2ZM44.6,153.1 48.5,153.0 46.6,156.4ZM48.1,152.8 45.0,152.8 46.6,150.1ZM37.6,165.9 34.8,165.4 36.6,163.2ZM32.0,143.4 31.5,140.0 34.7,141.2ZM106.5,141.6 103.8,138.3 108.0,137.6ZM104.3,147.2 105.6,143.9 107.8,146.6ZM89.0,137.1 85.9,134.0 90.1,132.9ZM23.1,124.0 20.3,122.3 23.2,120.7ZM18.4,154.1 19.9,151.6 21.3,154.2ZM2.3,149.3 -0.3,153.0 -2.3,148.8ZM40.6,92.0 36.4,94.2 36.5,89.5ZM38.0,94.1 39.6,90.5 41.9,93.7ZM20.2,111.6 20.2,108.1 23.2,109.8ZM-0.9,124.6 -0.5,127.2 -3.0,126.3ZM-0.7,102.4 3.0,102.4 1.2,105.6Z" fill="#5b3414"/>
  </g>
  <clipPath id="clipL"><rect x="296" y="123" width="122.5" height="451.5"/></clipPath>
  <clipPath id="clipR"><rect x="617.5" y="229.9" width="223.1" height="228"/></clipPath>
</defs>

<!-- background landscape (faint) -->
<rect x="0" y="0" width="1059" height="590" fill="#ffffff"/>
<g id="landscape">
  <defs>
    <linearGradient id="gnd" x1="0" y1="0" x2="0" y2="1">
      <stop offset="0" stop-color="#fcfcf9"/>
      <stop offset="1" stop-color="#f4f1e5"/>
    </linearGradient>
    <linearGradient id="hill" x1="0" y1="0" x2="1" y2="0">
      <stop offset="0" stop-color="#f1f2f1"/>
      <stop offset="1" stop-color="#fafaf8"/>
    </linearGradient>
  </defs>
  <path d="M0,506 C15,502 45,505 75,516 C95,524 130,538 200,546 L200,590 L0,590 Z" fill="url(#hill)"/>
  <path d="M0,532 C40,530 90,540 140,537 C170,535 190,540 200,540 L200,590 L0,590 Z" fill="url(#gnd)"/>
  <rect x="0" y="583" width="1059" height="7" fill="#efede8"/>
  <rect x="1055" y="0" width="4" height="590" fill="#f9f8f6"/>
  <path d="M60,0 h12 v1.8 h-12z" fill="#efefef"/>
  <rect x="900" y="575" width="159" height="15" fill="#f7f5f0"/>
</g>
<!-- white panel -->
<rect x="193" y="0" width="862" height="583" fill="#ffffff"/>

<path d="M927,550 L946,555 L944,560 L930,557 Z" fill="#ececea"/>
<g filter="url(#soft)">
<!-- ============ LEFT DIAGRAM ============ -->
<!-- soil column -->
<g clip-path="url(#clipL)"><use href="#soilTex" x="290" y="118"/></g>

<!-- insulation (yellow) -->
<rect x="328" y="123" width="12.5" height="160.5" fill="#f3f02e"/>
<rect x="374" y="123" width="12.8" height="160.5" fill="#f3f02e"/>
<!-- grout (cyan) -->
<rect x="328" y="283.5" width="12.5" height="235.8" fill="#20eff6"/>
<rect x="374" y="283.5" width="12.8" height="235.8" fill="#20eff6"/>
<path d="M332.3,125.8h1.5v1.5h-1.5zM334.9,130.3h1.5v1.5h-1.5zM333.7,138.7h1.5v1.5h-1.5zM331.7,146.6h1.5v1.5h-1.5zM331.4,152.4h1.5v1.5h-1.5zM334.4,159.5h1.5v1.5h-1.5zM334.9,167.6h1.5v1.5h-1.5zM337.7,173.0h1.5v1.5h-1.5zM335.4,181.4h1.5v1.5h-1.5zM332.7,186.0h1.5v1.5h-1.5zM337.8,194.1h1.5v1.5h-1.5zM332.9,203.1h1.5v1.5h-1.5zM334.9,208.7h1.5v1.5h-1.5zM336.3,214.1h1.5v1.5h-1.5zM335.8,222.3h1.5v1.5h-1.5zM331.2,230.3h1.5v1.5h-1.5zM337.5,235.7h1.5v1.5h-1.5zM335.2,243.1h1.5v1.5h-1.5zM336.1,251.5h1.5v1.5h-1.5zM332.1,258.9h1.5v1.5h-1.5zM335.4,265.4h1.5v1.5h-1.5zM336.7,271.5h1.5v1.5h-1.5zM336.2,280.1h1.5v1.5h-1.5zM383.1,124.5h1.5v1.5h-1.5zM380.2,130.6h1.5v1.5h-1.5zM381.9,138.1h1.5v1.5h-1.5zM383.3,145.0h1.5v1.5h-1.5zM380.9,152.5h1.5v1.5h-1.5zM381.3,158.8h1.5v1.5h-1.5zM377.9,167.7h1.5v1.5h-1.5zM382.4,174.1h1.5v1.5h-1.5zM383.7,179.8h1.5v1.5h-1.5zM383.1,186.7h1.5v1.5h-1.5zM384.0,195.3h1.5v1.5h-1.5zM381.2,203.5h1.5v1.5h-1.5zM382.6,209.8h1.5v1.5h-1.5zM376.9,215.4h1.5v1.5h-1.5zM377.2,221.8h1.5v1.5h-1.5zM378.2,231.1h1.5v1.5h-1.5zM377.5,236.1h1.5v1.5h-1.5zM380.3,245.1h1.5v1.5h-1.5zM384.0,251.6h1.5v1.5h-1.5zM378.2,258.0h1.5v1.5h-1.5zM382.0,263.3h1.5v1.5h-1.5zM381.8,271.4h1.5v1.5h-1.5zM381.1,279.4h1.5v1.5h-1.5z" fill="#5b5a12"/>
<g fill="none" stroke="#6a6818" stroke-width="0.9"><circle cx="334.4" cy="135.6" r="2.0"/><circle cx="332.0" cy="155.0" r="2.2"/><circle cx="331.4" cy="174.8" r="2.0"/><circle cx="334.5" cy="197.8" r="2.2"/><circle cx="333.5" cy="210.2" r="2.2"/><circle cx="334.5" cy="232.1" r="1.9"/><circle cx="336.1" cy="253.9" r="2.1"/><circle cx="333.4" cy="279.1" r="2.1"/><circle cx="379.2" cy="130.2" r="2.3"/><circle cx="380.2" cy="147.6" r="1.9"/><circle cx="380.8" cy="175.9" r="1.9"/><circle cx="380.9" cy="194.2" r="2.2"/><circle cx="383.9" cy="215.1" r="2.1"/><circle cx="382.3" cy="234.8" r="2.3"/><circle cx="382.9" cy="249.3" r="2.0"/><circle cx="380.3" cy="270.1" r="1.9"/></g>
<path d="M338.4,341.7h1.8v1.8h-1.8zM330.9,350.1h1.8v1.8h-1.8zM332.7,337.3h1.8v1.8h-1.8zM334.6,502.8h1.8v1.8h-1.8zM330.7,381.5h1.8v1.8h-1.8zM335.8,490.7h1.8v1.8h-1.8zM339.0,318.4h1.8v1.8h-1.8zM334.6,489.9h1.8v1.8h-1.8zM330.0,421.8h1.8v1.8h-1.8zM331.2,463.5h1.8v1.8h-1.8zM338.4,410.2h1.8v1.8h-1.8zM329.6,299.9h1.8v1.8h-1.8zM333.4,482.0h1.8v1.8h-1.8zM331.7,440.6h1.8v1.8h-1.8zM333.4,346.6h1.8v1.8h-1.8zM336.2,356.7h1.8v1.8h-1.8zM333.0,462.9h1.8v1.8h-1.8zM334.2,467.3h1.8v1.8h-1.8zM334.4,322.2h1.8v1.8h-1.8zM333.7,487.9h1.8v1.8h-1.8zM334.9,509.3h1.8v1.8h-1.8zM329.5,364.1h1.8v1.8h-1.8zM336.8,444.5h1.8v1.8h-1.8zM334.8,439.3h1.8v1.8h-1.8zM337.8,443.9h1.8v1.8h-1.8zM334.7,415.8h1.8v1.8h-1.8zM335.8,360.3h1.8v1.8h-1.8zM335.9,428.0h1.8v1.8h-1.8zM337.0,396.7h1.8v1.8h-1.8zM329.8,409.8h1.8v1.8h-1.8zM337.6,433.8h1.8v1.8h-1.8zM335.6,375.9h1.8v1.8h-1.8zM332.9,452.1h1.8v1.8h-1.8zM330.2,486.4h1.8v1.8h-1.8zM337.8,508.8h1.8v1.8h-1.8zM330.8,311.8h1.8v1.8h-1.8zM338.0,378.3h1.8v1.8h-1.8zM332.1,373.9h1.8v1.8h-1.8zM335.8,322.5h1.8v1.8h-1.8zM334.1,438.5h1.8v1.8h-1.8zM336.3,287.9h1.8v1.8h-1.8zM337.2,385.9h1.8v1.8h-1.8zM333.6,415.7h1.8v1.8h-1.8zM332.2,491.2h1.8v1.8h-1.8zM331.5,411.2h1.8v1.8h-1.8zM331.1,428.2h1.8v1.8h-1.8zM338.1,490.2h1.8v1.8h-1.8zM376.8,430.3h1.8v1.8h-1.8zM384.2,331.6h1.8v1.8h-1.8zM379.6,450.8h1.8v1.8h-1.8zM382.7,389.9h1.8v1.8h-1.8zM381.8,440.5h1.8v1.8h-1.8zM379.0,436.6h1.8v1.8h-1.8zM381.2,447.1h1.8v1.8h-1.8zM380.5,363.2h1.8v1.8h-1.8zM379.8,499.5h1.8v1.8h-1.8zM377.3,319.5h1.8v1.8h-1.8zM375.6,483.1h1.8v1.8h-1.8zM385.2,340.0h1.8v1.8h-1.8zM378.1,331.1h1.8v1.8h-1.8zM381.4,397.8h1.8v1.8h-1.8zM383.5,333.8h1.8v1.8h-1.8zM384.1,392.9h1.8v1.8h-1.8zM383.4,471.5h1.8v1.8h-1.8zM384.4,401.0h1.8v1.8h-1.8zM381.5,415.4h1.8v1.8h-1.8zM377.4,401.6h1.8v1.8h-1.8zM384.6,496.3h1.8v1.8h-1.8zM375.7,439.2h1.8v1.8h-1.8zM378.7,316.6h1.8v1.8h-1.8zM376.9,469.8h1.8v1.8h-1.8zM384.9,406.0h1.8v1.8h-1.8zM379.3,403.5h1.8v1.8h-1.8zM383.6,458.6h1.8v1.8h-1.8zM376.1,334.4h1.8v1.8h-1.8zM384.0,399.6h1.8v1.8h-1.8zM381.9,465.8h1.8v1.8h-1.8zM381.7,455.6h1.8v1.8h-1.8zM380.8,338.3h1.8v1.8h-1.8zM377.3,516.0h1.8v1.8h-1.8zM375.6,445.6h1.8v1.8h-1.8zM384.1,338.8h1.8v1.8h-1.8zM376.0,377.8h1.8v1.8h-1.8zM378.7,392.3h1.8v1.8h-1.8zM379.7,504.0h1.8v1.8h-1.8zM376.7,504.5h1.8v1.8h-1.8zM375.9,503.1h1.8v1.8h-1.8zM378.8,454.0h1.8v1.8h-1.8zM375.5,389.0h1.8v1.8h-1.8zM382.1,431.1h1.8v1.8h-1.8zM383.4,320.7h1.8v1.8h-1.8zM379.4,427.7h1.8v1.8h-1.8zM375.8,479.3h1.8v1.8h-1.8zM379.6,342.2h1.8v1.8h-1.8z" fill="#2196a2"/>
<g stroke="#3a3a20" stroke-width="0.8">
<line x1="328" y1="123" x2="328" y2="519.3"/><line x1="386.8" y1="123" x2="386.8" y2="519.3"/>
<line x1="328" y1="519.3" x2="386.8" y2="519.3"/>
</g>
<!-- outer pipe (blue) -->
<rect x="340.6" y="81" width="33.6" height="438.3" fill="#1f72ea" stroke="#14285c" stroke-width="1.3"/>
<!-- stub -->
<rect x="315" y="95.5" width="25.6" height="15" fill="#1f72ea" stroke="#14285c" stroke-width="1.2"/>
<rect x="339" y="96.2" width="3" height="13.6" fill="#1f72ea"/>
<!-- inner pipe (pink) -->
<rect x="350.4" y="80" width="14" height="425" fill="#f0a58e" stroke="#1a2766" stroke-width="1.9"/>
<!-- elbow -->
<path d="M315,50 H344 A20.5,20.5 0 0 1 364.5,70.5 V81 H350.5 V72 A8,8 0 0 0 342.5,64 H315 Z" fill="#f0a58e" stroke="#3a1a14" stroke-width="1.3"/>
<rect x="350.5" y="80" width="14" height="3" fill="#fff" stroke="#3a1a14" stroke-width="0.8"/>
<!-- center dashes -->
<line x1="357.2" y1="86" x2="357.2" y2="502" stroke="#d26a55" stroke-width="1.6" stroke-dasharray="4.5,4.5"/>
<path d="M320,57 H350 Q357,57 357.2,66 V80" fill="none" stroke="#d8765c" stroke-width="1.3" stroke-dasharray="4,5"/>
<line x1="318" y1="103" x2="372" y2="103" stroke="#123a8a" stroke-width="0.9" stroke-dasharray="4,3"/>

<!-- centerline dashes outside -->
<line x1="357.2" y1="34" x2="357.2" y2="49" stroke="#888" stroke-width="1" stroke-dasharray="5,3"/>
<line x1="364" y1="57" x2="372" y2="57" stroke="#999" stroke-width="1"/>
<line x1="357.2" y1="576" x2="357.2" y2="583" stroke="#777" stroke-width="1"/>
<line x1="357.2" y1="523" x2="357.2" y2="574" stroke="#b08a66" stroke-width="1" stroke-dasharray="4,4"/>

<!-- arrows -->
<line x1="278" y1="57" x2="306" y2="57" stroke="#aaa" stroke-width="1.2"/>
<path d="M290,55.4 L297,55.6 L303,57 L297,58.4 L290,58.6 Z" fill="#222"/>
<line x1="278" y1="103" x2="306" y2="103" stroke="#888" stroke-width="1"/>
<path d="M280,103 L285,101.8 L292,101.9 L292,104.1 L285,104.2 Z" fill="#222"/>

<!-- ground line & dimension lines -->
<line x1="270.5" y1="122.8" x2="455" y2="122.8" stroke="#222" stroke-width="1.6"/>
<line x1="199.6" y1="122.8" x2="258" y2="122.8" stroke="#555" stroke-width="1"/>
<line x1="199.5" y1="283.5" x2="258" y2="283.5" stroke="#555" stroke-width="1"/>
<path d="M272,283.5 H340.6 M374.2,283.5 H418" stroke="#444" stroke-width="1"/>
<line x1="199.4" y1="519.4" x2="418" y2="519.4" stroke="#333" stroke-width="1"/>
<line x1="210.8" y1="123" x2="210.8" y2="519.4" stroke="#777" stroke-width="1.1"/>
<path d="M210.8,123 L209.3,130 L212.3,130 Z" fill="#222"/>
<path d="M210.8,283.5 L209.3,277 L212.3,277 Z M210.8,283.5 L209.3,290 L212.3,290 Z" fill="#222"/>
<path d="M210.8,519.4 L209.3,512.5 L212.3,512.5 Z" fill="#222"/>
<!-- HO -->
<g stroke="#444" stroke-width="1.1" fill="none">
  <ellipse cx="200" cy="196.7" rx="5.6" ry="4.2"/>
  <path d="M194.7,204.6 H205.8 M194.7,212.6 H205.8 M200.2,204.6 V212.6"/>
  <path d="M194.7,400.5 H205.8 M194.7,409.1 H205.8 M200.2,400.5 V409.1"/>
  <path d="M194.7,394 H205.8 M194.7,394 L197.2,397.5"/>
</g>

<!-- break waves -->
<path d="M278,233.5 C297,220.5 317,220.5 356,233.5 C395,246.5 415,246.5 435,233.5 L435,252 C415,265 395,265 356,252 C317,239 297,239 278,252 Z" fill="#fff"/>
<path d="M278,233.5 C297,220.5 317,220.5 356,233.5 C395,246.5 415,246.5 435,233.5 M278,252 C297,239 317,239 356,252 C395,265 415,265 435,252" fill="none" stroke="#444" stroke-width="1.3"/>
<path d="M278,381.5 C297,368.5 317,368.5 356,381.5 C395,394.5 415,394.5 435,381.5 L435,400 C415,413 395,413 356,400 C317,387 297,387 278,400 Z" fill="#fff"/>
<path d="M278,381.5 C297,368.5 317,368.5 356,381.5 C395,394.5 415,394.5 435,381.5 M278,400 C297,387 317,387 356,400 C395,413 415,413 435,400" fill="none" stroke="#444" stroke-width="1.3"/>

<!-- leaders left -->
<g stroke="#1a1a1a" stroke-width="1.5">
  <line x1="356.8" y1="156.2" x2="429.5" y2="156.2"/>
  <line x1="380.6" y1="213.5" x2="435" y2="213.5"/>
  <line x1="367" y1="356.8" x2="430" y2="356.8"/>
  <line x1="378" y1="457.8" x2="430" y2="457.8"/>
  <line x1="400" y1="520" x2="430" y2="520"/>
</g>
<g fill="#1a1a1a">
  <circle cx="357" cy="156.2" r="1.8"/>
  <circle cx="381" cy="213.5" r="1.8"/>
  <circle cx="367.5" cy="356.8" r="1.8"/>
  <circle cx="378.5" cy="457.8" r="1.8"/>
  <circle cx="400.5" cy="520" r="1.8"/>
</g>
<g fill="#161616" stroke="#161616" stroke-width="0.65" font-size="21">
  <text transform="translate(431.3,160.3) scale(0.831,1)">inner pipe</text>
  <text transform="translate(436.7,210.8) scale(0.842,1)">insulation</text>
  <text transform="translate(431.8,360.3) scale(0.826,1)">outer pipe</text>
  <text transform="translate(436.8,463.3) scale(0.842,1)">grout</text>
  <text transform="translate(431.9,524.3) scale(0.830,1)">soil/rock</text>
</g>

<!-- ============ RIGHT DIAGRAM ============ -->
<g clip-path="url(#clipR)"><use href="#soilTex" x="614" y="226"/></g>
<ellipse cx="730.5" cy="343.3" rx="73" ry="75" fill="#20eff6" stroke="#1a6670" stroke-width="1.3"/>
<path d="M741.4,407.3h1.8v1.6h-1.8zM782.3,359.8h1.8v1.6h-1.8zM712.4,396.2h1.8v1.6h-1.8zM723.0,280.1h1.8v1.6h-1.8zM783.4,305.9h1.8v1.6h-1.8zM715.0,398.7h1.8v1.6h-1.8zM769.2,382.2h1.8v1.6h-1.8zM679.2,302.6h1.8v1.6h-1.8zM714.4,399.0h1.8v1.6h-1.8zM753.1,276.1h1.8v1.6h-1.8zM773.5,369.3h1.8v1.6h-1.8zM734.0,281.8h1.8v1.6h-1.8zM674.5,372.6h1.8v1.6h-1.8zM733.8,292.2h1.8v1.6h-1.8zM797.7,326.4h1.8v1.6h-1.8zM679.1,373.8h1.8v1.6h-1.8zM721.9,406.3h1.8v1.6h-1.8zM747.4,403.3h1.8v1.6h-1.8zM780.1,308.4h1.8v1.6h-1.8zM755.0,295.5h1.8v1.6h-1.8zM768.6,308.1h1.8v1.6h-1.8zM745.4,407.9h1.8v1.6h-1.8zM714.1,393.0h1.8v1.6h-1.8zM787.0,378.5h1.8v1.6h-1.8zM779.6,349.6h1.8v1.6h-1.8zM792.5,320.6h1.8v1.6h-1.8zM694.1,382.9h1.8v1.6h-1.8zM774.8,293.1h1.8v1.6h-1.8zM700.8,289.0h1.8v1.6h-1.8zM661.8,332.0h1.8v1.6h-1.8zM680.8,336.1h1.8v1.6h-1.8zM785.8,372.2h1.8v1.6h-1.8zM723.7,279.2h1.8v1.6h-1.8zM728.0,286.5h1.8v1.6h-1.8zM692.8,384.0h1.8v1.6h-1.8zM692.4,383.7h1.8v1.6h-1.8zM756.6,297.3h1.8v1.6h-1.8zM747.4,407.2h1.8v1.6h-1.8zM685.2,378.0h1.8v1.6h-1.8zM797.6,332.1h1.8v1.6h-1.8zM740.6,395.7h1.8v1.6h-1.8zM669.0,346.3h1.8v1.6h-1.8zM695.1,395.6h1.8v1.6h-1.8zM701.5,281.8h1.8v1.6h-1.8zM733.6,408.0h1.8v1.6h-1.8zM776.9,361.5h1.8v1.6h-1.8zM778.5,361.2h1.8v1.6h-1.8zM741.8,285.7h1.8v1.6h-1.8zM671.6,346.0h1.8v1.6h-1.8zM743.6,392.0h1.8v1.6h-1.8zM758.5,406.2h1.8v1.6h-1.8zM699.7,394.1h1.8v1.6h-1.8zM724.6,409.8h1.8v1.6h-1.8zM713.6,286.9h1.8v1.6h-1.8zM672.8,340.9h1.8v1.6h-1.8zM675.0,315.0h1.8v1.6h-1.8zM670.3,310.6h1.8v1.6h-1.8zM777.5,327.7h1.8v1.6h-1.8zM694.8,377.9h1.8v1.6h-1.8zM683.7,391.5h1.8v1.6h-1.8zM704.2,286.3h1.8v1.6h-1.8zM787.4,378.5h1.8v1.6h-1.8zM688.2,306.2h1.8v1.6h-1.8zM741.3,294.1h1.8v1.6h-1.8zM755.7,405.9h1.8v1.6h-1.8zM779.8,358.3h1.8v1.6h-1.8zM666.1,342.6h1.8v1.6h-1.8zM689.0,316.5h1.8v1.6h-1.8zM720.5,408.6h1.8v1.6h-1.8zM699.8,387.7h1.8v1.6h-1.8zM785.1,344.1h1.8v1.6h-1.8zM775.2,321.9h1.8v1.6h-1.8zM666.0,320.3h1.8v1.6h-1.8zM713.7,289.4h1.8v1.6h-1.8zM700.1,301.1h1.8v1.6h-1.8zM675.8,343.7h1.8v1.6h-1.8zM778.4,294.5h1.8v1.6h-1.8zM734.8,284.6h1.8v1.6h-1.8zM750.7,274.9h1.8v1.6h-1.8zM689.2,388.8h1.8v1.6h-1.8zM757.1,387.8h1.8v1.6h-1.8zM721.2,293.2h1.8v1.6h-1.8zM689.5,312.2h1.8v1.6h-1.8zM698.7,284.7h1.8v1.6h-1.8zM784.2,321.8h1.8v1.6h-1.8zM686.1,381.3h1.8v1.6h-1.8zM712.4,278.1h1.8v1.6h-1.8zM772.4,381.6h1.8v1.6h-1.8zM781.3,362.2h1.8v1.6h-1.8zM723.5,273.0h1.8v1.6h-1.8zM779.9,337.0h1.8v1.6h-1.8zM675.3,383.4h1.8v1.6h-1.8zM673.9,341.6h1.8v1.6h-1.8zM744.1,275.4h1.8v1.6h-1.8zM767.2,392.5h1.8v1.6h-1.8zM762.2,386.5h1.8v1.6h-1.8zM677.1,332.6h1.8v1.6h-1.8zM749.8,288.2h1.8v1.6h-1.8zM756.8,401.9h1.8v1.6h-1.8zM726.7,394.3h1.8v1.6h-1.8zM783.2,343.0h1.8v1.6h-1.8zM770.9,388.3h1.8v1.6h-1.8zM796.5,345.0h1.8v1.6h-1.8zM774.2,366.2h1.8v1.6h-1.8zM789.5,330.2h1.8v1.6h-1.8zM791.9,313.0h1.8v1.6h-1.8zM725.6,293.4h1.8v1.6h-1.8zM699.7,303.2h1.8v1.6h-1.8zM797.4,347.9h1.8v1.6h-1.8zM707.7,406.0h1.8v1.6h-1.8z" fill="#2196a2"/>
<circle cx="730.4" cy="343.5" r="45.5" fill="#1f70ec" stroke="#15275a" stroke-width="2.2"/>
<circle cx="730" cy="343.6" r="27" fill="#f1a58c" stroke="#1a2766" stroke-width="2.2"/>

<g stroke="#1a1a1a" stroke-width="1.5">
  <line x1="811" y1="287" x2="848.3" y2="287"/>
  <line x1="783" y1="314.5" x2="848.3" y2="314.5"/>
  <line x1="750.7" y1="344.4" x2="848.3" y2="344.4"/>
  <line x1="722" y1="374.6" x2="848.3" y2="374.6"/>
</g>
<g fill="#161616" stroke="#161616" stroke-width="0.65" font-size="21">
  <text transform="translate(848.8,291.1) scale(0.835,1)">soil/rock</text>
  <text transform="translate(847.6,316.6) scale(0.825,1)">grout</text>
  <text transform="translate(847.9,348.0) scale(0.822,1)">inner pipe</text>
  <text transform="translate(848.7,378.1) scale(0.825,1)">outer pipe</text>
</g>
</g>
</svg>
</body></html>
